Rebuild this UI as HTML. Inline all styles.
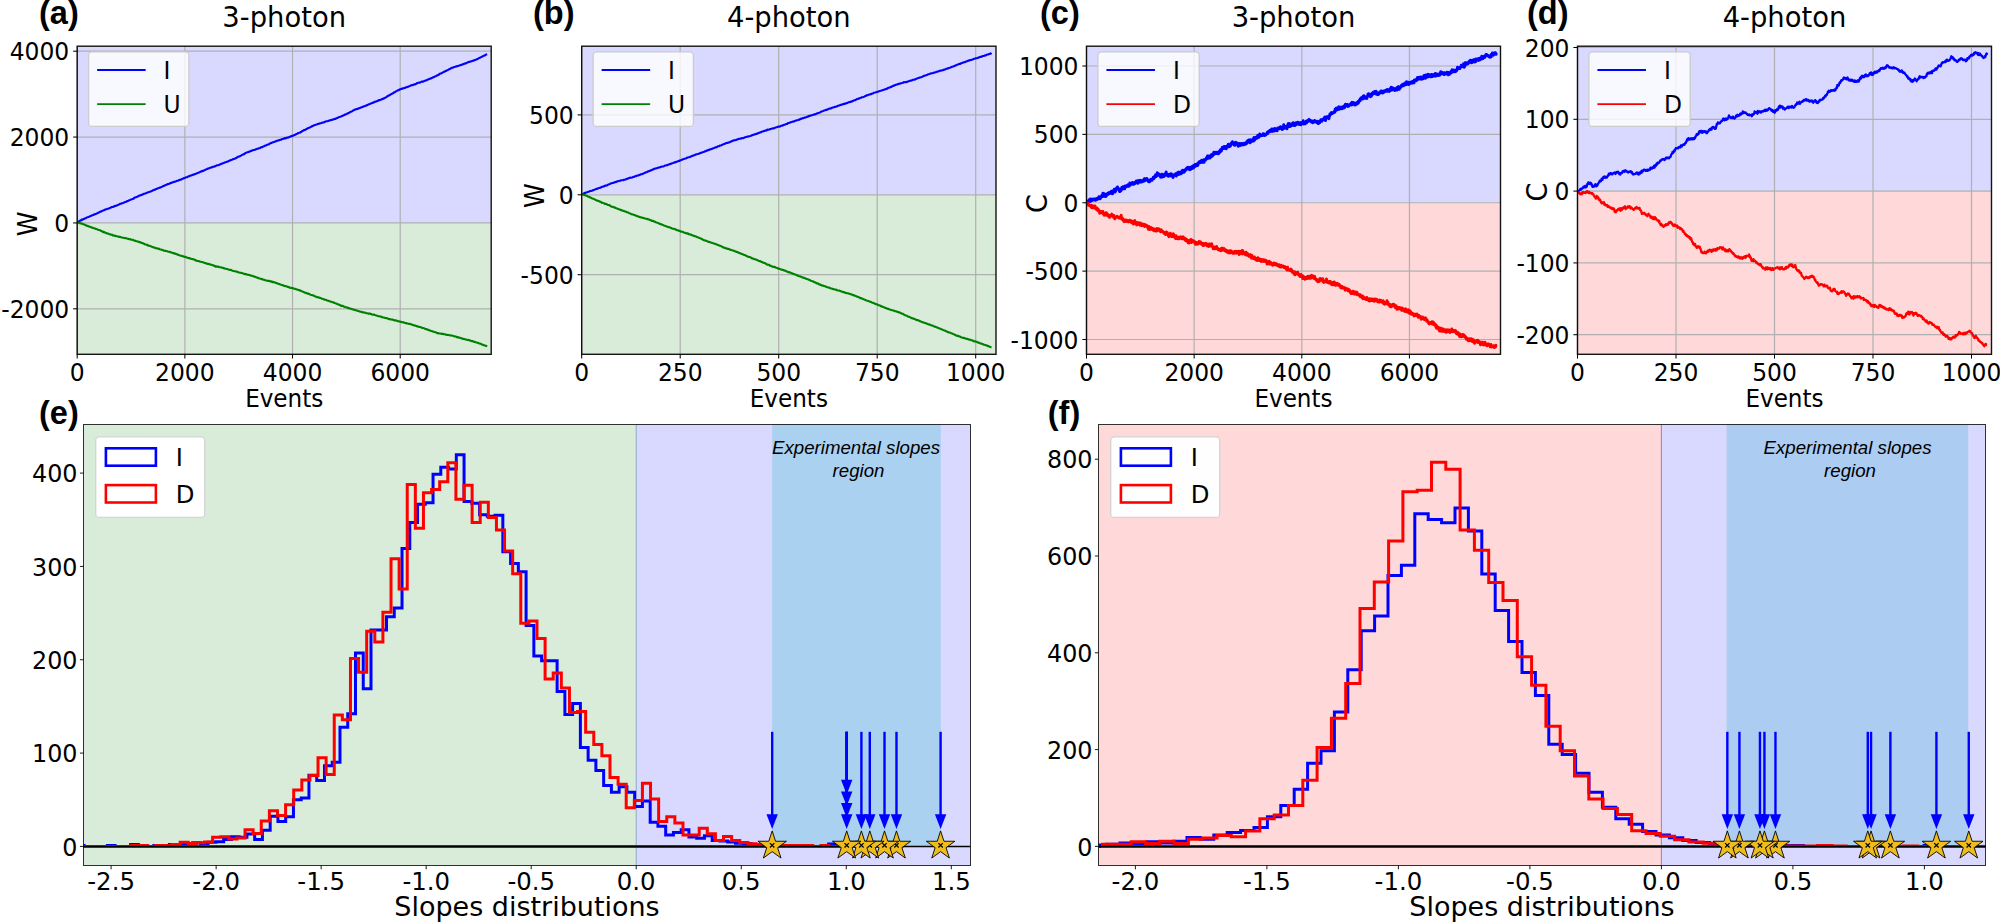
<!DOCTYPE html>
<html><head><meta charset="utf-8"><title>Figure</title>
<style>html,body{margin:0;padding:0;background:#fff}body{width:2000px;height:922px;overflow:hidden}svg{display:block}</style>
</head><body>
<svg width="2000" height="922" viewBox="0 0 2000 922">
<rect width="2000" height="922" fill="#fff"/>
<clipPath id="ca"><rect x="77.2" y="46.2" width="414.0" height="308.1"/></clipPath>
<rect x="77.2" y="46.2" width="414.0" height="176.73" fill="#d9d9ff"/>
<rect x="77.2" y="222.93" width="414.0" height="131.37" fill="#d9ecd9"/>
<line x1="77.20" x2="77.20" y1="46.2" y2="354.3" stroke="#b0b0b0" stroke-width="1.2"/>
<line x1="77.20" x2="77.20" y1="354.3" y2="358.6" stroke="#000" stroke-width="1.05"/>
<text transform="translate(77.20,380.90) scale(1,1.04)" font-size="23.4" text-anchor="middle" font-family="DejaVu Sans, Liberation Sans, sans-serif" >0</text>
<line x1="184.87" x2="184.87" y1="46.2" y2="354.3" stroke="#b0b0b0" stroke-width="1.2"/>
<line x1="184.87" x2="184.87" y1="354.3" y2="358.6" stroke="#000" stroke-width="1.05"/>
<text transform="translate(184.87,380.90) scale(1,1.04)" font-size="23.4" text-anchor="middle" font-family="DejaVu Sans, Liberation Sans, sans-serif" >2000</text>
<line x1="292.53" x2="292.53" y1="46.2" y2="354.3" stroke="#b0b0b0" stroke-width="1.2"/>
<line x1="292.53" x2="292.53" y1="354.3" y2="358.6" stroke="#000" stroke-width="1.05"/>
<text transform="translate(292.53,380.90) scale(1,1.04)" font-size="23.4" text-anchor="middle" font-family="DejaVu Sans, Liberation Sans, sans-serif" >4000</text>
<line x1="400.20" x2="400.20" y1="46.2" y2="354.3" stroke="#b0b0b0" stroke-width="1.2"/>
<line x1="400.20" x2="400.20" y1="354.3" y2="358.6" stroke="#000" stroke-width="1.05"/>
<text transform="translate(400.20,380.90) scale(1,1.04)" font-size="23.4" text-anchor="middle" font-family="DejaVu Sans, Liberation Sans, sans-serif" >6000</text>
<line x1="77.2" x2="491.2" y1="51.20" y2="51.20" stroke="#b0b0b0" stroke-width="1.2"/>
<line x1="73.10000000000001" x2="77.2" y1="51.20" y2="51.20" stroke="#000" stroke-width="1.05"/>
<text transform="translate(69.20,60.30) scale(1,1.04)" font-size="23.4" text-anchor="end" font-family="DejaVu Sans, Liberation Sans, sans-serif" >4000</text>
<line x1="77.2" x2="491.2" y1="137.07" y2="137.07" stroke="#b0b0b0" stroke-width="1.2"/>
<line x1="73.10000000000001" x2="77.2" y1="137.07" y2="137.07" stroke="#000" stroke-width="1.05"/>
<text transform="translate(69.20,146.17) scale(1,1.04)" font-size="23.4" text-anchor="end" font-family="DejaVu Sans, Liberation Sans, sans-serif" >2000</text>
<line x1="77.2" x2="491.2" y1="222.93" y2="222.93" stroke="#b0b0b0" stroke-width="1.2"/>
<line x1="73.10000000000001" x2="77.2" y1="222.93" y2="222.93" stroke="#000" stroke-width="1.05"/>
<text transform="translate(69.20,232.03) scale(1,1.04)" font-size="23.4" text-anchor="end" font-family="DejaVu Sans, Liberation Sans, sans-serif" >0</text>
<line x1="77.2" x2="491.2" y1="308.80" y2="308.80" stroke="#b0b0b0" stroke-width="1.2"/>
<line x1="73.10000000000001" x2="77.2" y1="308.80" y2="308.80" stroke="#000" stroke-width="1.05"/>
<text transform="translate(69.20,317.90) scale(1,1.04)" font-size="23.4" text-anchor="end" font-family="DejaVu Sans, Liberation Sans, sans-serif" >-2000</text>
<g clip-path="url(#ca)">
<polyline points="77.6,221.9 78.5,221.5 79.3,221.1 80.1,220.6 80.9,220.4 81.7,219.6 82.6,219.8 83.4,219.1 84.2,218.9 85.0,218.4 85.8,218.3 86.7,217.5 87.5,217.3 88.3,217.0 89.1,216.8 89.9,216.2 90.8,216.0 91.6,215.5 92.4,215.3 93.2,215.0 94.1,214.4 94.9,214.4 95.7,214.0 96.5,213.6 97.3,213.2 98.2,212.7 99.0,212.4 99.8,211.9 100.6,211.6 101.4,211.4 102.3,210.9 103.1,210.5 103.9,210.2 104.7,209.8 105.5,209.5 106.4,209.3 107.2,208.8 108.0,208.7 108.8,208.5 109.6,208.1 110.5,207.7 111.3,207.3 112.1,207.0 112.9,207.0 113.8,206.5 114.6,206.1 115.4,205.9 116.2,205.8 117.0,205.3 117.9,205.0 118.7,204.6 119.5,204.2 120.3,203.8 121.1,203.6 122.0,203.3 122.8,203.1 123.6,202.8 124.4,202.4 125.2,202.0 126.1,201.8 126.9,201.2 127.7,201.1 128.5,200.7 129.3,200.2 130.2,199.9 131.0,199.5 131.8,199.3 132.6,199.0 133.5,198.7 134.3,197.8 135.1,197.5 135.9,197.2 136.7,196.9 137.6,196.6 138.4,196.2 139.2,195.5 140.0,195.4 140.8,195.2 141.7,194.8 142.5,194.6 143.3,194.1 144.1,193.8 144.9,193.6 145.8,193.3 146.6,192.9 147.4,192.6 148.2,192.2 149.0,192.0 149.9,191.7 150.7,191.5 151.5,191.1 152.3,190.7 153.1,190.3 154.0,189.9 154.8,189.7 155.6,189.3 156.4,188.9 157.3,188.7 158.1,188.2 158.9,188.0 159.7,187.6 160.5,187.4 161.4,187.0 162.2,186.6 163.0,186.1 163.8,185.9 164.6,185.6 165.5,185.1 166.3,184.8 167.1,184.5 167.9,184.0 168.7,183.9 169.6,183.7 170.4,183.1 171.2,183.0 172.0,182.5 172.8,182.3 173.7,181.9 174.5,181.9 175.3,181.5 176.1,181.2 177.0,180.8 177.8,180.7 178.6,180.5 179.4,179.8 180.2,179.8 181.1,179.6 181.9,179.1 182.7,178.6 183.5,178.5 184.3,178.0 185.2,177.7 186.0,177.3 186.8,177.2 187.6,176.9 188.4,176.4 189.3,176.2 190.1,175.7 190.9,175.6 191.7,175.2 192.5,174.9 193.4,174.6 194.2,174.4 195.0,174.1 195.8,173.7 196.7,173.4 197.5,173.0 198.3,172.8 199.1,172.4 199.9,172.1 200.8,171.7 201.6,171.1 202.4,171.1 203.2,170.9 204.0,170.4 204.9,170.0 205.7,169.6 206.5,169.3 207.3,169.0 208.1,168.5 209.0,168.3 209.8,167.9 210.6,167.8 211.4,167.4 212.2,167.2 213.1,166.8 213.9,166.7 214.7,166.3 215.5,166.2 216.4,165.5 217.2,165.3 218.0,165.2 218.8,165.1 219.6,164.5 220.5,164.2 221.3,163.8 222.1,163.7 222.9,163.2 223.7,163.0 224.6,162.6 225.4,162.2 226.2,162.0 227.0,161.7 227.8,161.5 228.7,161.0 229.5,160.6 230.3,160.4 231.1,160.0 231.9,159.7 232.8,159.3 233.6,159.1 234.4,158.7 235.2,158.5 236.1,158.0 236.9,157.6 237.7,156.9 238.5,156.8 239.3,156.4 240.2,156.0 241.0,155.6 241.8,155.0 242.6,154.8 243.4,154.2 244.3,154.1 245.1,153.3 245.9,152.9 246.7,152.5 247.5,152.3 248.4,151.9 249.2,151.9 250.0,151.4 250.8,150.9 251.6,150.9 252.5,150.4 253.3,150.0 254.1,150.0 254.9,149.7 255.8,149.3 256.6,149.2 257.4,148.7 258.2,148.6 259.0,148.2 259.9,148.0 260.7,147.5 261.5,147.1 262.3,147.2 263.1,146.5 264.0,146.2 264.8,145.8 265.6,145.5 266.4,145.2 267.2,144.8 268.1,144.5 268.9,144.3 269.7,143.7 270.5,143.2 271.3,142.9 272.2,142.6 273.0,142.2 273.8,142.2 274.6,141.7 275.4,141.4 276.3,141.2 277.1,140.7 277.9,140.5 278.7,140.4 279.6,140.1 280.4,139.7 281.2,139.7 282.0,139.1 282.8,139.0 283.7,138.7 284.5,138.2 285.3,138.5 286.1,138.0 286.9,137.6 287.8,137.7 288.6,137.3 289.4,137.0 290.2,136.6 291.0,136.4 291.9,135.9 292.7,135.9 293.5,135.4 294.3,135.1 295.1,134.8 296.0,134.3 296.8,133.9 297.6,133.5 298.4,133.0 299.3,132.8 300.1,132.5 300.9,132.0 301.7,131.6 302.5,130.9 303.4,130.5 304.2,130.0 305.0,129.9 305.8,129.3 306.6,129.1 307.5,128.4 308.3,128.1 309.1,127.7 309.9,127.4 310.7,126.9 311.6,126.5 312.4,126.0 313.2,125.7 314.0,125.3 314.8,125.1 315.7,124.8 316.5,124.5 317.3,124.3 318.1,123.9 319.0,123.7 319.8,123.4 320.6,123.2 321.4,123.0 322.2,122.6 323.1,122.5 323.9,122.4 324.7,121.8 325.5,121.6 326.3,121.3 327.2,121.2 328.0,121.2 328.8,120.7 329.6,120.4 330.4,120.3 331.3,119.9 332.1,119.9 332.9,119.5 333.7,119.4 334.5,118.8 335.4,119.0 336.2,118.4 337.0,118.1 337.8,117.7 338.7,117.3 339.5,117.0 340.3,116.8 341.1,116.4 341.9,116.1 342.8,115.6 343.6,115.4 344.4,115.0 345.2,114.5 346.0,114.3 346.9,113.7 347.7,113.5 348.5,113.0 349.3,112.7 350.1,112.0 351.0,111.7 351.8,111.5 352.6,110.9 353.4,110.3 354.2,110.0 355.1,109.5 355.9,109.2 356.7,109.1 357.5,109.0 358.4,108.4 359.2,108.2 360.0,107.9 360.8,107.6 361.6,107.2 362.5,106.9 363.3,106.7 364.1,106.2 364.9,106.1 365.7,105.8 366.6,105.3 367.4,105.1 368.2,104.6 369.0,104.3 369.8,104.0 370.7,103.6 371.5,103.3 372.3,102.9 373.1,102.6 373.9,102.4 374.8,101.7 375.6,101.7 376.4,101.3 377.2,101.1 378.0,100.8 378.9,100.1 379.7,100.2 380.5,99.8 381.3,99.5 382.2,99.1 383.0,98.9 383.8,98.3 384.6,98.1 385.4,97.5 386.3,97.2 387.1,96.4 387.9,95.9 388.7,95.7 389.5,95.2 390.4,94.7 391.2,94.0 392.0,93.7 392.8,93.3 393.6,92.8 394.5,92.3 395.3,91.8 396.1,91.3 396.9,90.9 397.7,90.4 398.6,90.3 399.4,89.6 400.2,89.4 401.0,88.9 401.9,88.9 402.7,88.3 403.5,88.3 404.3,88.0 405.1,87.9 406.0,87.2 406.8,87.1 407.6,86.9 408.4,86.7 409.2,86.2 410.1,86.0 410.9,85.4 411.7,85.3 412.5,85.1 413.3,84.9 414.2,84.4 415.0,84.4 415.8,84.1 416.6,83.5 417.4,83.0 418.3,82.8 419.1,82.6 419.9,82.6 420.7,82.2 421.6,81.6 422.4,81.6 423.2,81.6 424.0,81.1 424.8,80.7 425.7,80.7 426.5,80.2 427.3,79.8 428.1,79.5 428.9,79.1 429.8,78.7 430.6,78.6 431.4,78.2 432.2,77.8 433.0,77.3 433.9,77.1 434.7,76.6 435.5,76.2 436.3,75.9 437.1,75.4 438.0,75.2 438.8,74.6 439.6,73.9 440.4,73.5 441.3,73.4 442.1,72.8 442.9,72.5 443.7,71.9 444.5,71.7 445.4,71.1 446.2,70.9 447.0,70.2 447.8,70.0 448.6,69.6 449.5,69.0 450.3,68.8 451.1,68.2 451.9,67.8 452.7,67.7 453.6,67.3 454.4,67.0 455.2,66.8 456.0,66.4 456.8,66.4 457.7,66.1 458.5,65.7 459.3,65.5 460.1,65.2 461.0,65.1 461.8,64.7 462.6,64.3 463.4,64.2 464.2,63.8 465.1,63.4 465.9,63.4 466.7,62.8 467.5,62.5 468.3,62.1 469.2,61.9 470.0,61.8 470.8,61.4 471.6,61.3 472.4,60.8 473.3,60.6 474.1,60.4 474.9,60.1 475.7,59.7 476.5,59.4 477.4,59.1 478.2,58.6 479.0,58.0 479.8,57.7 480.6,57.4 481.5,56.9 482.3,56.6 483.1,56.0 483.9,55.7 484.8,55.4 485.6,54.7 486.4,54.5 487.2,54.3" fill="none" stroke="#0000ff" stroke-width="2.15" stroke-linejoin="round" />
<polyline points="77.6,222.6 78.5,222.8 79.3,222.9 80.1,223.4 80.9,223.3 81.7,223.6 82.6,224.0 83.4,224.2 84.2,224.5 85.0,224.8 85.8,225.3 86.7,225.8 87.5,225.9 88.3,226.1 89.1,226.6 89.9,226.7 90.8,227.1 91.6,227.5 92.4,227.6 93.2,228.0 94.1,228.2 94.9,228.5 95.7,228.9 96.5,229.0 97.3,229.4 98.2,229.7 99.0,230.0 99.8,230.3 100.6,230.6 101.4,231.1 102.3,231.4 103.1,232.1 103.9,231.9 104.7,232.5 105.5,232.8 106.4,233.2 107.2,233.4 108.0,233.5 108.8,233.9 109.6,234.2 110.5,234.4 111.3,234.8 112.1,234.7 112.9,235.4 113.8,235.6 114.6,235.6 115.4,235.9 116.2,236.1 117.0,236.2 117.9,236.5 118.7,236.8 119.5,236.8 120.3,237.0 121.1,237.2 122.0,237.5 122.8,237.7 123.6,237.7 124.4,238.0 125.2,238.2 126.1,238.1 126.9,238.5 127.7,238.7 128.5,238.9 129.3,239.2 130.2,239.1 131.0,239.6 131.8,239.7 132.6,239.8 133.5,240.3 134.3,240.6 135.1,240.6 135.9,241.1 136.7,241.2 137.6,241.5 138.4,241.6 139.2,242.2 140.0,242.0 140.8,242.6 141.7,243.0 142.5,243.0 143.3,243.5 144.1,243.8 144.9,244.2 145.8,244.6 146.6,244.7 147.4,244.9 148.2,245.6 149.0,245.8 149.9,245.9 150.7,246.3 151.5,246.6 152.3,246.9 153.1,247.2 154.0,247.6 154.8,247.5 155.6,248.1 156.4,248.2 157.3,248.4 158.1,248.8 158.9,248.7 159.7,249.3 160.5,249.5 161.4,249.6 162.2,250.0 163.0,250.1 163.8,250.7 164.6,250.8 165.5,250.9 166.3,251.0 167.1,251.2 167.9,251.5 168.7,251.7 169.6,251.9 170.4,252.1 171.2,252.4 172.0,252.7 172.8,252.9 173.7,253.1 174.5,253.8 175.3,253.6 176.1,253.9 177.0,254.4 177.8,254.6 178.6,254.9 179.4,255.3 180.2,255.6 181.1,255.8 181.9,255.9 182.7,256.4 183.5,256.3 184.3,256.8 185.2,256.9 186.0,257.1 186.8,257.5 187.6,257.7 188.4,258.1 189.3,258.0 190.1,258.5 190.9,258.7 191.7,259.0 192.5,259.0 193.4,259.4 194.2,259.5 195.0,259.7 195.8,260.6 196.7,260.6 197.5,261.0 198.3,261.0 199.1,261.3 199.9,261.6 200.8,261.8 201.6,262.0 202.4,262.2 203.2,262.2 204.0,262.7 204.9,263.0 205.7,263.3 206.5,263.3 207.3,263.8 208.1,263.8 209.0,264.0 209.8,264.5 210.6,264.5 211.4,264.7 212.2,265.1 213.1,265.4 213.9,265.6 214.7,265.9 215.5,266.6 216.4,266.4 217.2,266.7 218.0,266.5 218.8,267.0 219.6,267.2 220.5,267.3 221.3,267.4 222.1,267.8 222.9,267.9 223.7,268.1 224.6,268.5 225.4,268.7 226.2,268.8 227.0,269.0 227.8,269.3 228.7,269.6 229.5,269.8 230.3,269.8 231.1,270.1 231.9,270.4 232.8,270.7 233.6,271.0 234.4,271.2 235.2,271.2 236.1,271.5 236.9,271.6 237.7,272.2 238.5,272.2 239.3,272.5 240.2,272.8 241.0,272.9 241.8,273.0 242.6,273.3 243.4,273.5 244.3,273.9 245.1,274.1 245.9,274.0 246.7,274.5 247.5,274.7 248.4,274.7 249.2,275.0 250.0,275.1 250.8,275.6 251.6,275.7 252.5,275.9 253.3,276.2 254.1,276.6 254.9,276.8 255.8,277.1 256.6,277.5 257.4,277.6 258.2,277.9 259.0,278.5 259.9,278.5 260.7,278.7 261.5,279.1 262.3,279.1 263.1,279.7 264.0,279.8 264.8,280.1 265.6,280.3 266.4,280.5 267.2,280.7 268.1,280.9 268.9,280.9 269.7,281.1 270.5,281.4 271.3,281.3 272.2,282.1 273.0,281.9 273.8,282.3 274.6,282.4 275.4,282.6 276.3,283.1 277.1,283.3 277.9,283.6 278.7,284.0 279.6,284.1 280.4,284.5 281.2,284.8 282.0,285.0 282.8,285.3 283.7,285.7 284.5,285.9 285.3,286.2 286.1,286.1 286.9,286.6 287.8,286.9 288.6,287.1 289.4,287.4 290.2,287.8 291.0,287.8 291.9,288.1 292.7,288.1 293.5,288.4 294.3,288.7 295.1,288.8 296.0,289.2 296.8,289.4 297.6,289.7 298.4,289.9 299.3,290.1 300.1,290.6 300.9,290.8 301.7,291.2 302.5,291.5 303.4,291.8 304.2,292.3 305.0,292.7 305.8,292.9 306.6,293.1 307.5,293.7 308.3,293.6 309.1,293.9 309.9,294.4 310.7,294.7 311.6,295.0 312.4,295.3 313.2,295.4 314.0,295.7 314.8,296.3 315.7,296.6 316.5,296.7 317.3,297.3 318.1,297.2 319.0,297.6 319.8,297.9 320.6,298.0 321.4,298.4 322.2,298.7 323.1,299.0 323.9,299.4 324.7,299.6 325.5,299.7 326.3,300.0 327.2,300.4 328.0,300.7 328.8,300.8 329.6,301.3 330.4,301.6 331.3,301.7 332.1,302.2 332.9,302.2 333.7,302.5 334.5,303.0 335.4,303.2 336.2,303.5 337.0,303.9 337.8,304.2 338.7,304.6 339.5,304.8 340.3,305.2 341.1,306.0 341.9,305.9 342.8,305.9 343.6,306.5 344.4,306.8 345.2,307.1 346.0,307.2 346.9,307.4 347.7,307.9 348.5,308.1 349.3,308.0 350.1,308.6 351.0,308.7 351.8,309.1 352.6,309.2 353.4,309.6 354.2,309.8 355.1,310.1 355.9,310.2 356.7,310.4 357.5,310.7 358.4,311.0 359.2,311.2 360.0,311.6 360.8,311.7 361.6,311.9 362.5,312.3 363.3,312.3 364.1,312.5 364.9,312.6 365.7,312.9 366.6,313.2 367.4,313.3 368.2,313.6 369.0,313.5 369.8,313.6 370.7,314.0 371.5,314.0 372.3,314.7 373.1,314.7 373.9,314.6 374.8,315.0 375.6,315.2 376.4,315.5 377.2,315.7 378.0,316.0 378.9,316.3 379.7,316.4 380.5,316.5 381.3,316.9 382.2,317.1 383.0,317.5 383.8,317.5 384.6,317.8 385.4,318.0 386.3,318.1 387.1,318.3 387.9,318.6 388.7,319.1 389.5,319.1 390.4,319.2 391.2,319.5 392.0,319.6 392.8,319.6 393.6,320.0 394.5,320.4 395.3,320.4 396.1,320.4 396.9,320.8 397.7,321.2 398.6,321.2 399.4,321.4 400.2,321.8 401.0,321.9 401.9,322.1 402.7,322.2 403.5,322.4 404.3,322.6 405.1,323.0 406.0,323.0 406.8,323.5 407.6,323.5 408.4,323.7 409.2,324.0 410.1,323.9 410.9,324.3 411.7,324.5 412.5,324.9 413.3,325.0 414.2,325.5 415.0,325.5 415.8,325.9 416.6,326.0 417.4,326.5 418.3,326.6 419.1,326.9 419.9,327.0 420.7,327.2 421.6,327.6 422.4,328.0 423.2,328.0 424.0,328.2 424.8,328.7 425.7,329.1 426.5,329.1 427.3,329.5 428.1,329.9 428.9,330.1 429.8,330.4 430.6,330.8 431.4,331.0 432.2,331.3 433.0,331.6 433.9,331.8 434.7,332.0 435.5,332.2 436.3,332.5 437.1,333.1 438.0,333.1 438.8,333.4 439.6,333.5 440.4,333.5 441.3,333.8 442.1,333.8 442.9,333.8 443.7,334.2 444.5,334.2 445.4,334.4 446.2,334.7 447.0,335.0 447.8,334.9 448.6,335.0 449.5,335.3 450.3,335.4 451.1,335.5 451.9,335.5 452.7,335.8 453.6,336.1 454.4,336.2 455.2,336.5 456.0,336.6 456.8,337.2 457.7,337.1 458.5,337.7 459.3,337.6 460.1,337.8 461.0,338.0 461.8,338.5 462.6,338.8 463.4,338.8 464.2,339.1 465.1,339.3 465.9,339.5 466.7,339.8 467.5,340.0 468.3,339.9 469.2,340.1 470.0,340.6 470.8,340.8 471.6,341.1 472.4,341.1 473.3,341.4 474.1,342.0 474.9,341.9 475.7,342.3 476.5,342.5 477.4,342.8 478.2,342.9 479.0,343.5 479.8,343.5 480.6,343.8 481.5,344.2 482.3,344.7 483.1,344.9 483.9,345.2 484.8,345.4 485.6,345.7 486.4,346.0 487.2,346.4" fill="none" stroke="#008000" stroke-width="2.15" stroke-linejoin="round" />
</g>
<rect x="77.2" y="46.2" width="414.0" height="308.1" fill="none" stroke="#000" stroke-width="1.4" stroke-opacity="0.92"/>
<rect x="88.6" y="51.9" width="100.3" height="74.5" rx="3.5" fill="#fff" fill-opacity="0.8" stroke="#ccc" stroke-width="1.3"/>
<line x1="98.1" x2="144.7" y1="70.0" y2="70.0" stroke="#0000ff" stroke-width="1.95" stroke-linecap="square"/>
<text transform="translate(163.60,78.80) scale(1,1.04)" font-size="23.4" text-anchor="start" font-family="DejaVu Sans, Liberation Sans, sans-serif" >I</text>
<line x1="98.1" x2="144.7" y1="104.1" y2="104.1" stroke="#008000" stroke-width="1.95" stroke-linecap="square"/>
<text transform="translate(163.60,112.90) scale(1,1.04)" font-size="23.4" text-anchor="start" font-family="DejaVu Sans, Liberation Sans, sans-serif" >U</text>
<text transform="translate(284.20,26.90) scale(1,1.015)" font-size="27.4" text-anchor="middle" font-family="DejaVu Sans, Liberation Sans, sans-serif" >3-photon</text>
<text transform="translate(284.20,407.40) scale(1,1.04)" font-size="23.1" text-anchor="middle" font-family="DejaVu Sans, Liberation Sans, sans-serif" >Events</text>
<text transform="translate(37.0,223.8) rotate(-90) scale(1,1.04)" font-size="25.0" text-anchor="middle" font-family="DejaVu Sans, Liberation Sans, sans-serif">W</text>
<text x="39.00" y="24.20" font-size="32.5" text-anchor="start" font-family="Liberation Sans, sans-serif" font-weight="bold">(a)</text>
<clipPath id="cb"><rect x="581.7" y="46.2" width="414.29999999999995" height="308.1"/></clipPath>
<rect x="581.7" y="46.2" width="414.29999999999995" height="148.60" fill="#d9d9ff"/>
<rect x="581.7" y="194.80" width="414.29999999999995" height="159.50" fill="#d9ecd9"/>
<line x1="581.70" x2="581.70" y1="46.2" y2="354.3" stroke="#b0b0b0" stroke-width="1.2"/>
<line x1="581.70" x2="581.70" y1="354.3" y2="358.6" stroke="#000" stroke-width="1.05"/>
<text transform="translate(581.70,380.90) scale(1,1.04)" font-size="23.4" text-anchor="middle" font-family="DejaVu Sans, Liberation Sans, sans-serif" >0</text>
<line x1="680.20" x2="680.20" y1="46.2" y2="354.3" stroke="#b0b0b0" stroke-width="1.2"/>
<line x1="680.20" x2="680.20" y1="354.3" y2="358.6" stroke="#000" stroke-width="1.05"/>
<text transform="translate(680.20,380.90) scale(1,1.04)" font-size="23.4" text-anchor="middle" font-family="DejaVu Sans, Liberation Sans, sans-serif" >250</text>
<line x1="778.70" x2="778.70" y1="46.2" y2="354.3" stroke="#b0b0b0" stroke-width="1.2"/>
<line x1="778.70" x2="778.70" y1="354.3" y2="358.6" stroke="#000" stroke-width="1.05"/>
<text transform="translate(778.70,380.90) scale(1,1.04)" font-size="23.4" text-anchor="middle" font-family="DejaVu Sans, Liberation Sans, sans-serif" >500</text>
<line x1="877.20" x2="877.20" y1="46.2" y2="354.3" stroke="#b0b0b0" stroke-width="1.2"/>
<line x1="877.20" x2="877.20" y1="354.3" y2="358.6" stroke="#000" stroke-width="1.05"/>
<text transform="translate(877.20,380.90) scale(1,1.04)" font-size="23.4" text-anchor="middle" font-family="DejaVu Sans, Liberation Sans, sans-serif" >750</text>
<line x1="975.70" x2="975.70" y1="46.2" y2="354.3" stroke="#b0b0b0" stroke-width="1.2"/>
<line x1="975.70" x2="975.70" y1="354.3" y2="358.6" stroke="#000" stroke-width="1.05"/>
<text transform="translate(975.70,380.90) scale(1,1.04)" font-size="23.4" text-anchor="middle" font-family="DejaVu Sans, Liberation Sans, sans-serif" >1000</text>
<line x1="581.7" x2="996.0" y1="114.90" y2="114.90" stroke="#b0b0b0" stroke-width="1.2"/>
<line x1="577.6" x2="581.7" y1="114.90" y2="114.90" stroke="#000" stroke-width="1.05"/>
<text transform="translate(573.70,124.00) scale(1,1.04)" font-size="23.4" text-anchor="end" font-family="DejaVu Sans, Liberation Sans, sans-serif" >500</text>
<line x1="581.7" x2="996.0" y1="194.80" y2="194.80" stroke="#b0b0b0" stroke-width="1.2"/>
<line x1="577.6" x2="581.7" y1="194.80" y2="194.80" stroke="#000" stroke-width="1.05"/>
<text transform="translate(573.70,203.90) scale(1,1.04)" font-size="23.4" text-anchor="end" font-family="DejaVu Sans, Liberation Sans, sans-serif" >0</text>
<line x1="581.7" x2="996.0" y1="274.70" y2="274.70" stroke="#b0b0b0" stroke-width="1.2"/>
<line x1="577.6" x2="581.7" y1="274.70" y2="274.70" stroke="#000" stroke-width="1.05"/>
<text transform="translate(573.70,283.80) scale(1,1.04)" font-size="23.4" text-anchor="end" font-family="DejaVu Sans, Liberation Sans, sans-serif" >-500</text>
<g clip-path="url(#cb)">
<polyline points="581.9,194.1 582.8,193.8 583.6,193.5 584.4,193.1 585.2,192.9 586.0,192.6 586.9,192.3 587.7,192.0 588.5,191.7 589.3,191.4 590.2,191.0 591.0,191.0 591.8,190.7 592.6,190.5 593.4,190.0 594.3,189.7 595.1,189.4 595.9,189.0 596.7,189.0 597.5,188.5 598.4,188.2 599.2,188.0 600.0,187.9 600.8,187.5 601.6,187.0 602.5,186.7 603.3,186.6 604.1,186.2 604.9,185.8 605.7,185.6 606.6,185.4 607.4,185.2 608.2,184.5 609.0,184.3 609.8,184.0 610.7,183.5 611.5,183.3 612.3,183.0 613.1,183.0 614.0,182.6 614.8,182.1 615.6,182.2 616.4,181.8 617.2,181.4 618.1,181.3 618.9,181.0 619.7,180.8 620.5,180.7 621.3,180.2 622.2,180.2 623.0,180.1 623.8,179.9 624.6,179.7 625.4,179.4 626.3,179.3 627.1,178.7 627.9,178.7 628.7,178.1 629.5,178.0 630.4,177.6 631.2,177.7 632.0,177.5 632.8,177.1 633.7,177.0 634.5,176.5 635.3,176.3 636.1,176.1 636.9,175.6 637.8,175.5 638.6,175.4 639.4,174.8 640.2,174.7 641.0,174.3 641.9,174.2 642.7,173.8 643.5,173.5 644.3,173.1 645.1,172.8 646.0,172.2 646.8,172.2 647.6,171.5 648.4,171.4 649.2,171.1 650.1,170.6 650.9,170.4 651.7,170.2 652.5,169.7 653.4,169.3 654.2,168.7 655.0,168.7 655.8,168.4 656.6,168.2 657.5,167.9 658.3,167.8 659.1,167.4 659.9,167.2 660.7,167.1 661.6,166.6 662.4,166.5 663.2,166.5 664.0,166.1 664.8,165.6 665.7,165.5 666.5,165.3 667.3,165.1 668.1,164.7 668.9,164.4 669.8,164.1 670.6,163.9 671.4,163.6 672.2,163.2 673.1,163.0 673.9,162.6 674.7,162.5 675.5,162.0 676.3,161.9 677.2,161.6 678.0,161.3 678.8,160.8 679.6,160.8 680.4,160.2 681.3,160.1 682.1,159.6 682.9,159.2 683.7,159.1 684.5,158.8 685.4,158.5 686.2,158.2 687.0,157.8 687.8,157.5 688.6,157.3 689.5,157.2 690.3,156.8 691.1,156.3 691.9,156.1 692.8,155.7 693.6,155.4 694.4,155.3 695.2,154.8 696.0,154.4 696.9,154.2 697.7,154.0 698.5,153.7 699.3,153.6 700.1,153.0 701.0,152.9 701.8,152.6 702.6,152.2 703.4,152.0 704.2,151.7 705.1,151.2 705.9,151.2 706.7,150.6 707.5,150.4 708.3,150.1 709.2,149.9 710.0,149.4 710.8,149.2 711.6,148.9 712.4,148.7 713.3,148.2 714.1,148.0 714.9,147.6 715.7,147.2 716.6,147.3 717.4,146.7 718.2,146.2 719.0,146.2 719.8,145.6 720.7,145.5 721.5,145.2 722.3,144.7 723.1,144.4 723.9,144.1 724.8,143.8 725.6,143.3 726.4,143.1 727.2,142.9 728.0,142.7 728.9,142.4 729.7,142.2 730.5,141.8 731.3,141.3 732.1,141.1 733.0,140.6 733.8,140.4 734.6,140.2 735.4,140.1 736.3,139.9 737.1,139.5 737.9,139.2 738.7,138.9 739.5,138.8 740.4,138.6 741.2,138.4 742.0,138.1 742.8,138.2 743.6,137.9 744.5,137.5 745.3,137.2 746.1,137.0 746.9,136.8 747.7,136.6 748.6,136.4 749.4,136.2 750.2,136.0 751.0,135.7 751.8,135.3 752.7,135.1 753.5,134.7 754.3,134.4 755.1,134.4 756.0,133.8 756.8,133.9 757.6,133.3 758.4,133.1 759.2,132.9 760.1,132.4 760.9,132.2 761.7,131.8 762.5,131.5 763.3,131.3 764.2,130.9 765.0,130.9 765.8,130.4 766.6,130.4 767.4,129.6 768.3,129.7 769.1,129.5 769.9,129.1 770.7,129.1 771.5,128.8 772.4,128.4 773.2,128.3 774.0,128.3 774.8,127.8 775.7,127.5 776.5,127.2 777.3,127.0 778.1,126.6 778.9,126.5 779.8,126.6 780.6,126.1 781.4,125.8 782.2,125.6 783.0,125.4 783.9,124.9 784.7,124.8 785.5,124.4 786.3,124.0 787.1,123.9 788.0,123.1 788.8,123.0 789.6,122.8 790.4,122.3 791.2,122.1 792.1,121.8 792.9,121.5 793.7,121.6 794.5,121.1 795.4,120.8 796.2,120.6 797.0,120.2 797.8,120.0 798.6,119.7 799.5,119.6 800.3,118.9 801.1,118.9 801.9,118.6 802.7,118.1 803.6,118.1 804.4,117.6 805.2,117.6 806.0,117.2 806.8,117.0 807.7,116.6 808.5,116.4 809.3,115.8 810.1,115.8 810.9,115.5 811.8,115.3 812.6,115.0 813.4,114.8 814.2,114.3 815.0,114.4 815.9,114.1 816.7,113.5 817.5,113.2 818.3,113.0 819.2,112.8 820.0,112.5 820.8,111.8 821.6,111.6 822.4,111.2 823.3,110.9 824.1,110.5 824.9,110.4 825.7,109.9 826.5,110.0 827.4,109.6 828.2,109.1 829.0,108.8 829.8,108.6 830.6,108.5 831.5,108.0 832.3,107.6 833.1,107.5 833.9,107.3 834.7,106.9 835.6,106.9 836.4,106.5 837.2,106.2 838.0,105.8 838.9,105.6 839.7,105.3 840.5,104.8 841.3,104.8 842.1,104.3 843.0,104.3 843.8,103.8 844.6,104.0 845.4,103.5 846.2,103.3 847.1,103.1 847.9,102.6 848.7,102.2 849.5,102.1 850.3,102.0 851.2,101.6 852.0,101.4 852.8,101.1 853.6,100.5 854.4,100.3 855.3,100.2 856.1,99.6 856.9,99.1 857.7,99.0 858.6,98.6 859.4,98.4 860.2,98.0 861.0,97.8 861.8,97.2 862.7,97.2 863.5,97.0 864.3,96.6 865.1,96.0 865.9,95.9 866.8,95.2 867.6,95.3 868.4,94.9 869.2,94.5 870.0,94.4 870.9,94.1 871.7,93.9 872.5,93.5 873.3,93.2 874.1,92.7 875.0,92.5 875.8,92.3 876.6,92.1 877.4,91.8 878.3,91.7 879.1,91.2 879.9,91.0 880.7,90.8 881.5,90.5 882.4,90.3 883.2,89.9 884.0,89.8 884.8,89.3 885.6,89.2 886.5,88.7 887.3,88.6 888.1,87.9 888.9,87.8 889.7,87.4 890.6,87.1 891.4,86.9 892.2,86.3 893.0,85.9 893.8,85.6 894.7,85.4 895.5,84.9 896.3,84.8 897.1,84.4 898.0,84.1 898.8,83.9 899.6,83.8 900.4,83.4 901.2,83.2 902.1,83.0 902.9,82.8 903.7,82.2 904.5,82.3 905.3,82.1 906.2,82.1 907.0,81.9 907.8,81.6 908.6,81.3 909.4,80.9 910.3,80.8 911.1,80.6 911.9,80.4 912.7,79.9 913.5,79.8 914.4,79.6 915.2,79.4 916.0,78.9 916.8,78.6 917.6,78.2 918.5,78.0 919.3,77.6 920.1,77.5 920.9,77.2 921.8,76.9 922.6,76.6 923.4,76.1 924.2,75.9 925.0,75.5 925.9,75.3 926.7,75.1 927.5,74.7 928.3,74.2 929.1,74.1 930.0,73.8 930.8,73.4 931.6,73.2 932.4,73.2 933.2,73.0 934.1,72.5 934.9,72.5 935.7,72.3 936.5,71.7 937.3,71.6 938.2,71.4 939.0,71.2 939.8,70.7 940.6,70.6 941.5,70.6 942.3,70.3 943.1,70.2 943.9,69.6 944.7,69.6 945.6,69.2 946.4,68.7 947.2,68.7 948.0,68.3 948.8,68.1 949.7,67.7 950.5,67.5 951.3,67.1 952.1,66.8 952.9,66.6 953.8,66.2 954.6,65.8 955.4,65.7 956.2,65.2 957.0,64.8 957.9,64.5 958.7,64.1 959.5,63.9 960.3,63.9 961.2,63.2 962.0,63.0 962.8,62.6 963.6,62.4 964.4,62.3 965.3,62.0 966.1,61.5 966.9,61.3 967.7,60.9 968.5,60.6 969.4,60.4 970.2,60.1 971.0,60.0 971.8,59.7 972.6,59.5 973.5,59.1 974.3,58.7 975.1,58.6 975.9,58.3 976.7,58.2 977.6,57.9 978.4,57.7 979.2,57.3 980.0,56.9 980.9,56.9 981.7,56.7 982.5,56.1 983.3,56.0 984.1,55.9 985.0,55.3 985.8,55.4 986.6,54.8 987.4,54.5 988.2,54.5 989.1,54.1 989.9,53.7 990.7,53.6 991.5,52.9" fill="none" stroke="#0000ff" stroke-width="2.15" stroke-linejoin="round" />
<polyline points="581.9,194.1 582.8,194.4 583.6,194.7 584.4,195.1 585.2,195.3 586.0,195.5 586.9,195.9 587.7,196.4 588.5,196.7 589.3,196.9 590.2,197.5 591.0,197.8 591.8,198.2 592.6,198.5 593.4,198.7 594.3,199.3 595.1,199.5 595.9,200.1 596.7,200.4 597.5,200.7 598.4,200.9 599.2,201.3 600.0,201.7 600.8,201.9 601.6,202.6 602.5,202.7 603.3,203.2 604.1,203.2 604.9,203.9 605.7,203.8 606.6,204.2 607.4,204.7 608.2,205.0 609.0,205.0 609.8,205.5 610.7,206.1 611.5,206.6 612.3,206.7 613.1,206.9 614.0,207.4 614.8,207.5 615.6,208.0 616.4,208.2 617.2,208.6 618.1,208.9 618.9,209.3 619.7,209.5 620.5,209.9 621.3,210.1 622.2,210.5 623.0,210.8 623.8,210.8 624.6,211.3 625.4,211.6 626.3,211.8 627.1,212.3 627.9,212.4 628.7,212.9 629.5,213.3 630.4,213.5 631.2,214.1 632.0,214.2 632.8,214.5 633.7,214.7 634.5,215.1 635.3,215.3 636.1,215.8 636.9,215.9 637.8,216.3 638.6,216.8 639.4,216.9 640.2,217.1 641.0,217.5 641.9,217.5 642.7,217.9 643.5,218.0 644.3,218.2 645.1,218.5 646.0,218.8 646.8,218.9 647.6,219.1 648.4,219.4 649.2,219.5 650.1,219.9 650.9,220.2 651.7,220.8 652.5,220.8 653.4,221.0 654.2,221.6 655.0,221.8 655.8,222.2 656.6,222.5 657.5,222.8 658.3,223.1 659.1,223.6 659.9,223.9 660.7,224.1 661.6,224.4 662.4,224.7 663.2,225.1 664.0,225.5 664.8,225.8 665.7,226.1 666.5,226.3 667.3,226.8 668.1,226.9 668.9,227.2 669.8,227.4 670.6,227.8 671.4,228.0 672.2,228.6 673.1,228.7 673.9,228.7 674.7,229.1 675.5,229.3 676.3,229.9 677.2,230.2 678.0,230.3 678.8,230.7 679.6,230.9 680.4,231.2 681.3,231.7 682.1,231.7 682.9,231.9 683.7,232.4 684.5,232.7 685.4,232.9 686.2,233.3 687.0,233.3 687.8,233.4 688.6,234.1 689.5,234.2 690.3,234.4 691.1,234.7 691.9,235.2 692.8,235.4 693.6,235.7 694.4,236.1 695.2,236.2 696.0,236.5 696.9,236.9 697.7,237.2 698.5,237.6 699.3,237.9 700.1,238.3 701.0,238.6 701.8,239.0 702.6,239.5 703.4,239.9 704.2,240.2 705.1,240.4 705.9,240.7 706.7,241.0 707.5,241.4 708.3,241.8 709.2,241.8 710.0,242.3 710.8,242.4 711.6,242.7 712.4,243.0 713.3,243.2 714.1,243.7 714.9,243.7 715.7,244.1 716.6,244.5 717.4,244.7 718.2,245.2 719.0,245.3 719.8,245.8 720.7,246.0 721.5,246.4 722.3,246.9 723.1,247.4 723.9,247.6 724.8,247.9 725.6,248.1 726.4,248.6 727.2,248.6 728.0,248.9 728.9,249.0 729.7,249.5 730.5,249.9 731.3,249.9 732.1,250.2 733.0,250.5 733.8,250.8 734.6,251.1 735.4,251.3 736.3,251.9 737.1,251.8 737.9,252.3 738.7,252.7 739.5,253.1 740.4,253.3 741.2,253.7 742.0,254.0 742.8,254.3 743.6,254.8 744.5,255.0 745.3,255.3 746.1,255.7 746.9,256.1 747.7,256.6 748.6,256.9 749.4,257.0 750.2,257.2 751.0,257.6 751.8,258.3 752.7,258.3 753.5,258.8 754.3,259.2 755.1,259.3 756.0,259.6 756.8,259.9 757.6,260.2 758.4,260.7 759.2,261.1 760.1,261.1 760.9,261.7 761.7,261.9 762.5,262.3 763.3,262.7 764.2,262.9 765.0,263.3 765.8,263.6 766.6,264.3 767.4,264.7 768.3,264.8 769.1,264.9 769.9,265.6 770.7,265.7 771.5,266.3 772.4,266.6 773.2,266.9 774.0,266.9 774.8,267.1 775.7,267.5 776.5,267.8 777.3,268.0 778.1,268.5 778.9,268.8 779.8,268.9 780.6,269.2 781.4,269.6 782.2,269.9 783.0,269.8 783.9,270.4 784.7,270.6 785.5,270.8 786.3,271.2 787.1,271.5 788.0,272.1 788.8,272.1 789.6,272.4 790.4,272.6 791.2,273.2 792.1,273.3 792.9,273.7 793.7,274.1 794.5,274.3 795.4,274.6 796.2,274.9 797.0,275.4 797.8,275.6 798.6,275.9 799.5,276.2 800.3,276.5 801.1,276.8 801.9,277.1 802.7,277.6 803.6,277.8 804.4,277.8 805.2,278.3 806.0,278.8 806.8,278.9 807.7,279.2 808.5,279.7 809.3,279.8 810.1,280.3 810.9,280.7 811.8,281.0 812.6,281.2 813.4,281.5 814.2,282.2 815.0,282.3 815.9,282.7 816.7,283.4 817.5,283.4 818.3,283.5 819.2,284.5 820.0,284.6 820.8,284.8 821.6,285.4 822.4,285.4 823.3,285.9 824.1,286.0 824.9,286.2 825.7,286.6 826.5,286.9 827.4,287.3 828.2,287.5 829.0,287.6 829.8,287.9 830.6,288.4 831.5,288.5 832.3,288.7 833.1,289.1 833.9,289.3 834.7,289.5 835.6,289.6 836.4,289.8 837.2,290.2 838.0,290.5 838.9,290.5 839.7,290.8 840.5,291.1 841.3,291.5 842.1,291.5 843.0,292.2 843.8,292.1 844.6,292.4 845.4,292.9 846.2,292.9 847.1,293.2 847.9,293.3 848.7,293.6 849.5,293.7 850.3,294.1 851.2,294.4 852.0,294.5 852.8,295.1 853.6,295.3 854.4,295.3 855.3,296.0 856.1,296.1 856.9,296.6 857.7,296.7 858.6,297.1 859.4,297.5 860.2,298.1 861.0,298.0 861.8,298.5 862.7,298.8 863.5,299.3 864.3,299.5 865.1,299.9 865.9,300.3 866.8,300.6 867.6,300.7 868.4,301.0 869.2,301.4 870.0,301.8 870.9,301.9 871.7,302.4 872.5,302.8 873.3,302.9 874.1,303.3 875.0,303.7 875.8,304.1 876.6,304.2 877.4,304.5 878.3,305.1 879.1,305.3 879.9,305.5 880.7,306.0 881.5,306.5 882.4,306.6 883.2,306.9 884.0,307.3 884.8,307.8 885.6,307.9 886.5,308.3 887.3,308.7 888.1,308.9 888.9,309.1 889.7,309.5 890.6,309.7 891.4,310.0 892.2,310.3 893.0,310.5 893.8,310.5 894.7,311.1 895.5,311.2 896.3,311.3 897.1,311.8 898.0,312.1 898.8,312.4 899.6,312.4 900.4,313.0 901.2,313.3 902.1,313.7 902.9,313.8 903.7,314.5 904.5,314.9 905.3,315.2 906.2,315.5 907.0,315.9 907.8,316.4 908.6,316.7 909.4,316.9 910.3,317.4 911.1,317.8 911.9,318.2 912.7,318.4 913.5,318.6 914.4,318.9 915.2,319.3 916.0,319.7 916.8,320.1 917.6,320.0 918.5,320.5 919.3,320.7 920.1,321.3 920.9,321.6 921.8,321.9 922.6,322.2 923.4,322.4 924.2,322.8 925.0,323.0 925.9,323.3 926.7,323.6 927.5,324.0 928.3,324.3 929.1,324.3 930.0,324.7 930.8,325.1 931.6,325.5 932.4,325.5 933.2,325.9 934.1,326.3 934.9,326.8 935.7,326.9 936.5,327.2 937.3,327.6 938.2,327.9 939.0,328.3 939.8,328.6 940.6,328.9 941.5,329.3 942.3,329.6 943.1,330.0 943.9,330.3 944.7,330.5 945.6,331.0 946.4,331.3 947.2,331.7 948.0,332.0 948.8,332.5 949.7,332.5 950.5,332.9 951.3,333.3 952.1,333.5 952.9,333.9 953.8,334.2 954.6,334.6 955.4,335.2 956.2,335.3 957.0,335.8 957.9,335.8 958.7,336.2 959.5,336.4 960.3,336.8 961.2,337.3 962.0,337.6 962.8,337.7 963.6,337.9 964.4,338.1 965.3,338.4 966.1,338.8 966.9,338.7 967.7,339.1 968.5,339.2 969.4,339.7 970.2,339.7 971.0,340.2 971.8,340.2 972.6,340.5 973.5,341.1 974.3,341.3 975.1,341.3 975.9,341.5 976.7,341.9 977.6,342.4 978.4,342.6 979.2,342.8 980.0,343.2 980.9,343.6 981.7,343.6 982.5,344.1 983.3,344.3 984.1,344.8 985.0,345.0 985.8,345.2 986.6,345.3 987.4,345.9 988.2,346.1 989.1,346.5 989.9,346.7 990.7,347.1 991.5,347.1" fill="none" stroke="#008000" stroke-width="2.15" stroke-linejoin="round" />
</g>
<rect x="581.7" y="46.2" width="414.29999999999995" height="308.1" fill="none" stroke="#000" stroke-width="1.4" stroke-opacity="0.92"/>
<rect x="593.1" y="51.9" width="100.3" height="74.5" rx="3.5" fill="#fff" fill-opacity="0.8" stroke="#ccc" stroke-width="1.3"/>
<line x1="602.6" x2="649.2" y1="70.0" y2="70.0" stroke="#0000ff" stroke-width="1.95" stroke-linecap="square"/>
<text transform="translate(668.10,78.80) scale(1,1.04)" font-size="23.4" text-anchor="start" font-family="DejaVu Sans, Liberation Sans, sans-serif" >I</text>
<line x1="602.6" x2="649.2" y1="104.1" y2="104.1" stroke="#008000" stroke-width="1.95" stroke-linecap="square"/>
<text transform="translate(668.10,112.90) scale(1,1.04)" font-size="23.4" text-anchor="start" font-family="DejaVu Sans, Liberation Sans, sans-serif" >U</text>
<text transform="translate(788.85,26.90) scale(1,1.015)" font-size="27.4" text-anchor="middle" font-family="DejaVu Sans, Liberation Sans, sans-serif" >4-photon</text>
<text transform="translate(788.85,407.40) scale(1,1.04)" font-size="23.1" text-anchor="middle" font-family="DejaVu Sans, Liberation Sans, sans-serif" >Events</text>
<text transform="translate(543.9,195.7) rotate(-90) scale(1,1.04)" font-size="25.0" text-anchor="middle" font-family="DejaVu Sans, Liberation Sans, sans-serif">W</text>
<text x="533.00" y="24.20" font-size="32.5" text-anchor="start" font-family="Liberation Sans, sans-serif" font-weight="bold">(b)</text>
<clipPath id="cc"><rect x="1086.5" y="46.2" width="414.0" height="308.1"/></clipPath>
<rect x="1086.5" y="46.2" width="414.0" height="156.55" fill="#d9d9ff"/>
<rect x="1086.5" y="202.75" width="414.0" height="151.55" fill="#ffd9d9"/>
<line x1="1086.50" x2="1086.50" y1="46.2" y2="354.3" stroke="#b0b0b0" stroke-width="1.2"/>
<line x1="1086.50" x2="1086.50" y1="354.3" y2="358.6" stroke="#000" stroke-width="1.05"/>
<text transform="translate(1086.50,380.90) scale(1,1.04)" font-size="23.4" text-anchor="middle" font-family="DejaVu Sans, Liberation Sans, sans-serif" >0</text>
<line x1="1194.15" x2="1194.15" y1="46.2" y2="354.3" stroke="#b0b0b0" stroke-width="1.2"/>
<line x1="1194.15" x2="1194.15" y1="354.3" y2="358.6" stroke="#000" stroke-width="1.05"/>
<text transform="translate(1194.15,380.90) scale(1,1.04)" font-size="23.4" text-anchor="middle" font-family="DejaVu Sans, Liberation Sans, sans-serif" >2000</text>
<line x1="1301.80" x2="1301.80" y1="46.2" y2="354.3" stroke="#b0b0b0" stroke-width="1.2"/>
<line x1="1301.80" x2="1301.80" y1="354.3" y2="358.6" stroke="#000" stroke-width="1.05"/>
<text transform="translate(1301.80,380.90) scale(1,1.04)" font-size="23.4" text-anchor="middle" font-family="DejaVu Sans, Liberation Sans, sans-serif" >4000</text>
<line x1="1409.45" x2="1409.45" y1="46.2" y2="354.3" stroke="#b0b0b0" stroke-width="1.2"/>
<line x1="1409.45" x2="1409.45" y1="354.3" y2="358.6" stroke="#000" stroke-width="1.05"/>
<text transform="translate(1409.45,380.90) scale(1,1.04)" font-size="23.4" text-anchor="middle" font-family="DejaVu Sans, Liberation Sans, sans-serif" >6000</text>
<line x1="1086.5" x2="1500.5" y1="66.00" y2="66.00" stroke="#b0b0b0" stroke-width="1.2"/>
<line x1="1082.4" x2="1086.5" y1="66.00" y2="66.00" stroke="#000" stroke-width="1.05"/>
<text transform="translate(1078.50,75.10) scale(1,1.04)" font-size="23.4" text-anchor="end" font-family="DejaVu Sans, Liberation Sans, sans-serif" >1000</text>
<line x1="1086.5" x2="1500.5" y1="134.38" y2="134.38" stroke="#b0b0b0" stroke-width="1.2"/>
<line x1="1082.4" x2="1086.5" y1="134.38" y2="134.38" stroke="#000" stroke-width="1.05"/>
<text transform="translate(1078.50,143.47) scale(1,1.04)" font-size="23.4" text-anchor="end" font-family="DejaVu Sans, Liberation Sans, sans-serif" >500</text>
<line x1="1086.5" x2="1500.5" y1="202.75" y2="202.75" stroke="#b0b0b0" stroke-width="1.2"/>
<line x1="1082.4" x2="1086.5" y1="202.75" y2="202.75" stroke="#000" stroke-width="1.05"/>
<text transform="translate(1078.50,211.85) scale(1,1.04)" font-size="23.4" text-anchor="end" font-family="DejaVu Sans, Liberation Sans, sans-serif" >0</text>
<line x1="1086.5" x2="1500.5" y1="271.12" y2="271.12" stroke="#b0b0b0" stroke-width="1.2"/>
<line x1="1082.4" x2="1086.5" y1="271.12" y2="271.12" stroke="#000" stroke-width="1.05"/>
<text transform="translate(1078.50,280.23) scale(1,1.04)" font-size="23.4" text-anchor="end" font-family="DejaVu Sans, Liberation Sans, sans-serif" >-500</text>
<line x1="1086.5" x2="1500.5" y1="339.50" y2="339.50" stroke="#b0b0b0" stroke-width="1.2"/>
<line x1="1082.4" x2="1086.5" y1="339.50" y2="339.50" stroke="#000" stroke-width="1.05"/>
<text transform="translate(1078.50,348.60) scale(1,1.04)" font-size="23.4" text-anchor="end" font-family="DejaVu Sans, Liberation Sans, sans-serif" >-1000</text>
<g clip-path="url(#cc)">
<polyline points="1086.1,202.2 1086.3,202.1 1086.6,202.3 1086.8,201.9 1087.1,201.9 1087.3,202.1 1087.5,201.4 1087.8,201.3 1088.0,201.4 1088.3,201.0 1088.5,200.5 1088.8,200.8 1089.0,200.5 1089.3,201.0 1089.5,199.4 1089.8,199.9 1090.0,201.1 1090.3,201.6 1090.5,199.0 1090.8,200.5 1091.0,199.2 1091.3,199.3 1091.5,199.2 1091.8,199.5 1092.0,200.5 1092.2,200.2 1092.5,199.7 1092.7,199.3 1093.0,199.5 1093.2,199.4 1093.5,200.0 1093.7,198.9 1094.0,199.3 1094.2,199.2 1094.5,199.2 1094.7,199.4 1095.0,199.3 1095.2,200.2 1095.5,199.0 1095.7,200.2 1096.0,198.8 1096.2,198.6 1096.5,198.9 1096.7,199.0 1096.9,198.8 1097.2,199.5 1097.4,199.3 1097.7,198.6 1097.9,197.9 1098.2,197.9 1098.4,198.9 1098.7,197.9 1098.9,196.6 1099.2,197.0 1099.4,197.0 1099.7,198.2 1099.9,197.2 1100.2,198.8 1100.4,197.5 1100.7,197.0 1100.9,196.4 1101.2,197.3 1101.4,196.2 1101.6,195.6 1101.9,196.5 1102.1,195.9 1102.4,196.6 1102.6,195.5 1102.9,193.3 1103.1,195.9 1103.4,193.8 1103.6,196.3 1103.9,196.4 1104.1,194.7 1104.4,194.1 1104.6,193.9 1104.9,195.6 1105.1,194.8 1105.4,194.5 1105.6,194.8 1105.9,196.5 1106.1,195.1 1106.3,195.3 1106.6,195.3 1106.8,195.3 1107.1,195.1 1107.3,193.6 1107.6,193.8 1107.8,193.2 1108.1,193.0 1108.3,194.2 1108.6,192.9 1108.8,193.1 1109.1,192.5 1109.3,192.5 1109.6,193.5 1109.8,192.5 1110.1,192.4 1110.3,193.1 1110.5,193.1 1110.8,193.3 1111.0,192.7 1111.3,191.2 1111.5,193.0 1111.8,192.8 1112.0,193.1 1112.3,191.5 1112.5,193.9 1112.8,191.0 1113.0,192.3 1113.3,191.6 1113.5,191.0 1113.8,191.8 1114.0,190.8 1114.3,189.1 1114.5,189.9 1114.8,190.9 1115.0,192.1 1115.2,189.2 1115.5,190.1 1115.7,191.0 1116.0,190.1 1116.2,189.1 1116.5,188.1 1116.7,187.7 1117.0,188.3 1117.2,188.4 1117.5,187.0 1117.7,187.4 1118.0,189.0 1118.2,188.6 1118.5,188.5 1118.7,189.0 1119.0,188.9 1119.2,190.4 1119.5,191.1 1119.7,191.6 1119.9,190.6 1120.2,190.6 1120.4,191.1 1120.7,191.1 1120.9,190.7 1121.2,190.2 1121.4,188.6 1121.7,187.6 1121.9,189.2 1122.2,188.2 1122.4,188.0 1122.7,187.2 1122.9,186.8 1123.2,188.7 1123.4,187.9 1123.7,186.7 1123.9,187.8 1124.2,187.6 1124.4,187.7 1124.6,188.9 1124.9,187.1 1125.1,186.0 1125.4,186.8 1125.6,186.2 1125.9,187.0 1126.1,186.6 1126.4,186.5 1126.6,185.7 1126.9,186.4 1127.1,185.6 1127.4,186.2 1127.6,185.5 1127.9,184.8 1128.1,185.9 1128.4,184.9 1128.6,186.4 1128.9,185.6 1129.1,185.5 1129.3,185.0 1129.6,184.8 1129.8,182.9 1130.1,185.4 1130.3,183.7 1130.6,184.9 1130.8,183.6 1131.1,183.8 1131.3,183.7 1131.6,183.0 1131.8,183.6 1132.1,184.0 1132.3,183.3 1132.6,182.6 1132.8,183.1 1133.1,183.7 1133.3,184.4 1133.5,184.1 1133.8,183.7 1134.0,182.6 1134.3,184.0 1134.5,183.2 1134.8,182.8 1135.0,183.6 1135.3,183.2 1135.5,182.9 1135.8,181.6 1136.0,181.8 1136.3,180.9 1136.5,182.2 1136.8,182.0 1137.0,182.6 1137.3,182.0 1137.5,181.5 1137.8,183.3 1138.0,180.9 1138.2,180.6 1138.5,181.0 1138.7,181.8 1139.0,181.1 1139.2,180.9 1139.5,180.4 1139.7,182.3 1140.0,180.7 1140.2,180.3 1140.5,181.0 1140.7,180.5 1141.0,181.0 1141.2,182.1 1141.5,180.8 1141.7,181.1 1142.0,180.8 1142.2,180.9 1142.5,181.7 1142.7,181.4 1142.9,180.6 1143.2,180.1 1143.4,180.6 1143.7,181.2 1143.9,180.4 1144.2,180.2 1144.4,178.8 1144.7,180.8 1144.9,178.8 1145.2,178.9 1145.4,179.5 1145.7,179.7 1145.9,179.7 1146.2,179.1 1146.4,179.5 1146.7,179.3 1146.9,178.5 1147.2,179.8 1147.4,179.6 1147.6,180.6 1147.9,180.3 1148.1,181.3 1148.4,181.2 1148.6,181.4 1148.9,181.7 1149.1,181.3 1149.4,180.6 1149.6,181.7 1149.9,179.9 1150.1,180.5 1150.4,181.0 1150.6,179.9 1150.9,180.5 1151.1,179.2 1151.4,179.3 1151.6,179.9 1151.9,179.9 1152.1,180.1 1152.3,178.9 1152.6,179.0 1152.8,179.1 1153.1,178.7 1153.3,177.2 1153.6,177.5 1153.8,178.8 1154.1,176.6 1154.3,177.7 1154.6,176.7 1154.8,177.6 1155.1,176.0 1155.3,176.4 1155.6,174.7 1155.8,175.9 1156.1,176.6 1156.3,174.4 1156.5,176.2 1156.8,174.6 1157.0,175.0 1157.3,172.8 1157.5,175.5 1157.8,174.0 1158.0,174.2 1158.3,173.6 1158.5,173.8 1158.8,175.4 1159.0,174.2 1159.3,175.3 1159.5,174.6 1159.8,175.1 1160.0,174.6 1160.3,175.5 1160.5,177.2 1160.8,175.8 1161.0,175.7 1161.2,175.0 1161.5,176.1 1161.7,176.4 1162.0,174.1 1162.2,174.4 1162.5,177.0 1162.7,175.7 1163.0,175.5 1163.2,175.8 1163.5,176.2 1163.7,175.9 1164.0,175.0 1164.2,176.6 1164.5,174.9 1164.7,174.1 1165.0,174.2 1165.2,174.4 1165.5,174.1 1165.7,174.2 1165.9,174.6 1166.2,171.9 1166.4,173.8 1166.7,175.2 1166.9,175.0 1167.2,174.2 1167.4,174.3 1167.7,175.7 1167.9,174.8 1168.2,174.6 1168.4,176.4 1168.7,174.8 1168.9,175.5 1169.2,175.0 1169.4,175.0 1169.7,174.2 1169.9,174.2 1170.2,175.8 1170.4,174.0 1170.6,175.0 1170.9,174.0 1171.1,174.8 1171.4,175.0 1171.6,174.0 1171.9,176.2 1172.1,175.3 1172.4,176.5 1172.6,174.9 1172.9,176.4 1173.1,177.5 1173.4,175.8 1173.6,175.0 1173.9,175.7 1174.1,175.3 1174.4,174.8 1174.6,174.8 1174.9,174.3 1175.1,174.9 1175.3,174.2 1175.6,173.7 1175.8,174.8 1176.1,174.0 1176.3,176.0 1176.6,173.7 1176.8,173.2 1177.1,173.2 1177.3,173.8 1177.6,172.9 1177.8,172.4 1178.1,174.5 1178.3,172.3 1178.6,174.3 1178.8,173.2 1179.1,172.3 1179.3,174.3 1179.5,172.9 1179.8,172.2 1180.0,173.0 1180.3,173.8 1180.5,173.3 1180.8,173.3 1181.0,173.8 1181.3,172.5 1181.5,172.5 1181.8,171.8 1182.0,170.7 1182.3,171.6 1182.5,172.8 1182.8,170.1 1183.0,172.3 1183.3,171.4 1183.5,170.5 1183.8,171.1 1184.0,172.3 1184.2,170.4 1184.5,171.3 1184.7,171.4 1185.0,169.7 1185.2,170.7 1185.5,170.4 1185.7,169.4 1186.0,170.0 1186.2,169.0 1186.5,168.6 1186.7,167.9 1187.0,168.9 1187.2,168.2 1187.5,168.0 1187.7,167.4 1188.0,167.2 1188.2,167.6 1188.5,168.8 1188.7,167.6 1188.9,169.4 1189.2,168.6 1189.4,168.4 1189.7,167.4 1189.9,169.7 1190.2,167.1 1190.4,168.5 1190.7,169.3 1190.9,167.8 1191.2,167.3 1191.4,167.7 1191.7,168.2 1191.9,168.4 1192.2,167.7 1192.4,166.2 1192.7,166.4 1192.9,166.9 1193.2,165.6 1193.4,166.2 1193.6,168.0 1193.9,165.4 1194.1,166.9 1194.4,165.2 1194.6,165.5 1194.9,165.6 1195.1,164.5 1195.4,165.4 1195.6,166.4 1195.9,165.8 1196.1,165.7 1196.4,164.5 1196.6,164.9 1196.9,165.0 1197.1,165.2 1197.4,165.5 1197.6,163.5 1197.9,165.3 1198.1,163.5 1198.3,163.3 1198.6,162.4 1198.8,163.0 1199.1,162.7 1199.3,161.7 1199.6,162.3 1199.8,162.5 1200.1,161.9 1200.3,162.7 1200.6,161.3 1200.8,162.6 1201.1,161.7 1201.3,162.0 1201.6,160.2 1201.8,161.6 1202.1,161.4 1202.3,162.1 1202.5,160.4 1202.8,162.3 1203.0,160.3 1203.3,162.0 1203.5,161.4 1203.8,160.3 1204.0,162.3 1204.3,159.6 1204.5,160.3 1204.8,160.3 1205.0,160.4 1205.3,159.9 1205.5,160.1 1205.8,159.6 1206.0,159.0 1206.3,158.0 1206.5,158.2 1206.8,158.9 1207.0,157.1 1207.2,157.8 1207.5,156.0 1207.7,156.9 1208.0,156.2 1208.2,158.3 1208.5,156.0 1208.7,157.2 1209.0,157.9 1209.2,157.8 1209.5,157.9 1209.7,158.0 1210.0,157.4 1210.2,157.5 1210.5,156.7 1210.7,156.5 1211.0,155.0 1211.2,156.2 1211.5,156.8 1211.7,155.1 1211.9,154.6 1212.2,155.3 1212.4,155.9 1212.7,155.8 1212.9,153.6 1213.2,154.8 1213.4,153.8 1213.7,154.3 1213.9,152.2 1214.2,154.4 1214.4,153.3 1214.7,153.6 1214.9,153.2 1215.2,152.4 1215.4,153.5 1215.7,152.7 1215.9,152.4 1216.2,153.4 1216.4,152.8 1216.6,152.3 1216.9,153.5 1217.1,152.4 1217.4,152.8 1217.6,153.3 1217.9,153.4 1218.1,153.5 1218.4,153.8 1218.6,152.4 1218.9,151.6 1219.1,153.2 1219.4,152.8 1219.6,151.3 1219.9,151.9 1220.1,150.8 1220.4,149.7 1220.6,151.4 1220.9,150.6 1221.1,150.2 1221.3,151.1 1221.6,150.6 1221.8,148.8 1222.1,148.2 1222.3,147.3 1222.6,148.5 1222.8,148.0 1223.1,148.4 1223.3,148.0 1223.6,147.3 1223.8,147.4 1224.1,146.5 1224.3,148.5 1224.6,147.1 1224.8,147.9 1225.1,146.9 1225.3,147.3 1225.5,147.7 1225.8,146.9 1226.0,146.4 1226.3,148.7 1226.5,146.6 1226.8,147.1 1227.0,146.4 1227.3,145.7 1227.5,147.1 1227.8,146.3 1228.0,146.3 1228.3,144.3 1228.5,146.2 1228.8,146.6 1229.0,146.1 1229.3,145.8 1229.5,146.7 1229.8,145.9 1230.0,146.0 1230.2,146.2 1230.5,145.9 1230.7,143.9 1231.0,144.9 1231.2,143.9 1231.5,142.7 1231.7,144.2 1232.0,142.6 1232.2,143.4 1232.5,141.8 1232.7,142.9 1233.0,143.4 1233.2,143.8 1233.5,143.4 1233.7,143.2 1234.0,143.3 1234.2,145.1 1234.5,143.6 1234.7,143.8 1234.9,145.3 1235.2,142.5 1235.4,142.2 1235.7,142.9 1235.9,143.4 1236.2,142.9 1236.4,143.7 1236.7,143.8 1236.9,142.8 1237.2,144.2 1237.4,143.2 1237.7,144.9 1237.9,144.6 1238.2,146.2 1238.4,145.2 1238.7,144.5 1238.9,144.9 1239.2,144.7 1239.4,144.0 1239.6,143.4 1239.9,145.3 1240.1,145.6 1240.4,144.0 1240.6,144.1 1240.9,143.9 1241.1,145.0 1241.4,145.1 1241.6,143.5 1241.9,143.9 1242.1,143.7 1242.4,144.3 1242.6,144.7 1242.9,144.9 1243.1,143.9 1243.4,143.3 1243.6,144.5 1243.9,144.5 1244.1,143.7 1244.3,144.1 1244.6,144.2 1244.8,144.5 1245.1,143.9 1245.3,144.1 1245.6,143.8 1245.8,142.8 1246.1,143.8 1246.3,143.1 1246.6,143.6 1246.8,141.7 1247.1,141.8 1247.3,142.4 1247.6,140.7 1247.8,141.7 1248.1,141.4 1248.3,141.4 1248.5,141.4 1248.8,139.9 1249.0,141.6 1249.3,141.7 1249.5,142.4 1249.8,142.7 1250.0,141.9 1250.3,142.2 1250.5,139.7 1250.8,141.8 1251.0,142.1 1251.3,141.7 1251.5,141.1 1251.8,140.5 1252.0,140.3 1252.3,140.5 1252.5,140.6 1252.8,140.6 1253.0,139.9 1253.2,138.9 1253.5,141.1 1253.7,138.9 1254.0,137.4 1254.2,140.4 1254.5,139.9 1254.7,139.1 1255.0,139.5 1255.2,139.0 1255.5,137.8 1255.7,138.4 1256.0,137.2 1256.2,137.4 1256.5,137.1 1256.7,137.7 1257.0,138.2 1257.2,136.8 1257.5,137.5 1257.7,135.5 1257.9,136.2 1258.2,137.2 1258.4,137.4 1258.7,137.2 1258.9,137.2 1259.2,135.0 1259.4,135.7 1259.7,134.0 1259.9,135.7 1260.2,135.9 1260.4,135.4 1260.7,134.9 1260.9,135.9 1261.2,135.9 1261.4,135.5 1261.7,134.9 1261.9,135.3 1262.2,135.2 1262.4,135.3 1262.6,135.4 1262.9,134.9 1263.1,133.7 1263.4,134.5 1263.6,134.9 1263.9,134.3 1264.1,134.7 1264.4,134.1 1264.6,135.6 1264.9,134.8 1265.1,134.6 1265.4,135.0 1265.6,134.9 1265.9,134.2 1266.1,134.8 1266.4,134.3 1266.6,133.8 1266.9,133.5 1267.1,132.4 1267.3,133.2 1267.6,133.0 1267.8,132.0 1268.1,133.4 1268.3,132.2 1268.6,131.3 1268.8,131.6 1269.1,131.7 1269.3,131.6 1269.6,130.9 1269.8,131.4 1270.1,130.2 1270.3,130.8 1270.6,131.4 1270.8,130.5 1271.1,131.4 1271.3,131.4 1271.5,130.3 1271.8,128.9 1272.0,131.3 1272.3,131.5 1272.5,129.3 1272.8,130.5 1273.0,130.6 1273.3,129.0 1273.5,129.8 1273.8,131.1 1274.0,130.3 1274.3,130.0 1274.5,130.8 1274.8,129.5 1275.0,128.5 1275.3,130.8 1275.5,129.2 1275.8,129.7 1276.0,130.5 1276.2,129.7 1276.5,129.6 1276.7,128.9 1277.0,129.7 1277.2,130.8 1277.5,128.6 1277.7,128.0 1278.0,129.0 1278.2,128.1 1278.5,128.6 1278.7,128.4 1279.0,128.6 1279.2,128.3 1279.5,128.2 1279.7,128.8 1280.0,127.0 1280.2,127.7 1280.5,127.8 1280.7,126.6 1280.9,126.8 1281.2,127.2 1281.4,127.0 1281.7,128.3 1281.9,127.5 1282.2,129.6 1282.4,127.1 1282.7,127.1 1282.9,129.0 1283.2,126.8 1283.4,128.8 1283.7,124.8 1283.9,126.5 1284.2,128.0 1284.4,128.1 1284.7,127.3 1284.9,126.4 1285.2,126.8 1285.4,127.5 1285.6,127.1 1285.9,127.6 1286.1,126.3 1286.4,127.4 1286.6,127.6 1286.9,128.8 1287.1,126.9 1287.4,126.6 1287.6,125.3 1287.9,124.7 1288.1,123.8 1288.4,125.8 1288.6,126.8 1288.9,125.2 1289.1,123.4 1289.4,125.4 1289.6,125.1 1289.9,125.0 1290.1,126.6 1290.3,126.2 1290.6,126.3 1290.8,124.5 1291.1,125.3 1291.3,124.1 1291.6,125.6 1291.8,123.8 1292.1,125.4 1292.3,124.5 1292.6,124.4 1292.8,123.0 1293.1,124.6 1293.3,122.6 1293.6,123.0 1293.8,123.2 1294.1,125.5 1294.3,124.0 1294.6,123.4 1294.8,124.3 1295.0,125.6 1295.3,123.7 1295.5,122.9 1295.8,122.8 1296.0,123.5 1296.3,124.7 1296.5,123.3 1296.8,123.2 1297.0,122.6 1297.3,122.4 1297.5,124.1 1297.8,123.6 1298.0,123.6 1298.3,122.3 1298.5,123.8 1298.8,123.6 1299.0,124.5 1299.2,124.2 1299.5,123.2 1299.7,123.6 1300.0,123.6 1300.2,123.2 1300.5,122.6 1300.7,123.8 1301.0,124.8 1301.2,122.9 1301.5,124.1 1301.7,122.6 1302.0,122.6 1302.2,122.8 1302.5,122.5 1302.7,123.4 1303.0,123.6 1303.2,120.8 1303.5,123.3 1303.7,123.0 1303.9,124.1 1304.2,122.1 1304.4,122.9 1304.7,123.7 1304.9,123.4 1305.2,123.8 1305.4,122.0 1305.7,121.9 1305.9,122.8 1306.2,121.2 1306.4,122.4 1306.7,122.7 1306.9,122.1 1307.2,120.7 1307.4,121.1 1307.7,121.1 1307.9,121.5 1308.2,121.3 1308.4,120.7 1308.6,119.6 1308.9,119.4 1309.1,120.0 1309.4,120.0 1309.6,120.4 1309.9,120.1 1310.1,120.9 1310.4,120.6 1310.6,121.4 1310.9,121.3 1311.1,121.9 1311.4,120.8 1311.6,121.0 1311.9,120.9 1312.1,121.9 1312.4,122.5 1312.6,122.8 1312.9,122.1 1313.1,121.8 1313.3,122.4 1313.6,121.8 1313.8,121.0 1314.1,122.2 1314.3,121.3 1314.6,120.4 1314.8,121.3 1315.1,120.9 1315.3,121.5 1315.6,121.0 1315.8,121.4 1316.1,121.3 1316.3,121.7 1316.6,122.4 1316.8,122.2 1317.1,122.2 1317.3,123.0 1317.6,121.3 1317.8,122.6 1318.0,123.4 1318.3,123.0 1318.5,123.4 1318.8,121.8 1319.0,123.2 1319.3,121.6 1319.5,122.8 1319.8,121.9 1320.0,122.1 1320.3,120.7 1320.5,121.0 1320.8,119.6 1321.0,121.1 1321.3,121.3 1321.5,120.9 1321.8,121.3 1322.0,120.8 1322.2,120.2 1322.5,120.4 1322.7,119.3 1323.0,120.2 1323.2,119.5 1323.5,119.3 1323.7,118.8 1324.0,118.3 1324.2,117.8 1324.5,118.2 1324.7,118.8 1325.0,116.9 1325.2,118.2 1325.5,120.6 1325.7,118.1 1326.0,117.7 1326.2,118.0 1326.5,117.5 1326.7,117.6 1326.9,117.5 1327.2,116.6 1327.4,118.1 1327.7,117.3 1327.9,117.9 1328.2,117.1 1328.4,117.6 1328.7,116.7 1328.9,118.7 1329.2,117.0 1329.4,116.8 1329.7,115.4 1329.9,114.0 1330.2,114.6 1330.4,114.9 1330.7,114.3 1330.9,113.5 1331.2,113.2 1331.4,112.6 1331.6,113.1 1331.9,113.7 1332.1,113.6 1332.4,113.5 1332.6,112.8 1332.9,113.0 1333.1,112.7 1333.4,112.8 1333.6,112.5 1333.9,112.6 1334.1,111.8 1334.4,111.6 1334.6,112.4 1334.9,112.0 1335.1,109.2 1335.4,110.7 1335.6,110.4 1335.9,110.5 1336.1,108.1 1336.3,108.2 1336.6,108.9 1336.8,109.2 1337.1,108.1 1337.3,109.8 1337.6,109.6 1337.8,109.3 1338.1,109.4 1338.3,107.8 1338.6,108.5 1338.8,106.8 1339.1,109.1 1339.3,109.2 1339.6,108.6 1339.8,107.4 1340.1,108.1 1340.3,108.8 1340.6,107.1 1340.8,108.1 1341.0,108.5 1341.3,107.3 1341.5,107.4 1341.8,108.7 1342.0,108.3 1342.3,108.7 1342.5,107.7 1342.8,106.7 1343.0,107.3 1343.3,106.8 1343.5,106.9 1343.8,107.3 1344.0,107.9 1344.3,106.7 1344.5,107.8 1344.8,105.2 1345.0,105.9 1345.2,105.9 1345.5,104.1 1345.7,104.4 1346.0,105.2 1346.2,105.5 1346.5,105.7 1346.7,105.4 1347.0,105.2 1347.2,104.4 1347.5,105.5 1347.7,106.6 1348.0,105.7 1348.2,104.9 1348.5,105.4 1348.7,105.6 1349.0,106.1 1349.2,104.7 1349.5,105.3 1349.7,105.2 1349.9,104.5 1350.2,104.5 1350.4,104.1 1350.7,104.3 1350.9,104.3 1351.2,103.1 1351.4,103.8 1351.7,105.0 1351.9,103.7 1352.2,102.3 1352.4,104.6 1352.7,103.3 1352.9,103.5 1353.2,103.8 1353.4,103.0 1353.7,102.6 1353.9,102.8 1354.2,103.5 1354.4,103.4 1354.6,103.2 1354.9,105.0 1355.1,103.6 1355.4,104.1 1355.6,104.9 1355.9,103.4 1356.1,102.9 1356.4,102.9 1356.6,103.0 1356.9,104.1 1357.1,103.4 1357.4,102.3 1357.6,101.9 1357.9,102.7 1358.1,103.3 1358.4,101.3 1358.6,102.7 1358.9,101.5 1359.1,101.0 1359.3,100.5 1359.6,99.9 1359.8,99.8 1360.1,100.8 1360.3,98.6 1360.6,99.1 1360.8,99.1 1361.1,98.1 1361.3,98.4 1361.6,97.6 1361.8,98.9 1362.1,98.7 1362.3,97.1 1362.6,99.0 1362.8,97.1 1363.1,96.3 1363.3,96.3 1363.6,97.9 1363.8,95.8 1364.0,97.5 1364.3,97.7 1364.5,98.3 1364.8,97.3 1365.0,98.4 1365.3,97.3 1365.5,98.2 1365.8,96.7 1366.0,97.6 1366.3,97.0 1366.5,97.2 1366.8,98.5 1367.0,96.6 1367.3,96.4 1367.5,96.2 1367.8,96.1 1368.0,94.0 1368.2,96.0 1368.5,94.3 1368.7,93.7 1369.0,95.2 1369.2,94.2 1369.5,95.3 1369.7,96.0 1370.0,95.2 1370.2,94.5 1370.5,95.3 1370.7,96.7 1371.0,95.2 1371.2,96.3 1371.5,95.9 1371.7,93.8 1372.0,95.1 1372.2,93.2 1372.5,94.4 1372.7,94.1 1372.9,93.4 1373.2,92.1 1373.4,92.8 1373.7,92.7 1373.9,93.3 1374.2,92.8 1374.4,93.1 1374.7,92.5 1374.9,91.5 1375.2,92.6 1375.4,93.7 1375.7,92.0 1375.9,91.9 1376.2,91.3 1376.4,94.2 1376.7,92.1 1376.9,93.8 1377.2,93.3 1377.4,93.1 1377.6,93.4 1377.9,94.7 1378.1,94.6 1378.4,93.7 1378.6,92.9 1378.9,94.2 1379.1,93.5 1379.4,92.9 1379.6,93.0 1379.9,91.9 1380.1,92.9 1380.4,92.0 1380.6,91.9 1380.9,91.1 1381.1,92.0 1381.4,92.3 1381.6,90.9 1381.9,92.2 1382.1,92.3 1382.3,93.0 1382.6,92.9 1382.8,91.5 1383.1,92.9 1383.3,92.3 1383.6,91.6 1383.8,91.1 1384.1,92.2 1384.3,92.1 1384.6,91.0 1384.8,91.5 1385.1,90.8 1385.3,90.5 1385.6,90.3 1385.8,91.4 1386.1,91.1 1386.3,91.1 1386.6,90.9 1386.8,90.7 1387.0,91.3 1387.3,89.4 1387.5,91.2 1387.8,89.7 1388.0,90.4 1388.3,90.6 1388.5,90.5 1388.8,90.8 1389.0,89.7 1389.3,91.5 1389.5,91.0 1389.8,90.4 1390.0,90.4 1390.3,89.4 1390.5,88.2 1390.8,88.2 1391.0,89.6 1391.2,87.2 1391.5,90.3 1391.7,89.4 1392.0,88.3 1392.2,88.6 1392.5,87.8 1392.7,88.9 1393.0,89.3 1393.2,89.9 1393.5,88.1 1393.7,89.9 1394.0,89.3 1394.2,89.1 1394.5,89.2 1394.7,89.5 1395.0,90.5 1395.2,90.2 1395.5,89.6 1395.7,88.4 1395.9,88.7 1396.2,89.4 1396.4,88.8 1396.7,87.8 1396.9,89.6 1397.2,89.9 1397.4,88.3 1397.7,87.5 1397.9,87.7 1398.2,86.8 1398.4,86.6 1398.7,87.6 1398.9,87.1 1399.2,87.9 1399.4,89.3 1399.7,87.5 1399.9,87.0 1400.2,87.0 1400.4,87.0 1400.6,87.6 1400.9,86.5 1401.1,86.8 1401.4,85.2 1401.6,85.1 1401.9,85.4 1402.1,86.1 1402.4,84.6 1402.6,86.1 1402.9,84.3 1403.1,85.0 1403.4,84.7 1403.6,85.8 1403.9,83.8 1404.1,83.7 1404.4,84.0 1404.6,84.6 1404.9,84.5 1405.1,82.9 1405.3,83.1 1405.6,82.7 1405.8,84.8 1406.1,83.8 1406.3,83.9 1406.6,81.8 1406.8,83.5 1407.1,83.1 1407.3,84.0 1407.6,82.1 1407.8,84.3 1408.1,83.8 1408.3,83.7 1408.6,82.3 1408.8,84.6 1409.1,83.3 1409.3,83.2 1409.6,82.9 1409.8,82.6 1410.0,82.9 1410.3,82.8 1410.5,83.4 1410.8,82.9 1411.0,81.9 1411.3,82.5 1411.5,83.0 1411.8,81.8 1412.0,82.1 1412.3,83.0 1412.5,82.4 1412.8,81.6 1413.0,82.4 1413.3,82.5 1413.5,82.2 1413.8,81.7 1414.0,82.8 1414.2,80.2 1414.5,81.3 1414.7,81.3 1415.0,80.0 1415.2,79.9 1415.5,79.8 1415.7,80.3 1416.0,79.9 1416.2,80.2 1416.5,80.6 1416.7,79.0 1417.0,79.4 1417.2,79.4 1417.5,77.5 1417.7,78.6 1418.0,77.4 1418.2,77.9 1418.5,77.7 1418.7,79.2 1418.9,77.9 1419.2,77.8 1419.4,78.8 1419.7,78.1 1419.9,77.2 1420.2,79.0 1420.4,78.9 1420.7,77.9 1420.9,76.9 1421.2,77.6 1421.4,77.4 1421.7,79.3 1421.9,77.6 1422.2,78.6 1422.4,78.9 1422.7,78.2 1422.9,78.1 1423.2,78.7 1423.4,78.2 1423.6,76.3 1423.9,78.1 1424.1,75.5 1424.4,76.5 1424.6,77.5 1424.9,75.5 1425.1,77.5 1425.4,78.3 1425.6,76.4 1425.9,75.0 1426.1,77.5 1426.4,75.4 1426.6,75.1 1426.9,75.0 1427.1,75.4 1427.4,75.2 1427.6,77.1 1427.9,74.9 1428.1,74.3 1428.3,74.4 1428.6,75.2 1428.8,76.8 1429.1,74.6 1429.3,75.5 1429.6,76.2 1429.8,75.5 1430.1,75.6 1430.3,75.5 1430.6,76.1 1430.8,75.3 1431.1,76.9 1431.3,74.5 1431.6,76.5 1431.8,76.5 1432.1,75.7 1432.3,75.4 1432.6,76.5 1432.8,74.7 1433.0,75.2 1433.3,74.7 1433.5,75.4 1433.8,74.5 1434.0,74.7 1434.3,75.6 1434.5,75.1 1434.8,75.3 1435.0,76.2 1435.3,73.5 1435.5,74.5 1435.8,75.0 1436.0,76.0 1436.3,74.1 1436.5,74.8 1436.8,75.2 1437.0,74.0 1437.2,74.5 1437.5,74.8 1437.7,74.4 1438.0,75.2 1438.2,75.4 1438.5,74.4 1438.7,75.1 1439.0,74.9 1439.2,74.4 1439.5,73.7 1439.7,75.3 1440.0,73.1 1440.2,74.0 1440.5,74.3 1440.7,71.6 1441.0,72.9 1441.2,71.9 1441.5,73.1 1441.7,73.7 1441.9,72.7 1442.2,73.3 1442.4,73.8 1442.7,72.8 1442.9,73.2 1443.2,72.7 1443.4,73.9 1443.7,73.3 1443.9,74.6 1444.2,74.5 1444.4,72.6 1444.7,73.7 1444.9,73.7 1445.2,73.6 1445.4,73.8 1445.7,73.3 1445.9,74.1 1446.2,73.9 1446.4,73.6 1446.6,72.9 1446.9,74.1 1447.1,72.2 1447.4,73.9 1447.6,73.6 1447.9,72.5 1448.1,73.5 1448.4,74.9 1448.6,73.1 1448.9,72.6 1449.1,73.2 1449.4,73.4 1449.6,74.3 1449.9,72.7 1450.1,73.4 1450.4,72.7 1450.6,73.3 1450.9,72.5 1451.1,71.3 1451.3,72.4 1451.6,72.5 1451.8,71.3 1452.1,69.8 1452.3,70.5 1452.6,71.1 1452.8,71.6 1453.1,70.6 1453.3,71.7 1453.6,70.6 1453.8,69.9 1454.1,71.3 1454.3,70.4 1454.6,71.9 1454.8,71.8 1455.1,70.6 1455.3,70.4 1455.6,70.9 1455.8,71.4 1456.0,70.5 1456.3,70.1 1456.5,70.7 1456.8,70.2 1457.0,68.9 1457.3,68.7 1457.5,67.3 1457.8,68.6 1458.0,68.3 1458.3,68.8 1458.5,67.8 1458.8,67.9 1459.0,67.8 1459.3,67.6 1459.5,67.6 1459.8,67.3 1460.0,68.5 1460.2,67.3 1460.5,67.5 1460.7,67.3 1461.0,66.1 1461.2,65.2 1461.5,65.7 1461.7,66.1 1462.0,66.3 1462.2,65.2 1462.5,66.6 1462.7,65.8 1463.0,66.7 1463.2,65.3 1463.5,63.8 1463.7,66.3 1464.0,66.1 1464.2,67.3 1464.5,65.5 1464.7,65.5 1464.9,66.4 1465.2,62.8 1465.4,63.5 1465.7,63.0 1465.9,64.5 1466.2,63.9 1466.4,64.3 1466.7,62.6 1466.9,63.1 1467.2,63.5 1467.4,63.3 1467.7,63.1 1467.9,63.9 1468.2,62.4 1468.4,62.4 1468.7,62.2 1468.9,62.8 1469.2,61.4 1469.4,61.2 1469.6,61.1 1469.9,60.5 1470.1,61.5 1470.4,61.1 1470.6,60.1 1470.9,61.2 1471.1,61.7 1471.4,62.8 1471.6,61.6 1471.9,62.6 1472.1,61.6 1472.4,62.4 1472.6,60.4 1472.9,60.1 1473.1,60.9 1473.4,60.7 1473.6,60.8 1473.9,61.1 1474.1,59.8 1474.3,60.8 1474.6,60.1 1474.8,62.0 1475.1,60.3 1475.3,60.0 1475.6,61.6 1475.8,59.0 1476.1,61.3 1476.3,60.2 1476.6,59.5 1476.8,59.5 1477.1,59.7 1477.3,59.8 1477.6,59.0 1477.8,59.7 1478.1,59.9 1478.3,59.4 1478.6,60.4 1478.8,58.5 1479.0,59.3 1479.3,59.8 1479.5,59.4 1479.8,60.0 1480.0,59.5 1480.3,57.9 1480.5,59.6 1480.8,58.0 1481.0,59.1 1481.3,58.2 1481.5,58.9 1481.8,56.1 1482.0,58.4 1482.3,57.6 1482.5,58.7 1482.8,58.7 1483.0,58.4 1483.2,57.2 1483.5,57.2 1483.7,56.4 1484.0,56.9 1484.2,56.9 1484.5,57.0 1484.7,57.5 1485.0,55.6 1485.2,56.3 1485.5,56.4 1485.7,55.7 1486.0,54.4 1486.2,55.2 1486.5,55.0 1486.7,54.6 1487.0,55.6 1487.2,55.2 1487.5,55.4 1487.7,55.7 1487.9,55.6 1488.2,56.2 1488.4,56.3 1488.7,56.1 1488.9,56.3 1489.2,56.6 1489.4,55.8 1489.7,56.9 1489.9,57.1 1490.2,55.9 1490.4,56.9 1490.7,56.2 1490.9,56.0 1491.2,56.8 1491.4,54.3 1491.7,55.7 1491.9,54.5 1492.2,54.9 1492.4,53.0 1492.6,55.1 1492.9,55.2 1493.1,53.5 1493.4,55.3 1493.6,53.5 1493.9,53.8 1494.1,52.9 1494.4,54.0 1494.6,53.3 1494.9,53.4 1495.1,53.6 1495.4,52.7 1495.6,53.8 1495.9,53.2 1496.1,54.4 1496.4,53.4" fill="none" stroke="#0000ff" stroke-width="2.9" stroke-linejoin="round" />
<polyline points="1086.1,202.2 1086.3,202.4 1086.6,202.5 1086.8,202.5 1087.1,202.4 1087.3,203.2 1087.5,203.5 1087.8,203.0 1088.0,204.3 1088.3,203.8 1088.5,205.4 1088.8,204.7 1089.0,204.5 1089.3,205.6 1089.5,205.2 1089.8,205.4 1090.0,205.5 1090.3,205.5 1090.5,206.2 1090.8,206.4 1091.0,206.2 1091.3,207.4 1091.5,205.1 1091.8,205.9 1092.0,207.0 1092.2,205.6 1092.5,207.7 1092.7,207.2 1093.0,206.6 1093.2,207.2 1093.5,206.5 1093.7,205.9 1094.0,207.7 1094.2,207.9 1094.5,207.3 1094.7,207.3 1095.0,205.9 1095.2,207.0 1095.5,207.4 1095.7,208.1 1096.0,209.2 1096.2,207.9 1096.5,207.9 1096.7,209.4 1096.9,208.8 1097.2,208.0 1097.4,210.2 1097.7,208.8 1097.9,209.3 1098.2,209.2 1098.4,210.5 1098.7,211.3 1098.9,210.5 1099.2,211.3 1099.4,210.9 1099.7,213.2 1099.9,212.8 1100.2,211.4 1100.4,212.3 1100.7,212.7 1100.9,212.4 1101.2,211.6 1101.4,212.1 1101.6,212.8 1101.9,212.7 1102.1,211.8 1102.4,212.9 1102.6,212.0 1102.9,211.4 1103.1,213.3 1103.4,214.1 1103.6,213.9 1103.9,214.8 1104.1,215.2 1104.4,214.3 1104.6,213.6 1104.9,214.1 1105.1,213.1 1105.4,214.2 1105.6,214.2 1105.9,214.4 1106.1,215.1 1106.3,212.8 1106.6,215.0 1106.8,214.1 1107.1,215.3 1107.3,214.9 1107.6,214.1 1107.8,215.7 1108.1,214.6 1108.3,215.7 1108.6,215.0 1108.8,215.2 1109.1,215.8 1109.3,217.2 1109.6,216.4 1109.8,215.8 1110.1,217.1 1110.3,215.8 1110.5,215.5 1110.8,214.9 1111.0,215.7 1111.3,215.6 1111.5,215.0 1111.8,214.1 1112.0,215.4 1112.3,215.7 1112.5,215.4 1112.8,215.1 1113.0,215.2 1113.3,215.8 1113.5,217.4 1113.8,216.6 1114.0,215.5 1114.3,217.3 1114.5,216.7 1114.8,218.9 1115.0,217.0 1115.2,217.2 1115.5,217.4 1115.7,217.5 1116.0,217.3 1116.2,217.2 1116.5,217.0 1116.7,216.7 1117.0,216.9 1117.2,216.3 1117.5,216.8 1117.7,216.8 1118.0,217.0 1118.2,217.1 1118.5,217.5 1118.7,218.0 1119.0,217.5 1119.2,217.9 1119.5,218.0 1119.7,217.6 1119.9,217.8 1120.2,218.2 1120.4,216.6 1120.7,218.4 1120.9,217.6 1121.2,215.3 1121.4,218.6 1121.7,217.4 1121.9,219.2 1122.2,218.0 1122.4,218.8 1122.7,219.7 1122.9,218.9 1123.2,219.0 1123.4,219.9 1123.7,221.2 1123.9,221.2 1124.2,221.6 1124.4,220.9 1124.6,221.1 1124.9,221.5 1125.1,221.2 1125.4,220.1 1125.6,221.3 1125.9,220.3 1126.1,220.1 1126.4,220.8 1126.6,220.7 1126.9,221.4 1127.1,221.0 1127.4,220.5 1127.6,220.8 1127.9,220.5 1128.1,220.7 1128.4,221.9 1128.6,221.3 1128.9,220.8 1129.1,220.8 1129.3,220.7 1129.6,221.0 1129.8,220.1 1130.1,221.8 1130.3,221.2 1130.6,222.0 1130.8,222.3 1131.1,221.9 1131.3,221.0 1131.6,221.0 1131.8,222.6 1132.1,222.7 1132.3,221.2 1132.6,221.6 1132.8,223.2 1133.1,222.5 1133.3,224.0 1133.5,222.9 1133.8,223.2 1134.0,222.5 1134.3,222.2 1134.5,221.5 1134.8,220.6 1135.0,223.6 1135.3,223.5 1135.5,222.6 1135.8,223.9 1136.0,222.2 1136.3,224.6 1136.5,223.9 1136.8,224.9 1137.0,222.4 1137.3,224.7 1137.5,224.4 1137.8,223.9 1138.0,223.0 1138.2,223.9 1138.5,223.8 1138.7,223.2 1139.0,222.7 1139.2,222.9 1139.5,223.4 1139.7,224.7 1140.0,224.9 1140.2,225.3 1140.5,224.5 1140.7,223.1 1141.0,223.7 1141.2,223.4 1141.5,224.2 1141.7,225.5 1142.0,224.4 1142.2,224.2 1142.5,225.0 1142.7,225.3 1142.9,225.5 1143.2,224.1 1143.4,224.2 1143.7,224.6 1143.9,225.5 1144.2,225.2 1144.4,224.3 1144.7,226.5 1144.9,224.8 1145.2,225.1 1145.4,225.2 1145.7,224.8 1145.9,225.5 1146.2,225.7 1146.4,226.0 1146.7,226.2 1146.9,225.8 1147.2,225.7 1147.4,227.4 1147.6,226.6 1147.9,227.8 1148.1,227.5 1148.4,229.3 1148.6,227.4 1148.9,226.4 1149.1,227.5 1149.4,228.8 1149.6,229.4 1149.9,229.3 1150.1,228.6 1150.4,229.3 1150.6,227.4 1150.9,227.7 1151.1,227.5 1151.4,228.7 1151.6,229.3 1151.9,228.4 1152.1,228.8 1152.3,228.3 1152.6,228.5 1152.8,229.0 1153.1,230.2 1153.3,229.6 1153.6,229.7 1153.8,230.2 1154.1,230.0 1154.3,229.0 1154.6,230.9 1154.8,229.6 1155.1,229.7 1155.3,229.7 1155.6,230.2 1155.8,229.6 1156.1,230.1 1156.3,231.1 1156.5,229.3 1156.8,228.5 1157.0,230.9 1157.3,230.1 1157.5,230.5 1157.8,230.5 1158.0,229.7 1158.3,230.1 1158.5,228.7 1158.8,230.0 1159.0,230.2 1159.3,229.4 1159.5,229.8 1159.8,230.4 1160.0,230.9 1160.3,230.6 1160.5,231.9 1160.8,231.5 1161.0,231.6 1161.2,229.8 1161.5,230.9 1161.7,231.4 1162.0,231.0 1162.2,231.6 1162.5,231.1 1162.7,231.1 1163.0,231.8 1163.2,232.1 1163.5,232.0 1163.7,232.4 1164.0,233.3 1164.2,233.2 1164.5,233.5 1164.7,233.5 1165.0,233.2 1165.2,232.9 1165.5,234.5 1165.7,233.2 1165.9,233.7 1166.2,232.6 1166.4,232.0 1166.7,232.3 1166.9,233.0 1167.2,232.5 1167.4,234.2 1167.7,233.5 1167.9,233.6 1168.2,235.4 1168.4,234.1 1168.7,234.2 1168.9,236.7 1169.2,235.1 1169.4,235.0 1169.7,234.7 1169.9,236.0 1170.2,236.0 1170.4,233.3 1170.6,235.1 1170.9,235.4 1171.1,235.7 1171.4,234.4 1171.6,235.4 1171.9,236.7 1172.1,236.4 1172.4,234.8 1172.6,235.9 1172.9,235.1 1173.1,236.4 1173.4,233.7 1173.6,236.6 1173.9,236.2 1174.1,237.0 1174.4,235.4 1174.6,236.3 1174.9,235.8 1175.1,237.1 1175.3,237.1 1175.6,238.5 1175.8,237.8 1176.1,235.7 1176.3,237.7 1176.6,237.6 1176.8,238.4 1177.1,238.2 1177.3,237.2 1177.6,237.6 1177.8,238.8 1178.1,237.4 1178.3,238.1 1178.6,237.3 1178.8,238.9 1179.1,238.9 1179.3,238.1 1179.5,237.3 1179.8,237.6 1180.0,237.8 1180.3,237.7 1180.5,238.1 1180.8,236.8 1181.0,237.0 1181.3,237.2 1181.5,238.6 1181.8,237.1 1182.0,238.2 1182.3,238.8 1182.5,237.1 1182.8,236.8 1183.0,236.9 1183.3,238.8 1183.5,238.8 1183.8,238.5 1184.0,238.0 1184.2,239.0 1184.5,237.9 1184.7,239.6 1185.0,239.4 1185.2,239.5 1185.5,240.6 1185.7,238.9 1186.0,239.0 1186.2,240.3 1186.5,240.9 1186.7,239.5 1187.0,239.6 1187.2,240.4 1187.5,241.1 1187.7,240.3 1188.0,241.7 1188.2,242.7 1188.5,241.1 1188.7,240.9 1188.9,243.0 1189.2,240.4 1189.4,242.2 1189.7,242.1 1189.9,240.1 1190.2,241.7 1190.4,242.3 1190.7,240.8 1190.9,239.4 1191.2,240.5 1191.4,242.5 1191.7,240.3 1191.9,241.9 1192.2,240.2 1192.4,240.8 1192.7,240.7 1192.9,241.2 1193.2,241.8 1193.4,241.6 1193.6,241.0 1193.9,241.7 1194.1,241.8 1194.4,241.7 1194.6,241.7 1194.9,241.8 1195.1,242.7 1195.4,244.2 1195.6,242.8 1195.9,243.0 1196.1,242.3 1196.4,242.6 1196.6,244.2 1196.9,242.9 1197.1,243.6 1197.4,243.9 1197.6,242.8 1197.9,244.1 1198.1,243.7 1198.3,243.6 1198.6,242.4 1198.8,243.1 1199.1,241.5 1199.3,243.0 1199.6,243.0 1199.8,242.5 1200.1,243.2 1200.3,241.9 1200.6,242.5 1200.8,242.1 1201.1,243.4 1201.3,243.1 1201.6,244.4 1201.8,243.3 1202.1,244.4 1202.3,244.1 1202.5,244.5 1202.8,244.9 1203.0,245.6 1203.3,245.5 1203.5,243.5 1203.8,244.8 1204.0,243.6 1204.3,244.6 1204.5,243.7 1204.8,245.0 1205.0,244.9 1205.3,244.3 1205.5,243.6 1205.8,243.2 1206.0,243.4 1206.3,244.3 1206.5,245.1 1206.8,245.5 1207.0,245.7 1207.2,244.3 1207.5,245.0 1207.7,245.8 1208.0,245.6 1208.2,245.1 1208.5,244.3 1208.7,246.5 1209.0,245.1 1209.2,243.9 1209.5,245.4 1209.7,245.3 1210.0,245.0 1210.2,245.0 1210.5,244.2 1210.7,246.1 1211.0,245.1 1211.2,243.9 1211.5,245.2 1211.7,243.6 1211.9,245.9 1212.2,245.4 1212.4,246.5 1212.7,247.1 1212.9,246.7 1213.2,248.8 1213.4,247.3 1213.7,247.8 1213.9,247.5 1214.2,247.4 1214.4,247.1 1214.7,248.5 1214.9,248.2 1215.2,248.8 1215.4,247.2 1215.7,247.1 1215.9,247.5 1216.2,247.8 1216.4,247.7 1216.6,246.5 1216.9,247.9 1217.1,248.3 1217.4,248.6 1217.6,248.2 1217.9,248.6 1218.1,249.7 1218.4,249.9 1218.6,249.2 1218.9,249.2 1219.1,249.3 1219.4,250.0 1219.6,249.6 1219.9,249.6 1220.1,250.5 1220.4,249.1 1220.6,248.8 1220.9,249.4 1221.1,250.8 1221.3,249.9 1221.6,248.3 1221.8,250.1 1222.1,249.6 1222.3,249.6 1222.6,248.2 1222.8,248.9 1223.1,249.0 1223.3,250.0 1223.6,248.9 1223.8,248.9 1224.1,248.6 1224.3,250.4 1224.6,249.7 1224.8,250.7 1225.1,250.2 1225.3,250.8 1225.5,249.9 1225.8,251.1 1226.0,250.4 1226.3,250.3 1226.5,251.7 1226.8,250.3 1227.0,251.4 1227.3,251.7 1227.5,251.8 1227.8,251.8 1228.0,252.5 1228.3,251.3 1228.5,252.9 1228.8,252.9 1229.0,252.0 1229.3,251.7 1229.5,250.8 1229.8,251.0 1230.0,251.1 1230.2,251.8 1230.5,252.9 1230.7,250.6 1231.0,252.5 1231.2,252.0 1231.5,252.2 1231.7,252.1 1232.0,251.6 1232.2,251.9 1232.5,252.3 1232.7,253.2 1233.0,252.2 1233.2,253.4 1233.5,253.3 1233.7,252.2 1234.0,252.7 1234.2,253.3 1234.5,251.4 1234.7,251.7 1234.9,252.9 1235.2,252.8 1235.4,251.7 1235.7,251.4 1235.9,252.5 1236.2,253.1 1236.4,251.8 1236.7,251.5 1236.9,253.0 1237.2,252.8 1237.4,251.4 1237.7,251.6 1237.9,252.2 1238.2,253.2 1238.4,253.1 1238.7,252.6 1238.9,251.3 1239.2,254.5 1239.4,252.1 1239.6,253.9 1239.9,253.7 1240.1,252.9 1240.4,252.7 1240.6,251.7 1240.9,251.3 1241.1,251.4 1241.4,251.0 1241.6,251.9 1241.9,251.0 1242.1,253.1 1242.4,253.9 1242.6,250.4 1242.9,251.2 1243.1,252.9 1243.4,252.7 1243.6,252.4 1243.9,252.7 1244.1,253.3 1244.3,252.7 1244.6,253.7 1244.8,254.2 1245.1,254.3 1245.3,254.7 1245.6,253.5 1245.8,253.7 1246.1,252.1 1246.3,253.3 1246.6,252.9 1246.8,254.6 1247.1,255.3 1247.3,253.7 1247.6,253.9 1247.8,253.9 1248.1,254.4 1248.3,254.0 1248.5,255.5 1248.8,254.8 1249.0,256.4 1249.3,255.9 1249.5,255.2 1249.8,255.1 1250.0,256.4 1250.3,255.5 1250.5,254.7 1250.8,255.9 1251.0,255.6 1251.3,258.0 1251.5,256.6 1251.8,256.4 1252.0,255.4 1252.3,258.1 1252.5,257.8 1252.8,257.6 1253.0,257.6 1253.2,258.0 1253.5,258.6 1253.7,258.3 1254.0,257.9 1254.2,258.6 1254.5,256.9 1254.7,258.3 1255.0,258.6 1255.2,258.5 1255.5,259.0 1255.7,259.8 1256.0,259.3 1256.2,258.4 1256.5,259.8 1256.7,260.4 1257.0,260.4 1257.2,260.2 1257.5,260.5 1257.7,259.7 1257.9,257.8 1258.2,259.4 1258.4,258.8 1258.7,259.8 1258.9,260.3 1259.2,259.3 1259.4,260.5 1259.7,258.9 1259.9,260.4 1260.2,259.3 1260.4,259.6 1260.7,259.3 1260.9,260.5 1261.2,261.5 1261.4,259.9 1261.7,260.2 1261.9,260.9 1262.2,259.9 1262.4,260.6 1262.6,260.3 1262.9,259.9 1263.1,259.6 1263.4,261.4 1263.6,260.6 1263.9,260.1 1264.1,261.5 1264.4,260.8 1264.6,259.9 1264.9,260.0 1265.1,260.8 1265.4,260.6 1265.6,261.4 1265.9,260.4 1266.1,260.4 1266.4,261.5 1266.6,262.4 1266.9,261.7 1267.1,264.1 1267.3,263.9 1267.6,262.3 1267.8,261.8 1268.1,262.7 1268.3,262.1 1268.6,262.5 1268.8,262.9 1269.1,262.6 1269.3,261.2 1269.6,264.1 1269.8,262.2 1270.1,262.8 1270.3,263.5 1270.6,263.2 1270.8,263.3 1271.1,263.7 1271.3,262.6 1271.5,263.9 1271.8,264.4 1272.0,263.7 1272.3,264.8 1272.5,265.2 1272.8,263.9 1273.0,264.7 1273.3,264.2 1273.5,264.9 1273.8,263.9 1274.0,263.0 1274.3,264.7 1274.5,264.6 1274.8,264.4 1275.0,263.4 1275.3,263.7 1275.5,264.4 1275.8,264.2 1276.0,263.6 1276.2,264.2 1276.5,264.9 1276.7,264.0 1277.0,264.6 1277.2,264.3 1277.5,265.6 1277.7,265.0 1278.0,265.2 1278.2,266.0 1278.5,265.7 1278.7,265.1 1279.0,266.4 1279.2,264.7 1279.5,264.9 1279.7,266.1 1280.0,265.8 1280.2,266.9 1280.5,266.3 1280.7,266.3 1280.9,267.0 1281.2,265.9 1281.4,265.3 1281.7,266.9 1281.9,265.9 1282.2,266.8 1282.4,265.9 1282.7,266.5 1282.9,266.3 1283.2,266.1 1283.4,266.4 1283.7,267.2 1283.9,266.9 1284.2,267.5 1284.4,266.6 1284.7,266.8 1284.9,266.6 1285.2,267.0 1285.4,267.8 1285.6,267.9 1285.9,268.5 1286.1,269.1 1286.4,268.9 1286.6,268.5 1286.9,268.1 1287.1,270.0 1287.4,269.4 1287.6,267.1 1287.9,269.4 1288.1,270.0 1288.4,269.1 1288.6,269.9 1288.9,269.6 1289.1,270.0 1289.4,269.8 1289.6,270.3 1289.9,270.1 1290.1,270.5 1290.3,269.8 1290.6,270.6 1290.8,270.0 1291.1,269.1 1291.3,270.6 1291.6,270.8 1291.8,270.2 1292.1,272.0 1292.3,271.0 1292.6,272.0 1292.8,271.5 1293.1,272.1 1293.3,272.4 1293.6,273.0 1293.8,272.0 1294.1,271.8 1294.3,274.0 1294.6,273.0 1294.8,274.7 1295.0,273.1 1295.3,272.1 1295.5,273.5 1295.8,273.8 1296.0,273.6 1296.3,273.1 1296.5,273.7 1296.8,272.5 1297.0,272.5 1297.3,273.6 1297.5,274.3 1297.8,272.3 1298.0,274.3 1298.3,274.1 1298.5,273.9 1298.8,274.9 1299.0,275.0 1299.2,275.3 1299.5,275.9 1299.7,275.9 1300.0,276.5 1300.2,276.5 1300.5,275.4 1300.7,275.9 1301.0,274.5 1301.2,275.7 1301.5,275.2 1301.7,275.8 1302.0,276.3 1302.2,276.8 1302.5,276.3 1302.7,278.5 1303.0,276.9 1303.2,275.9 1303.5,278.5 1303.7,277.2 1303.9,277.2 1304.2,278.1 1304.4,277.2 1304.7,278.8 1304.9,279.2 1305.2,278.8 1305.4,278.0 1305.7,277.5 1305.9,278.3 1306.2,278.4 1306.4,278.0 1306.7,277.8 1306.9,278.5 1307.2,277.4 1307.4,276.5 1307.7,276.2 1307.9,277.4 1308.2,278.3 1308.4,277.2 1308.6,276.9 1308.9,276.7 1309.1,278.0 1309.4,276.1 1309.6,276.7 1309.9,278.3 1310.1,277.0 1310.4,277.1 1310.6,278.2 1310.9,278.0 1311.1,277.3 1311.4,277.8 1311.6,275.3 1311.9,275.9 1312.1,276.6 1312.4,275.9 1312.6,276.2 1312.9,276.1 1313.1,277.0 1313.3,276.5 1313.6,277.9 1313.8,277.4 1314.1,278.5 1314.3,276.6 1314.6,276.4 1314.8,278.0 1315.1,278.3 1315.3,279.0 1315.6,279.3 1315.8,278.6 1316.1,280.0 1316.3,279.2 1316.6,279.4 1316.8,280.5 1317.1,280.5 1317.3,280.2 1317.6,280.3 1317.8,281.8 1318.0,280.2 1318.3,280.4 1318.5,280.5 1318.8,279.9 1319.0,281.2 1319.3,281.4 1319.5,280.4 1319.8,278.6 1320.0,278.5 1320.3,279.8 1320.5,279.2 1320.8,279.3 1321.0,279.5 1321.3,279.3 1321.5,279.6 1321.8,280.0 1322.0,280.5 1322.2,280.5 1322.5,280.6 1322.7,278.7 1323.0,280.3 1323.2,281.8 1323.5,281.8 1323.7,282.4 1324.0,280.6 1324.2,280.8 1324.5,281.1 1324.7,282.0 1325.0,281.2 1325.2,281.4 1325.5,281.2 1325.7,281.2 1326.0,280.7 1326.2,281.7 1326.5,279.0 1326.7,281.2 1326.9,280.9 1327.2,281.6 1327.4,282.4 1327.7,281.5 1327.9,282.6 1328.2,281.9 1328.4,282.3 1328.7,282.0 1328.9,282.4 1329.2,283.1 1329.4,281.5 1329.7,281.6 1329.9,281.6 1330.2,281.3 1330.4,281.7 1330.7,283.6 1330.9,282.7 1331.2,283.5 1331.4,283.2 1331.6,284.6 1331.9,283.6 1332.1,283.5 1332.4,284.8 1332.6,282.4 1332.9,282.6 1333.1,282.8 1333.4,282.4 1333.6,283.4 1333.9,283.8 1334.1,284.7 1334.4,282.0 1334.6,284.6 1334.9,285.1 1335.1,283.4 1335.4,284.4 1335.6,285.4 1335.9,283.6 1336.1,284.3 1336.3,284.3 1336.6,283.9 1336.8,284.1 1337.1,283.6 1337.3,283.2 1337.6,284.8 1337.8,284.3 1338.1,285.2 1338.3,284.4 1338.6,284.3 1338.8,284.2 1339.1,284.3 1339.3,284.8 1339.6,285.8 1339.8,286.2 1340.1,286.4 1340.3,285.7 1340.6,286.6 1340.8,287.8 1341.0,286.7 1341.3,286.9 1341.5,287.5 1341.8,288.0 1342.0,286.4 1342.3,287.4 1342.5,288.0 1342.8,286.9 1343.0,287.9 1343.3,287.8 1343.5,287.9 1343.8,288.0 1344.0,288.3 1344.3,287.7 1344.5,287.5 1344.8,289.0 1345.0,289.5 1345.2,290.2 1345.5,288.7 1345.7,289.4 1346.0,289.0 1346.2,288.6 1346.5,289.4 1346.7,289.1 1347.0,289.3 1347.2,289.0 1347.5,288.8 1347.7,289.4 1348.0,290.8 1348.2,290.4 1348.5,290.7 1348.7,290.0 1349.0,289.5 1349.2,291.1 1349.5,290.5 1349.7,290.5 1349.9,290.6 1350.2,292.1 1350.4,292.5 1350.7,292.8 1350.9,293.4 1351.2,291.6 1351.4,291.7 1351.7,291.6 1351.9,293.6 1352.2,291.6 1352.4,292.7 1352.7,293.2 1352.9,291.3 1353.2,293.5 1353.4,293.8 1353.7,293.1 1353.9,292.4 1354.2,293.9 1354.4,293.5 1354.6,294.1 1354.9,292.8 1355.1,291.8 1355.4,293.2 1355.6,293.7 1355.9,292.1 1356.1,292.7 1356.4,292.5 1356.6,294.1 1356.9,292.2 1357.1,294.7 1357.4,293.2 1357.6,294.7 1357.9,294.1 1358.1,294.0 1358.4,294.3 1358.6,295.1 1358.9,294.5 1359.1,295.2 1359.3,294.8 1359.6,295.5 1359.8,295.5 1360.1,296.6 1360.3,294.8 1360.6,296.3 1360.8,296.5 1361.1,295.8 1361.3,295.8 1361.6,296.8 1361.8,297.5 1362.1,297.2 1362.3,297.7 1362.6,296.0 1362.8,298.7 1363.1,298.3 1363.3,297.3 1363.6,296.9 1363.8,298.2 1364.0,298.6 1364.3,298.1 1364.5,298.0 1364.8,298.7 1365.0,298.5 1365.3,299.1 1365.5,299.3 1365.8,298.3 1366.0,299.0 1366.3,297.8 1366.5,299.5 1366.8,297.4 1367.0,298.1 1367.3,298.3 1367.5,299.5 1367.8,298.3 1368.0,299.8 1368.2,299.4 1368.5,299.9 1368.7,300.6 1369.0,299.1 1369.2,299.4 1369.5,301.1 1369.7,300.2 1370.0,298.7 1370.2,300.5 1370.5,299.8 1370.7,300.0 1371.0,300.4 1371.2,299.3 1371.5,300.5 1371.7,300.2 1372.0,299.0 1372.2,298.9 1372.5,300.2 1372.7,300.6 1372.9,299.1 1373.2,300.7 1373.4,300.3 1373.7,301.1 1373.9,300.9 1374.2,299.2 1374.4,301.3 1374.7,299.1 1374.9,299.4 1375.2,299.0 1375.4,299.3 1375.7,299.6 1375.9,299.5 1376.2,299.6 1376.4,299.7 1376.7,299.2 1376.9,300.9 1377.2,300.7 1377.4,301.6 1377.6,300.4 1377.9,300.6 1378.1,300.8 1378.4,302.1 1378.6,301.0 1378.9,301.4 1379.1,301.6 1379.4,301.9 1379.6,299.9 1379.9,301.4 1380.1,300.5 1380.4,301.4 1380.6,301.3 1380.9,300.8 1381.1,300.7 1381.4,302.0 1381.6,300.6 1381.9,301.9 1382.1,302.1 1382.3,301.3 1382.6,301.3 1382.8,301.1 1383.1,300.7 1383.3,302.0 1383.6,301.8 1383.8,303.9 1384.1,302.0 1384.3,303.0 1384.6,303.4 1384.8,304.2 1385.1,303.7 1385.3,303.4 1385.6,303.9 1385.8,303.7 1386.1,302.8 1386.3,302.6 1386.6,301.7 1386.8,301.9 1387.0,300.8 1387.3,302.0 1387.5,302.3 1387.8,303.4 1388.0,302.1 1388.3,304.2 1388.5,304.8 1388.8,304.8 1389.0,304.6 1389.3,305.6 1389.5,304.9 1389.8,306.3 1390.0,304.5 1390.3,305.6 1390.5,305.1 1390.8,306.7 1391.0,306.5 1391.2,306.7 1391.5,305.8 1391.7,306.2 1392.0,305.7 1392.2,304.6 1392.5,306.0 1392.7,305.5 1393.0,305.1 1393.2,304.2 1393.5,305.9 1393.7,305.3 1394.0,304.4 1394.2,305.0 1394.5,305.9 1394.7,306.0 1395.0,306.4 1395.2,307.5 1395.5,306.1 1395.7,305.9 1395.9,306.1 1396.2,305.8 1396.4,307.6 1396.7,307.9 1396.9,309.3 1397.2,308.0 1397.4,308.2 1397.7,307.3 1397.9,307.4 1398.2,308.8 1398.4,308.9 1398.7,308.2 1398.9,307.6 1399.2,308.5 1399.4,308.5 1399.7,307.8 1399.9,308.8 1400.2,307.8 1400.4,307.8 1400.6,308.1 1400.9,308.3 1401.1,309.1 1401.4,309.3 1401.6,310.3 1401.9,309.7 1402.1,307.9 1402.4,309.1 1402.6,308.8 1402.9,310.2 1403.1,310.3 1403.4,309.8 1403.6,308.9 1403.9,309.5 1404.1,309.9 1404.4,310.6 1404.6,311.4 1404.9,309.4 1405.1,310.2 1405.3,309.1 1405.6,308.9 1405.8,311.5 1406.1,310.5 1406.3,310.8 1406.6,311.8 1406.8,311.1 1407.1,311.7 1407.3,311.1 1407.6,311.5 1407.8,312.1 1408.1,311.1 1408.3,309.8 1408.6,312.5 1408.8,311.3 1409.1,312.9 1409.3,313.2 1409.6,313.1 1409.8,312.0 1410.0,310.8 1410.3,312.7 1410.5,313.6 1410.8,312.7 1411.0,312.2 1411.3,313.0 1411.5,314.3 1411.8,313.7 1412.0,314.0 1412.3,314.3 1412.5,313.4 1412.8,314.2 1413.0,314.5 1413.3,314.0 1413.5,313.8 1413.8,315.5 1414.0,316.0 1414.2,315.5 1414.5,314.9 1414.7,315.5 1415.0,315.3 1415.2,315.0 1415.5,314.2 1415.7,314.4 1416.0,315.6 1416.2,314.5 1416.5,315.4 1416.7,314.7 1417.0,314.1 1417.2,314.3 1417.5,314.9 1417.7,314.8 1418.0,315.4 1418.2,317.4 1418.5,317.1 1418.7,317.0 1418.9,315.5 1419.2,317.1 1419.4,316.2 1419.7,316.7 1419.9,317.1 1420.2,317.2 1420.4,316.4 1420.7,318.3 1420.9,317.4 1421.2,319.2 1421.4,317.6 1421.7,318.1 1421.9,317.6 1422.2,318.5 1422.4,316.9 1422.7,317.3 1422.9,317.3 1423.2,318.1 1423.4,319.0 1423.6,317.9 1423.9,319.2 1424.1,318.6 1424.4,319.1 1424.6,319.5 1424.9,318.5 1425.1,317.9 1425.4,317.7 1425.6,318.7 1425.9,320.3 1426.1,318.6 1426.4,320.3 1426.6,320.5 1426.9,321.3 1427.1,320.0 1427.4,321.4 1427.6,320.8 1427.9,322.0 1428.1,321.8 1428.3,321.8 1428.6,323.3 1428.8,322.5 1429.1,323.8 1429.3,323.9 1429.6,323.3 1429.8,323.5 1430.1,323.2 1430.3,322.7 1430.6,322.5 1430.8,323.2 1431.1,322.5 1431.3,323.3 1431.6,323.8 1431.8,323.7 1432.1,321.7 1432.3,322.9 1432.6,324.0 1432.8,323.1 1433.0,323.7 1433.3,322.0 1433.5,323.9 1433.8,324.5 1434.0,323.9 1434.3,324.6 1434.5,324.1 1434.8,323.9 1435.0,325.4 1435.3,324.1 1435.5,325.0 1435.8,326.0 1436.0,327.2 1436.3,326.0 1436.5,328.2 1436.8,326.2 1437.0,325.9 1437.2,327.8 1437.5,327.3 1437.7,327.8 1438.0,328.5 1438.2,327.4 1438.5,329.1 1438.7,328.0 1439.0,330.4 1439.2,327.8 1439.5,329.7 1439.7,331.0 1440.0,329.4 1440.2,329.7 1440.5,330.5 1440.7,329.3 1441.0,331.0 1441.2,328.3 1441.5,330.5 1441.7,329.9 1441.9,330.4 1442.2,331.3 1442.4,330.0 1442.7,331.3 1442.9,330.9 1443.2,331.2 1443.4,329.0 1443.7,329.7 1443.9,330.6 1444.2,330.7 1444.4,331.4 1444.7,330.1 1444.9,331.0 1445.2,331.5 1445.4,331.9 1445.7,331.8 1445.9,329.7 1446.2,332.4 1446.4,330.8 1446.6,331.9 1446.9,330.6 1447.1,329.9 1447.4,331.9 1447.6,330.9 1447.9,330.5 1448.1,329.8 1448.4,330.5 1448.6,331.4 1448.9,330.3 1449.1,331.3 1449.4,330.1 1449.6,331.0 1449.9,332.5 1450.1,330.8 1450.4,331.3 1450.6,330.2 1450.9,330.0 1451.1,330.9 1451.3,331.0 1451.6,330.0 1451.8,329.0 1452.1,330.0 1452.3,331.8 1452.6,330.5 1452.8,331.0 1453.1,331.6 1453.3,330.7 1453.6,331.4 1453.8,330.6 1454.1,330.6 1454.3,331.3 1454.6,330.9 1454.8,330.4 1455.1,331.9 1455.3,331.6 1455.6,330.7 1455.8,332.3 1456.0,332.2 1456.3,332.3 1456.5,333.7 1456.8,333.8 1457.0,333.2 1457.3,332.2 1457.5,333.8 1457.8,334.1 1458.0,333.9 1458.3,332.6 1458.5,334.2 1458.8,333.9 1459.0,334.3 1459.3,333.8 1459.5,336.5 1459.8,335.1 1460.0,334.0 1460.2,335.7 1460.5,334.5 1460.7,335.4 1461.0,334.9 1461.2,336.8 1461.5,335.1 1461.7,335.5 1462.0,336.7 1462.2,335.4 1462.5,336.1 1462.7,334.4 1463.0,334.4 1463.2,335.4 1463.5,335.3 1463.7,334.8 1464.0,335.9 1464.2,335.7 1464.5,337.0 1464.7,335.7 1464.9,335.7 1465.2,336.4 1465.4,336.8 1465.7,337.9 1465.9,338.0 1466.2,337.3 1466.4,339.3 1466.7,338.3 1466.9,339.2 1467.2,338.4 1467.4,339.5 1467.7,339.2 1467.9,338.6 1468.2,339.3 1468.4,340.7 1468.7,340.1 1468.9,338.9 1469.2,339.5 1469.4,340.2 1469.6,340.3 1469.9,338.8 1470.1,340.7 1470.4,339.4 1470.6,340.3 1470.9,340.4 1471.1,338.6 1471.4,339.9 1471.6,339.5 1471.9,340.6 1472.1,339.3 1472.4,341.5 1472.6,340.5 1472.9,341.6 1473.1,341.4 1473.4,341.3 1473.6,339.7 1473.9,341.8 1474.1,342.7 1474.3,342.0 1474.6,343.3 1474.8,342.1 1475.1,342.4 1475.3,342.4 1475.6,342.3 1475.8,342.0 1476.1,341.0 1476.3,341.8 1476.6,341.4 1476.8,341.0 1477.1,341.6 1477.3,340.1 1477.6,341.3 1477.8,342.1 1478.1,342.4 1478.3,340.7 1478.6,341.9 1478.8,341.4 1479.0,341.8 1479.3,342.4 1479.5,342.2 1479.8,341.8 1480.0,342.4 1480.3,343.3 1480.5,344.9 1480.8,344.2 1481.0,343.0 1481.3,344.3 1481.5,343.2 1481.8,342.7 1482.0,343.2 1482.3,342.1 1482.5,343.4 1482.8,344.4 1483.0,343.1 1483.2,344.2 1483.5,345.0 1483.7,343.9 1484.0,342.7 1484.2,343.3 1484.5,343.6 1484.7,344.7 1485.0,342.3 1485.2,343.9 1485.5,344.1 1485.7,343.9 1486.0,344.7 1486.2,344.2 1486.5,345.3 1486.7,345.1 1487.0,345.8 1487.2,344.6 1487.5,344.7 1487.7,344.0 1487.9,345.1 1488.2,344.6 1488.4,345.2 1488.7,344.0 1488.9,345.0 1489.2,344.6 1489.4,345.5 1489.7,344.6 1489.9,345.7 1490.2,346.8 1490.4,344.8 1490.7,344.8 1490.9,344.4 1491.2,346.2 1491.4,345.4 1491.7,347.1 1491.9,345.8 1492.2,345.8 1492.4,346.9 1492.6,346.3 1492.9,346.3 1493.1,346.0 1493.4,346.8 1493.6,345.7 1493.9,346.6 1494.1,347.5 1494.4,347.3 1494.6,347.3 1494.9,346.7 1495.1,347.2 1495.4,346.4 1495.6,346.9 1495.9,345.2 1496.1,346.4 1496.4,346.6" fill="none" stroke="#ff0000" stroke-width="2.9" stroke-linejoin="round" />
</g>
<rect x="1086.5" y="46.2" width="414.0" height="308.1" fill="none" stroke="#000" stroke-width="1.4" stroke-opacity="0.92"/>
<rect x="1097.9" y="51.9" width="101.3" height="74.5" rx="3.5" fill="#fff" fill-opacity="0.8" stroke="#ccc" stroke-width="1.3"/>
<line x1="1107.4" x2="1154.0" y1="70.0" y2="70.0" stroke="#0000ff" stroke-width="1.95" stroke-linecap="square"/>
<text transform="translate(1172.90,78.80) scale(1,1.04)" font-size="23.4" text-anchor="start" font-family="DejaVu Sans, Liberation Sans, sans-serif" >I</text>
<line x1="1107.4" x2="1154.0" y1="104.1" y2="104.1" stroke="#ff0000" stroke-width="1.95" stroke-linecap="square"/>
<text transform="translate(1172.90,112.90) scale(1,1.04)" font-size="23.4" text-anchor="start" font-family="DejaVu Sans, Liberation Sans, sans-serif" >D</text>
<text transform="translate(1293.50,26.90) scale(1,1.015)" font-size="27.4" text-anchor="middle" font-family="DejaVu Sans, Liberation Sans, sans-serif" >3-photon</text>
<text transform="translate(1293.50,407.40) scale(1,1.04)" font-size="23.1" text-anchor="middle" font-family="DejaVu Sans, Liberation Sans, sans-serif" >Events</text>
<text transform="translate(1047.0,203.7) rotate(-90) scale(1,1.04)" font-size="27.0" text-anchor="middle" font-family="DejaVu Sans, Liberation Sans, sans-serif">C</text>
<text x="1040.00" y="24.20" font-size="32.5" text-anchor="start" font-family="Liberation Sans, sans-serif" font-weight="bold">(c)</text>
<clipPath id="cd"><rect x="1577.5" y="46.2" width="414.0" height="308.1"/></clipPath>
<rect x="1577.5" y="46.2" width="414.0" height="144.90" fill="#d9d9ff"/>
<rect x="1577.5" y="191.10" width="414.0" height="163.20" fill="#ffd9d9"/>
<line x1="1577.50" x2="1577.50" y1="46.2" y2="354.3" stroke="#b0b0b0" stroke-width="1.2"/>
<line x1="1577.50" x2="1577.50" y1="354.3" y2="358.6" stroke="#000" stroke-width="1.05"/>
<text transform="translate(1577.50,380.90) scale(1,1.04)" font-size="23.4" text-anchor="middle" font-family="DejaVu Sans, Liberation Sans, sans-serif" >0</text>
<line x1="1676.00" x2="1676.00" y1="46.2" y2="354.3" stroke="#b0b0b0" stroke-width="1.2"/>
<line x1="1676.00" x2="1676.00" y1="354.3" y2="358.6" stroke="#000" stroke-width="1.05"/>
<text transform="translate(1676.00,380.90) scale(1,1.04)" font-size="23.4" text-anchor="middle" font-family="DejaVu Sans, Liberation Sans, sans-serif" >250</text>
<line x1="1774.50" x2="1774.50" y1="46.2" y2="354.3" stroke="#b0b0b0" stroke-width="1.2"/>
<line x1="1774.50" x2="1774.50" y1="354.3" y2="358.6" stroke="#000" stroke-width="1.05"/>
<text transform="translate(1774.50,380.90) scale(1,1.04)" font-size="23.4" text-anchor="middle" font-family="DejaVu Sans, Liberation Sans, sans-serif" >500</text>
<line x1="1873.00" x2="1873.00" y1="46.2" y2="354.3" stroke="#b0b0b0" stroke-width="1.2"/>
<line x1="1873.00" x2="1873.00" y1="354.3" y2="358.6" stroke="#000" stroke-width="1.05"/>
<text transform="translate(1873.00,380.90) scale(1,1.04)" font-size="23.4" text-anchor="middle" font-family="DejaVu Sans, Liberation Sans, sans-serif" >750</text>
<line x1="1971.50" x2="1971.50" y1="46.2" y2="354.3" stroke="#b0b0b0" stroke-width="1.2"/>
<line x1="1971.50" x2="1971.50" y1="354.3" y2="358.6" stroke="#000" stroke-width="1.05"/>
<text transform="translate(1971.50,380.90) scale(1,1.04)" font-size="23.4" text-anchor="middle" font-family="DejaVu Sans, Liberation Sans, sans-serif" >1000</text>
<line x1="1577.5" x2="1991.5" y1="47.50" y2="47.50" stroke="#b0b0b0" stroke-width="1.2"/>
<line x1="1573.4" x2="1577.5" y1="47.50" y2="47.50" stroke="#000" stroke-width="1.05"/>
<text transform="translate(1569.50,56.60) scale(1,1.04)" font-size="23.4" text-anchor="end" font-family="DejaVu Sans, Liberation Sans, sans-serif" >200</text>
<line x1="1577.5" x2="1991.5" y1="119.30" y2="119.30" stroke="#b0b0b0" stroke-width="1.2"/>
<line x1="1573.4" x2="1577.5" y1="119.30" y2="119.30" stroke="#000" stroke-width="1.05"/>
<text transform="translate(1569.50,128.40) scale(1,1.04)" font-size="23.4" text-anchor="end" font-family="DejaVu Sans, Liberation Sans, sans-serif" >100</text>
<line x1="1577.5" x2="1991.5" y1="191.10" y2="191.10" stroke="#b0b0b0" stroke-width="1.2"/>
<line x1="1573.4" x2="1577.5" y1="191.10" y2="191.10" stroke="#000" stroke-width="1.05"/>
<text transform="translate(1569.50,200.20) scale(1,1.04)" font-size="23.4" text-anchor="end" font-family="DejaVu Sans, Liberation Sans, sans-serif" >0</text>
<line x1="1577.5" x2="1991.5" y1="262.90" y2="262.90" stroke="#b0b0b0" stroke-width="1.2"/>
<line x1="1573.4" x2="1577.5" y1="262.90" y2="262.90" stroke="#000" stroke-width="1.05"/>
<text transform="translate(1569.50,272.00) scale(1,1.04)" font-size="23.4" text-anchor="end" font-family="DejaVu Sans, Liberation Sans, sans-serif" >-100</text>
<line x1="1577.5" x2="1991.5" y1="334.70" y2="334.70" stroke="#b0b0b0" stroke-width="1.2"/>
<line x1="1573.4" x2="1577.5" y1="334.70" y2="334.70" stroke="#000" stroke-width="1.05"/>
<text transform="translate(1569.50,343.80) scale(1,1.04)" font-size="23.4" text-anchor="end" font-family="DejaVu Sans, Liberation Sans, sans-serif" >-200</text>
<g clip-path="url(#cd)">
<polyline points="1577.6,191.6 1578.0,191.4 1578.4,191.1 1578.8,190.9 1579.2,190.3 1579.6,190.2 1580.0,189.9 1580.4,188.9 1580.8,189.8 1581.2,189.4 1581.6,188.5 1582.0,188.4 1582.4,188.5 1582.8,187.7 1583.2,187.5 1583.5,186.6 1583.9,187.5 1584.3,187.1 1584.7,187.1 1585.1,185.9 1585.5,187.5 1585.9,186.5 1586.3,185.8 1586.7,186.7 1587.1,185.0 1587.5,183.7 1587.9,183.8 1588.3,182.4 1588.7,183.9 1589.1,182.8 1589.5,182.8 1589.9,184.0 1590.2,182.7 1590.6,184.1 1591.0,183.0 1591.4,184.2 1591.8,184.4 1592.2,186.3 1592.6,186.9 1593.0,186.0 1593.4,186.7 1593.8,186.1 1594.2,186.5 1594.6,185.4 1595.0,184.5 1595.4,184.3 1595.8,185.4 1596.2,186.4 1596.6,185.3 1596.9,184.7 1597.3,185.7 1597.7,184.3 1598.1,183.7 1598.5,183.2 1598.9,182.5 1599.3,181.9 1599.7,180.8 1600.1,181.5 1600.5,180.8 1600.9,181.2 1601.3,179.9 1601.7,178.7 1602.1,179.2 1602.5,179.8 1602.9,178.1 1603.3,177.4 1603.6,176.8 1604.0,176.7 1604.4,176.9 1604.8,176.4 1605.2,177.9 1605.6,177.0 1606.0,177.2 1606.4,177.7 1606.8,177.6 1607.2,176.3 1607.6,176.2 1608.0,176.0 1608.4,175.0 1608.8,173.8 1609.2,174.8 1609.6,174.6 1610.0,174.1 1610.3,173.2 1610.7,173.5 1611.1,173.2 1611.5,173.4 1611.9,174.3 1612.3,174.4 1612.7,173.7 1613.1,173.4 1613.5,173.2 1613.9,172.8 1614.3,172.7 1614.7,172.4 1615.1,172.7 1615.5,174.0 1615.9,173.2 1616.3,172.4 1616.7,172.2 1617.0,171.9 1617.4,172.5 1617.8,172.6 1618.2,171.8 1618.6,173.1 1619.0,172.8 1619.4,174.1 1619.8,173.6 1620.2,174.6 1620.6,173.2 1621.0,173.1 1621.4,173.1 1621.8,173.2 1622.2,172.6 1622.6,171.3 1623.0,171.8 1623.4,171.4 1623.7,171.0 1624.1,170.7 1624.5,171.9 1624.9,170.7 1625.3,170.3 1625.7,171.1 1626.1,170.7 1626.5,170.9 1626.9,171.7 1627.3,171.9 1627.7,172.1 1628.1,172.5 1628.5,172.2 1628.9,171.7 1629.3,171.8 1629.7,171.6 1630.1,172.0 1630.4,171.4 1630.8,171.1 1631.2,172.4 1631.6,171.9 1632.0,172.0 1632.4,173.7 1632.8,173.5 1633.2,174.5 1633.6,174.2 1634.0,174.2 1634.4,174.1 1634.8,174.1 1635.2,174.0 1635.6,173.4 1636.0,173.5 1636.4,172.6 1636.8,173.4 1637.1,172.5 1637.5,173.5 1637.9,174.1 1638.3,174.3 1638.7,174.6 1639.1,172.7 1639.5,173.7 1639.9,173.7 1640.3,173.2 1640.7,171.8 1641.1,172.1 1641.5,172.7 1641.9,170.7 1642.3,171.5 1642.7,171.6 1643.1,170.4 1643.5,170.8 1643.8,169.7 1644.2,169.7 1644.6,169.7 1645.0,170.3 1645.4,170.2 1645.8,170.8 1646.2,169.9 1646.6,170.3 1647.0,170.9 1647.4,170.7 1647.8,169.6 1648.2,170.6 1648.6,169.8 1649.0,170.0 1649.4,169.7 1649.8,169.9 1650.2,168.9 1650.5,167.6 1650.9,167.6 1651.3,168.6 1651.7,168.0 1652.1,168.6 1652.5,168.0 1652.9,167.2 1653.3,167.9 1653.7,166.6 1654.1,165.7 1654.5,167.7 1654.9,165.4 1655.3,166.4 1655.7,166.1 1656.1,165.2 1656.5,163.7 1656.9,164.7 1657.3,162.9 1657.6,162.7 1658.0,162.9 1658.4,163.3 1658.8,162.8 1659.2,162.7 1659.6,161.6 1660.0,161.3 1660.4,160.3 1660.8,160.3 1661.2,160.5 1661.6,159.6 1662.0,159.7 1662.4,159.1 1662.8,159.0 1663.2,159.4 1663.6,159.2 1664.0,159.7 1664.3,159.3 1664.7,160.0 1665.1,158.7 1665.5,158.5 1665.9,157.8 1666.3,158.1 1666.7,158.4 1667.1,157.5 1667.5,157.8 1667.9,158.2 1668.3,157.8 1668.7,157.6 1669.1,158.2 1669.5,157.4 1669.9,157.2 1670.3,157.1 1670.7,156.5 1671.0,155.0 1671.4,154.3 1671.8,154.1 1672.2,153.3 1672.6,151.8 1673.0,153.1 1673.4,152.0 1673.8,151.9 1674.2,150.4 1674.6,151.2 1675.0,149.6 1675.4,149.3 1675.8,148.1 1676.2,148.5 1676.6,148.3 1677.0,148.2 1677.4,148.4 1677.7,148.0 1678.1,148.3 1678.5,147.3 1678.9,146.9 1679.3,147.2 1679.7,147.4 1680.1,147.5 1680.5,147.0 1680.9,145.4 1681.3,146.2 1681.7,146.5 1682.1,145.5 1682.5,144.9 1682.9,145.1 1683.3,144.4 1683.7,144.9 1684.1,144.3 1684.4,144.8 1684.8,144.0 1685.2,142.9 1685.6,143.1 1686.0,142.8 1686.4,141.3 1686.8,140.8 1687.2,139.2 1687.6,140.5 1688.0,139.3 1688.4,138.2 1688.8,138.3 1689.2,139.1 1689.6,139.6 1690.0,139.1 1690.4,139.4 1690.8,138.4 1691.1,138.2 1691.5,139.4 1691.9,139.1 1692.3,138.7 1692.7,139.4 1693.1,138.1 1693.5,138.2 1693.9,138.8 1694.3,139.0 1694.7,137.6 1695.1,138.1 1695.5,136.3 1695.9,136.2 1696.3,135.4 1696.7,134.2 1697.1,134.8 1697.5,134.9 1697.8,133.9 1698.2,133.5 1698.6,133.8 1699.0,131.9 1699.4,131.3 1699.8,131.5 1700.2,131.0 1700.6,132.3 1701.0,131.6 1701.4,130.9 1701.8,130.8 1702.2,132.9 1702.6,131.1 1703.0,131.1 1703.4,131.8 1703.8,132.0 1704.2,131.7 1704.5,131.2 1704.9,131.1 1705.3,132.2 1705.7,132.1 1706.1,131.5 1706.5,133.2 1706.9,133.2 1707.3,132.4 1707.7,131.9 1708.1,131.7 1708.5,130.7 1708.9,129.9 1709.3,130.4 1709.7,129.1 1710.1,129.9 1710.5,128.6 1710.9,129.1 1711.2,128.8 1711.6,129.5 1712.0,127.6 1712.4,127.1 1712.8,127.3 1713.2,126.9 1713.6,127.3 1714.0,128.0 1714.4,128.3 1714.8,128.8 1715.2,127.3 1715.6,128.7 1716.0,127.7 1716.4,125.8 1716.8,123.9 1717.2,124.4 1717.6,123.9 1717.9,122.3 1718.3,123.4 1718.7,123.1 1719.1,122.7 1719.5,123.3 1719.9,123.4 1720.3,122.3 1720.7,122.3 1721.1,121.4 1721.5,120.9 1721.9,121.0 1722.3,120.8 1722.7,119.9 1723.1,118.7 1723.5,120.0 1723.9,118.6 1724.3,119.5 1724.6,120.3 1725.0,119.4 1725.4,118.7 1725.8,118.5 1726.2,119.9 1726.6,119.2 1727.0,119.3 1727.4,119.2 1727.8,118.2 1728.2,117.6 1728.6,116.8 1729.0,115.4 1729.4,116.2 1729.8,117.1 1730.2,117.2 1730.6,117.8 1731.0,117.6 1731.3,117.8 1731.7,118.1 1732.1,117.0 1732.5,117.3 1732.9,116.6 1733.3,118.1 1733.7,117.7 1734.1,118.0 1734.5,118.5 1734.9,118.1 1735.3,117.1 1735.7,117.2 1736.1,115.6 1736.5,116.3 1736.9,115.9 1737.3,114.8 1737.7,116.3 1738.0,115.1 1738.4,115.8 1738.8,115.1 1739.2,115.6 1739.6,115.5 1740.0,114.0 1740.4,113.5 1740.8,114.0 1741.2,114.4 1741.6,113.5 1742.0,113.1 1742.4,113.5 1742.8,111.5 1743.2,112.5 1743.6,112.1 1744.0,113.0 1744.4,112.5 1744.8,112.4 1745.1,112.9 1745.5,112.4 1745.9,113.4 1746.3,113.3 1746.7,113.7 1747.1,113.8 1747.5,114.9 1747.9,114.6 1748.3,115.1 1748.7,115.1 1749.1,114.5 1749.5,115.3 1749.9,115.2 1750.3,115.2 1750.7,114.9 1751.1,114.9 1751.5,115.5 1751.8,116.2 1752.2,114.5 1752.6,115.0 1753.0,114.3 1753.4,114.6 1753.8,114.0 1754.2,113.9 1754.6,111.4 1755.0,112.4 1755.4,112.0 1755.8,112.5 1756.2,112.2 1756.6,112.3 1757.0,113.0 1757.4,113.7 1757.8,111.0 1758.2,112.2 1758.5,112.5 1758.9,112.2 1759.3,111.9 1759.7,111.3 1760.1,111.5 1760.5,112.4 1760.9,112.6 1761.3,112.0 1761.7,111.3 1762.1,111.7 1762.5,111.3 1762.9,111.6 1763.3,111.2 1763.7,110.6 1764.1,110.9 1764.5,110.0 1764.9,111.0 1765.2,111.1 1765.6,109.8 1766.0,110.6 1766.4,109.7 1766.8,110.7 1767.2,110.5 1767.6,109.6 1768.0,110.0 1768.4,108.9 1768.8,108.4 1769.2,108.2 1769.6,108.3 1770.0,108.6 1770.4,109.2 1770.8,109.1 1771.2,110.2 1771.6,110.7 1771.9,110.1 1772.3,109.9 1772.7,111.3 1773.1,111.8 1773.5,111.3 1773.9,110.8 1774.3,111.9 1774.7,112.8 1775.1,110.5 1775.5,111.4 1775.9,110.6 1776.3,110.0 1776.7,110.5 1777.1,109.1 1777.5,109.7 1777.9,109.8 1778.3,108.6 1778.6,107.5 1779.0,106.5 1779.4,106.3 1779.8,105.6 1780.2,107.7 1780.6,106.7 1781.0,106.3 1781.4,106.2 1781.8,106.4 1782.2,107.0 1782.6,106.7 1783.0,108.7 1783.4,107.6 1783.8,107.9 1784.2,108.8 1784.6,109.5 1785.0,109.5 1785.3,108.5 1785.7,108.7 1786.1,108.4 1786.5,108.4 1786.9,107.9 1787.3,107.1 1787.7,106.8 1788.1,107.5 1788.5,106.7 1788.9,108.1 1789.3,107.3 1789.7,106.7 1790.1,107.0 1790.5,106.8 1790.9,107.0 1791.3,107.5 1791.7,106.2 1792.0,106.0 1792.4,107.3 1792.8,107.1 1793.2,107.5 1793.6,107.7 1794.0,107.2 1794.4,107.3 1794.8,105.8 1795.2,105.8 1795.6,104.8 1796.0,104.2 1796.4,104.7 1796.8,104.3 1797.2,102.5 1797.6,102.7 1798.0,103.3 1798.4,103.5 1798.7,102.4 1799.1,102.6 1799.5,101.8 1799.9,103.9 1800.3,102.6 1800.7,102.6 1801.1,102.3 1801.5,102.3 1801.9,101.9 1802.3,101.1 1802.7,101.4 1803.1,100.7 1803.5,101.2 1803.9,99.8 1804.3,99.8 1804.7,100.2 1805.1,100.4 1805.4,99.7 1805.8,99.2 1806.2,99.5 1806.6,99.3 1807.0,100.7 1807.4,100.2 1807.8,100.4 1808.2,100.2 1808.6,100.0 1809.0,101.1 1809.4,101.6 1809.8,101.1 1810.2,100.8 1810.6,101.4 1811.0,100.6 1811.4,101.3 1811.8,100.6 1812.1,100.7 1812.5,101.7 1812.9,101.7 1813.3,102.7 1813.7,101.4 1814.1,101.5 1814.5,100.8 1814.9,100.3 1815.3,100.2 1815.7,101.6 1816.1,100.9 1816.5,102.5 1816.9,102.9 1817.3,102.0 1817.7,103.1 1818.1,102.1 1818.5,102.3 1818.8,101.2 1819.2,101.4 1819.6,100.0 1820.0,100.6 1820.4,99.8 1820.8,99.7 1821.2,100.0 1821.6,99.6 1822.0,99.3 1822.4,99.5 1822.8,99.3 1823.2,97.8 1823.6,98.5 1824.0,98.0 1824.4,96.8 1824.8,96.9 1825.2,95.6 1825.5,96.7 1825.9,95.3 1826.3,94.9 1826.7,95.1 1827.1,93.7 1827.5,93.5 1827.9,91.9 1828.3,91.6 1828.7,90.8 1829.1,91.3 1829.5,91.9 1829.9,91.3 1830.3,91.5 1830.7,90.3 1831.1,90.2 1831.5,90.3 1831.9,90.8 1832.2,90.6 1832.6,90.3 1833.0,90.6 1833.4,90.1 1833.8,90.1 1834.2,90.7 1834.6,89.5 1835.0,89.7 1835.4,90.3 1835.8,89.0 1836.2,88.6 1836.6,87.2 1837.0,87.9 1837.4,85.0 1837.8,85.0 1838.2,84.6 1838.6,85.6 1839.0,84.5 1839.3,83.6 1839.7,82.5 1840.1,82.9 1840.5,82.2 1840.9,81.2 1841.3,80.3 1841.7,80.1 1842.1,80.4 1842.5,80.0 1842.9,79.5 1843.3,78.9 1843.7,77.6 1844.1,78.1 1844.5,77.6 1844.9,78.3 1845.3,78.8 1845.7,78.3 1846.0,78.2 1846.4,79.4 1846.8,79.1 1847.2,78.7 1847.6,77.5 1848.0,79.3 1848.4,79.9 1848.8,80.4 1849.2,79.6 1849.6,79.7 1850.0,79.9 1850.4,80.7 1850.8,79.6 1851.2,80.2 1851.6,79.9 1852.0,80.7 1852.4,79.9 1852.7,81.2 1853.1,80.9 1853.5,81.1 1853.9,81.5 1854.3,81.9 1854.7,80.4 1855.1,81.8 1855.5,81.6 1855.9,81.1 1856.3,81.9 1856.7,81.2 1857.1,81.7 1857.5,80.5 1857.9,80.3 1858.3,81.3 1858.7,81.6 1859.1,80.4 1859.4,80.1 1859.8,78.8 1860.2,77.8 1860.6,78.0 1861.0,78.5 1861.4,76.3 1861.8,76.8 1862.2,75.8 1862.6,76.9 1863.0,77.2 1863.4,76.0 1863.8,76.3 1864.2,77.0 1864.6,76.0 1865.0,75.1 1865.4,74.9 1865.8,74.4 1866.1,76.0 1866.5,75.2 1866.9,76.3 1867.3,76.2 1867.7,75.3 1868.1,75.2 1868.5,75.7 1868.9,75.0 1869.3,74.7 1869.7,73.3 1870.1,74.4 1870.5,73.2 1870.9,72.4 1871.3,73.4 1871.7,74.0 1872.1,75.0 1872.5,73.7 1872.8,73.1 1873.2,74.7 1873.6,73.3 1874.0,72.8 1874.4,72.0 1874.8,71.8 1875.2,73.0 1875.6,71.9 1876.0,71.7 1876.4,71.6 1876.8,72.6 1877.2,71.3 1877.6,71.8 1878.0,71.4 1878.4,71.2 1878.8,70.3 1879.2,70.9 1879.5,71.0 1879.9,69.7 1880.3,68.9 1880.7,68.3 1881.1,68.9 1881.5,68.4 1881.9,68.4 1882.3,68.4 1882.7,67.6 1883.1,68.8 1883.5,68.5 1883.9,68.3 1884.3,68.4 1884.7,68.6 1885.1,67.8 1885.5,67.0 1885.9,67.7 1886.2,66.4 1886.6,65.9 1887.0,65.2 1887.4,65.9 1887.8,65.5 1888.2,66.1 1888.6,67.0 1889.0,67.0 1889.4,67.8 1889.8,67.6 1890.2,67.3 1890.6,67.4 1891.0,67.4 1891.4,68.1 1891.8,67.8 1892.2,67.7 1892.6,68.4 1892.9,68.0 1893.3,67.7 1893.7,67.1 1894.1,68.3 1894.5,68.2 1894.9,68.2 1895.3,68.1 1895.7,68.0 1896.1,68.4 1896.5,68.9 1896.9,68.8 1897.3,69.0 1897.7,69.1 1898.1,69.8 1898.5,70.2 1898.9,70.0 1899.3,71.2 1899.6,71.5 1900.0,71.7 1900.4,71.2 1900.8,71.2 1901.2,70.7 1901.6,71.9 1902.0,70.5 1902.4,71.7 1902.8,72.0 1903.2,73.0 1903.6,72.8 1904.0,72.5 1904.4,72.6 1904.8,73.3 1905.2,74.1 1905.6,74.5 1906.0,74.9 1906.3,75.1 1906.7,75.8 1907.1,76.9 1907.5,76.3 1907.9,77.4 1908.3,78.6 1908.7,78.4 1909.1,78.2 1909.5,79.2 1909.9,78.8 1910.3,79.6 1910.7,80.8 1911.1,81.4 1911.5,79.8 1911.9,81.4 1912.3,81.9 1912.7,80.4 1913.0,80.6 1913.4,81.1 1913.8,79.7 1914.2,80.0 1914.6,79.6 1915.0,78.5 1915.4,79.8 1915.8,79.7 1916.2,80.5 1916.6,81.2 1917.0,80.3 1917.4,79.5 1917.8,79.6 1918.2,79.0 1918.6,79.0 1919.0,77.2 1919.4,77.0 1919.7,76.3 1920.1,77.6 1920.5,77.2 1920.9,76.9 1921.3,76.8 1921.7,77.0 1922.1,76.9 1922.5,77.2 1922.9,77.1 1923.3,78.1 1923.7,77.5 1924.1,76.8 1924.5,76.8 1924.9,77.6 1925.3,77.0 1925.7,76.6 1926.1,76.4 1926.4,76.3 1926.8,74.2 1927.2,73.9 1927.6,72.9 1928.0,73.8 1928.4,73.0 1928.8,72.7 1929.2,72.5 1929.6,73.2 1930.0,72.6 1930.4,72.3 1930.8,73.1 1931.2,71.6 1931.6,71.3 1932.0,73.2 1932.4,71.3 1932.8,70.9 1933.2,70.5 1933.5,70.6 1933.9,70.8 1934.3,70.5 1934.7,70.1 1935.1,69.4 1935.5,68.5 1935.9,69.2 1936.3,69.6 1936.7,69.0 1937.1,67.9 1937.5,68.0 1937.9,66.8 1938.3,66.5 1938.7,65.5 1939.1,65.8 1939.5,65.9 1939.9,65.6 1940.2,66.0 1940.6,66.3 1941.0,65.5 1941.4,64.1 1941.8,63.3 1942.2,62.8 1942.6,62.2 1943.0,62.4 1943.4,62.5 1943.8,62.2 1944.2,62.1 1944.6,61.9 1945.0,61.5 1945.4,60.9 1945.8,62.0 1946.2,61.3 1946.6,59.9 1946.9,59.7 1947.3,59.8 1947.7,60.2 1948.1,60.9 1948.5,60.7 1948.9,60.7 1949.3,60.4 1949.7,60.0 1950.1,59.3 1950.5,58.5 1950.9,57.7 1951.3,56.3 1951.7,56.8 1952.1,58.0 1952.5,57.1 1952.9,57.4 1953.3,58.7 1953.6,58.6 1954.0,58.7 1954.4,60.2 1954.8,60.0 1955.2,60.4 1955.6,60.0 1956.0,60.9 1956.4,61.2 1956.8,61.7 1957.2,61.9 1957.6,61.7 1958.0,61.0 1958.4,60.9 1958.8,59.6 1959.2,60.2 1959.6,60.0 1960.0,59.1 1960.3,58.7 1960.7,58.9 1961.1,58.2 1961.5,59.1 1961.9,59.2 1962.3,58.7 1962.7,59.4 1963.1,60.1 1963.5,60.2 1963.9,60.2 1964.3,59.6 1964.7,59.6 1965.1,59.7 1965.5,60.3 1965.9,61.3 1966.3,60.7 1966.7,60.6 1967.0,60.2 1967.4,58.2 1967.8,58.5 1968.2,57.9 1968.6,58.5 1969.0,58.4 1969.4,56.7 1969.8,56.6 1970.2,56.5 1970.6,55.5 1971.0,55.1 1971.4,54.9 1971.8,55.6 1972.2,54.5 1972.6,55.5 1973.0,54.7 1973.4,54.7 1973.7,54.7 1974.1,53.0 1974.5,52.6 1974.9,53.2 1975.3,52.3 1975.7,52.5 1976.1,52.9 1976.5,53.3 1976.9,52.7 1977.3,53.5 1977.7,54.3 1978.1,54.9 1978.5,53.2 1978.9,55.1 1979.3,54.9 1979.7,53.8 1980.1,53.7 1980.4,54.9 1980.8,54.7 1981.2,55.3 1981.6,56.1 1982.0,55.9 1982.4,56.6 1982.8,57.2 1983.2,57.6 1983.6,58.0 1984.0,57.8 1984.4,56.8 1984.8,56.1 1985.2,57.1 1985.6,55.6 1986.0,54.9 1986.4,53.6 1986.8,54.1 1987.1,52.8" fill="none" stroke="#0000ff" stroke-width="2.3" stroke-linejoin="round" />
<polyline points="1577.6,192.7 1578.0,192.7 1578.4,192.4 1578.8,192.4 1579.2,192.3 1579.6,193.7 1580.0,193.9 1580.4,194.4 1580.8,194.1 1581.2,194.2 1581.6,192.9 1582.0,194.2 1582.4,192.2 1582.8,192.2 1583.2,192.2 1583.5,192.0 1583.9,192.9 1584.3,192.3 1584.7,192.4 1585.1,192.3 1585.5,193.1 1585.9,191.8 1586.3,191.9 1586.7,192.2 1587.1,191.0 1587.5,191.6 1587.9,192.3 1588.3,192.7 1588.7,192.2 1589.1,191.7 1589.5,193.1 1589.9,192.5 1590.2,192.8 1590.6,193.1 1591.0,193.1 1591.4,193.0 1591.8,193.8 1592.2,193.1 1592.6,193.8 1593.0,194.2 1593.4,194.4 1593.8,195.6 1594.2,196.2 1594.6,196.7 1595.0,197.0 1595.4,197.7 1595.8,198.6 1596.2,198.2 1596.6,195.8 1596.9,198.1 1597.3,196.5 1597.7,196.8 1598.1,198.2 1598.5,197.8 1598.9,199.9 1599.3,199.9 1599.7,199.5 1600.1,199.6 1600.5,201.2 1600.9,202.2 1601.3,202.0 1601.7,203.3 1602.1,202.8 1602.5,203.1 1602.9,202.5 1603.3,203.0 1603.6,202.8 1604.0,202.2 1604.4,204.9 1604.8,203.8 1605.2,204.3 1605.6,205.3 1606.0,204.9 1606.4,205.3 1606.8,205.6 1607.2,205.0 1607.6,206.8 1608.0,206.4 1608.4,206.1 1608.8,207.2 1609.2,207.1 1609.6,206.6 1610.0,207.5 1610.3,207.7 1610.7,208.1 1611.1,208.4 1611.5,208.7 1611.9,207.8 1612.3,208.6 1612.7,208.2 1613.1,209.3 1613.5,208.7 1613.9,208.5 1614.3,209.8 1614.7,211.8 1615.1,211.4 1615.5,210.9 1615.9,212.2 1616.3,210.6 1616.7,210.3 1617.0,210.6 1617.4,209.9 1617.8,209.5 1618.2,209.0 1618.6,209.1 1619.0,209.7 1619.4,208.4 1619.8,208.8 1620.2,210.0 1620.6,210.7 1621.0,208.2 1621.4,209.3 1621.8,209.8 1622.2,208.5 1622.6,208.0 1623.0,208.7 1623.4,207.5 1623.7,207.1 1624.1,207.1 1624.5,206.7 1624.9,206.3 1625.3,208.5 1625.7,209.0 1626.1,208.3 1626.5,208.0 1626.9,208.1 1627.3,207.5 1627.7,206.4 1628.1,206.4 1628.5,207.2 1628.9,206.8 1629.3,206.2 1629.7,206.4 1630.1,207.9 1630.4,206.8 1630.8,208.5 1631.2,208.3 1631.6,207.7 1632.0,208.2 1632.4,208.7 1632.8,209.0 1633.2,209.2 1633.6,209.9 1634.0,209.6 1634.4,208.6 1634.8,208.6 1635.2,208.0 1635.6,208.1 1636.0,208.3 1636.4,207.0 1636.8,208.4 1637.1,208.4 1637.5,208.3 1637.9,207.8 1638.3,208.3 1638.7,208.3 1639.1,208.9 1639.5,207.9 1639.9,209.4 1640.3,210.4 1640.7,210.2 1641.1,210.8 1641.5,212.3 1641.9,213.9 1642.3,213.1 1642.7,213.4 1643.1,213.1 1643.5,213.6 1643.8,213.5 1644.2,212.8 1644.6,213.7 1645.0,214.2 1645.4,213.6 1645.8,214.6 1646.2,215.4 1646.6,215.5 1647.0,215.0 1647.4,216.2 1647.8,215.5 1648.2,214.7 1648.6,213.7 1649.0,214.7 1649.4,215.2 1649.8,215.3 1650.2,216.0 1650.5,217.4 1650.9,217.3 1651.3,217.9 1651.7,216.6 1652.1,217.6 1652.5,218.5 1652.9,217.4 1653.3,219.1 1653.7,217.4 1654.1,217.8 1654.5,219.1 1654.9,217.1 1655.3,219.0 1655.7,218.1 1656.1,218.4 1656.5,219.5 1656.9,219.8 1657.3,220.5 1657.6,220.4 1658.0,220.7 1658.4,220.5 1658.8,221.8 1659.2,220.8 1659.6,223.1 1660.0,223.4 1660.4,224.6 1660.8,225.1 1661.2,223.8 1661.6,225.3 1662.0,224.8 1662.4,225.3 1662.8,226.4 1663.2,226.5 1663.6,226.8 1664.0,226.3 1664.3,226.1 1664.7,225.1 1665.1,225.0 1665.5,225.5 1665.9,224.3 1666.3,224.5 1666.7,225.1 1667.1,224.5 1667.5,223.9 1667.9,224.3 1668.3,224.5 1668.7,222.9 1669.1,222.2 1669.5,222.8 1669.9,222.0 1670.3,222.1 1670.7,221.9 1671.0,222.2 1671.4,223.1 1671.8,223.7 1672.2,223.5 1672.6,225.0 1673.0,225.5 1673.4,224.9 1673.8,225.2 1674.2,226.0 1674.6,224.5 1675.0,224.6 1675.4,225.2 1675.8,225.6 1676.2,226.2 1676.6,226.3 1677.0,225.5 1677.4,227.3 1677.7,227.7 1678.1,226.6 1678.5,227.6 1678.9,227.2 1679.3,227.5 1679.7,227.6 1680.1,229.0 1680.5,227.9 1680.9,228.6 1681.3,229.3 1681.7,228.9 1682.1,229.7 1682.5,230.2 1682.9,231.7 1683.3,230.5 1683.7,231.7 1684.1,232.3 1684.4,232.6 1684.8,234.0 1685.2,233.7 1685.6,234.0 1686.0,235.1 1686.4,235.8 1686.8,235.0 1687.2,236.3 1687.6,236.5 1688.0,236.4 1688.4,236.2 1688.8,237.4 1689.2,237.6 1689.6,237.0 1690.0,237.6 1690.4,239.3 1690.8,238.4 1691.1,238.2 1691.5,239.9 1691.9,240.9 1692.3,242.0 1692.7,242.1 1693.1,244.1 1693.5,243.3 1693.9,244.1 1694.3,245.0 1694.7,244.9 1695.1,244.0 1695.5,246.2 1695.9,246.4 1696.3,246.4 1696.7,247.8 1697.1,247.9 1697.5,246.9 1697.8,246.4 1698.2,246.2 1698.6,247.2 1699.0,247.1 1699.4,247.7 1699.8,246.8 1700.2,248.9 1700.6,248.9 1701.0,250.1 1701.4,252.3 1701.8,251.7 1702.2,252.7 1702.6,252.7 1703.0,253.1 1703.4,252.9 1703.8,252.7 1704.2,253.1 1704.5,251.7 1704.9,252.0 1705.3,252.6 1705.7,252.4 1706.1,253.4 1706.5,252.1 1706.9,251.9 1707.3,251.9 1707.7,250.6 1708.1,251.9 1708.5,250.7 1708.9,251.0 1709.3,250.0 1709.7,249.6 1710.1,250.3 1710.5,250.3 1710.9,250.8 1711.2,250.3 1711.6,251.9 1712.0,250.6 1712.4,249.7 1712.8,250.1 1713.2,250.8 1713.6,250.0 1714.0,249.3 1714.4,249.5 1714.8,250.2 1715.2,250.6 1715.6,249.3 1716.0,250.4 1716.4,249.0 1716.8,250.3 1717.2,248.8 1717.6,248.0 1717.9,248.4 1718.3,248.4 1718.7,248.8 1719.1,248.8 1719.5,248.4 1719.9,247.3 1720.3,247.7 1720.7,247.3 1721.1,247.5 1721.5,247.4 1721.9,247.4 1722.3,249.4 1722.7,248.0 1723.1,247.4 1723.5,248.4 1723.9,249.5 1724.3,249.5 1724.6,249.1 1725.0,250.4 1725.4,251.3 1725.8,249.5 1726.2,250.5 1726.6,251.0 1727.0,251.4 1727.4,250.9 1727.8,251.2 1728.2,249.9 1728.6,251.2 1729.0,249.8 1729.4,249.1 1729.8,250.3 1730.2,250.5 1730.6,250.4 1731.0,251.0 1731.3,251.9 1731.7,251.9 1732.1,252.3 1732.5,253.4 1732.9,253.7 1733.3,253.2 1733.7,254.2 1734.1,254.2 1734.5,255.1 1734.9,255.8 1735.3,256.3 1735.7,255.9 1736.1,256.5 1736.5,256.1 1736.9,257.2 1737.3,257.1 1737.7,256.9 1738.0,257.5 1738.4,256.4 1738.8,256.8 1739.2,257.4 1739.6,258.2 1740.0,257.3 1740.4,257.9 1740.8,258.4 1741.2,257.4 1741.6,258.0 1742.0,257.4 1742.4,258.8 1742.8,257.6 1743.2,257.9 1743.6,256.9 1744.0,257.2 1744.4,256.7 1744.8,257.6 1745.1,256.2 1745.5,257.8 1745.9,256.7 1746.3,256.7 1746.7,255.8 1747.1,256.1 1747.5,256.0 1747.9,255.9 1748.3,256.1 1748.7,255.1 1749.1,254.5 1749.5,256.8 1749.9,256.1 1750.3,257.8 1750.7,257.4 1751.1,258.6 1751.5,260.7 1751.8,260.8 1752.2,260.1 1752.6,260.0 1753.0,260.8 1753.4,259.1 1753.8,261.3 1754.2,260.3 1754.6,260.3 1755.0,261.1 1755.4,261.1 1755.8,261.4 1756.2,262.7 1756.6,262.5 1757.0,262.5 1757.4,263.5 1757.8,263.9 1758.2,264.3 1758.5,263.9 1758.9,263.8 1759.3,265.0 1759.7,264.4 1760.1,265.2 1760.5,264.1 1760.9,264.7 1761.3,265.8 1761.7,266.4 1762.1,267.0 1762.5,267.8 1762.9,268.3 1763.3,267.6 1763.7,268.1 1764.1,268.7 1764.5,268.6 1764.9,268.5 1765.2,269.6 1765.6,269.1 1766.0,267.3 1766.4,267.9 1766.8,268.1 1767.2,269.3 1767.6,267.4 1768.0,268.8 1768.4,268.6 1768.8,268.2 1769.2,269.0 1769.6,268.4 1770.0,267.9 1770.4,268.3 1770.8,269.8 1771.2,268.9 1771.6,270.0 1771.9,269.2 1772.3,268.1 1772.7,268.1 1773.1,269.2 1773.5,269.9 1773.9,268.9 1774.3,268.6 1774.7,268.5 1775.1,268.4 1775.5,268.2 1775.9,267.8 1776.3,267.7 1776.7,267.4 1777.1,267.6 1777.5,267.1 1777.9,267.8 1778.3,268.4 1778.6,268.3 1779.0,267.7 1779.4,269.0 1779.8,269.3 1780.2,267.4 1780.6,268.9 1781.0,268.6 1781.4,267.8 1781.8,267.1 1782.2,268.7 1782.6,269.1 1783.0,269.2 1783.4,269.4 1783.8,269.4 1784.2,268.7 1784.6,269.1 1785.0,269.0 1785.3,268.1 1785.7,267.1 1786.1,268.7 1786.5,267.4 1786.9,266.6 1787.3,267.7 1787.7,267.7 1788.1,266.9 1788.5,266.5 1788.9,266.5 1789.3,264.9 1789.7,265.2 1790.1,264.5 1790.5,265.2 1790.9,264.4 1791.3,265.7 1791.7,264.7 1792.0,264.5 1792.4,264.7 1792.8,266.9 1793.2,267.3 1793.6,266.7 1794.0,266.6 1794.4,267.1 1794.8,266.6 1795.2,265.0 1795.6,266.7 1796.0,268.0 1796.4,269.0 1796.8,269.7 1797.2,270.5 1797.6,269.9 1798.0,270.3 1798.4,270.7 1798.7,271.6 1799.1,270.6 1799.5,271.3 1799.9,272.8 1800.3,272.6 1800.7,273.5 1801.1,273.0 1801.5,274.9 1801.9,276.0 1802.3,276.2 1802.7,276.6 1803.1,277.0 1803.5,277.5 1803.9,277.8 1804.3,279.0 1804.7,278.6 1805.1,277.6 1805.4,277.5 1805.8,277.2 1806.2,276.6 1806.6,277.4 1807.0,277.1 1807.4,278.0 1807.8,277.4 1808.2,277.7 1808.6,278.0 1809.0,277.1 1809.4,277.8 1809.8,276.6 1810.2,277.2 1810.6,276.3 1811.0,276.0 1811.4,276.7 1811.8,276.0 1812.1,275.6 1812.5,275.9 1812.9,276.3 1813.3,277.3 1813.7,276.8 1814.1,277.6 1814.5,278.8 1814.9,280.1 1815.3,279.6 1815.7,280.8 1816.1,281.9 1816.5,281.9 1816.9,282.9 1817.3,283.0 1817.7,282.5 1818.1,284.3 1818.5,284.1 1818.8,285.7 1819.2,284.5 1819.6,285.3 1820.0,284.8 1820.4,284.3 1820.8,284.1 1821.2,284.5 1821.6,284.7 1822.0,284.3 1822.4,284.7 1822.8,285.0 1823.2,285.1 1823.6,286.4 1824.0,286.2 1824.4,284.7 1824.8,286.1 1825.2,285.8 1825.5,286.4 1825.9,285.7 1826.3,285.7 1826.7,286.1 1827.1,285.8 1827.5,286.7 1827.9,287.9 1828.3,288.0 1828.7,288.4 1829.1,287.8 1829.5,287.8 1829.9,287.7 1830.3,289.3 1830.7,290.8 1831.1,291.0 1831.5,291.1 1831.9,291.4 1832.2,290.9 1832.6,290.4 1833.0,290.5 1833.4,289.1 1833.8,288.9 1834.2,289.1 1834.6,289.0 1835.0,290.6 1835.4,291.0 1835.8,291.4 1836.2,291.5 1836.6,292.0 1837.0,291.8 1837.4,293.8 1837.8,293.6 1838.2,293.5 1838.6,294.0 1839.0,292.9 1839.3,293.3 1839.7,292.9 1840.1,292.6 1840.5,292.6 1840.9,292.5 1841.3,291.4 1841.7,292.9 1842.1,291.3 1842.5,291.9 1842.9,291.5 1843.3,291.4 1843.7,291.5 1844.1,291.8 1844.5,292.5 1844.9,293.6 1845.3,294.1 1845.7,293.8 1846.0,295.9 1846.4,294.3 1846.8,294.6 1847.2,294.4 1847.6,294.5 1848.0,293.5 1848.4,293.9 1848.8,293.6 1849.2,294.7 1849.6,295.1 1850.0,296.1 1850.4,296.1 1850.8,297.1 1851.2,296.9 1851.6,298.4 1852.0,297.2 1852.4,297.8 1852.7,296.9 1853.1,297.6 1853.5,298.6 1853.9,296.1 1854.3,297.8 1854.7,297.3 1855.1,296.8 1855.5,297.5 1855.9,296.3 1856.3,296.3 1856.7,296.6 1857.1,297.4 1857.5,296.2 1857.9,296.9 1858.3,296.7 1858.7,296.8 1859.1,297.4 1859.4,296.2 1859.8,296.7 1860.2,296.8 1860.6,297.9 1861.0,298.5 1861.4,297.8 1861.8,298.1 1862.2,298.2 1862.6,298.1 1863.0,298.2 1863.4,298.0 1863.8,300.1 1864.2,299.1 1864.6,299.4 1865.0,299.8 1865.4,299.7 1865.8,299.9 1866.1,300.5 1866.5,301.1 1866.9,301.0 1867.3,302.1 1867.7,300.9 1868.1,302.3 1868.5,303.1 1868.9,302.9 1869.3,302.5 1869.7,303.7 1870.1,303.5 1870.5,304.6 1870.9,305.5 1871.3,306.0 1871.7,304.9 1872.1,305.3 1872.5,305.5 1872.8,306.1 1873.2,306.5 1873.6,305.1 1874.0,306.6 1874.4,307.0 1874.8,304.9 1875.2,306.2 1875.6,305.7 1876.0,306.1 1876.4,306.1 1876.8,307.2 1877.2,307.3 1877.6,307.1 1878.0,307.2 1878.4,307.9 1878.8,306.0 1879.2,305.9 1879.5,304.8 1879.9,305.5 1880.3,305.9 1880.7,305.2 1881.1,306.8 1881.5,306.5 1881.9,306.5 1882.3,306.3 1882.7,307.3 1883.1,307.0 1883.5,308.0 1883.9,307.1 1884.3,308.0 1884.7,307.8 1885.1,308.8 1885.5,308.3 1885.9,309.2 1886.2,308.7 1886.6,308.7 1887.0,309.4 1887.4,309.6 1887.8,309.5 1888.2,309.5 1888.6,310.0 1889.0,309.1 1889.4,308.2 1889.8,309.1 1890.2,309.7 1890.6,308.6 1891.0,309.4 1891.4,310.2 1891.8,309.6 1892.2,310.1 1892.6,310.1 1892.9,310.8 1893.3,311.2 1893.7,310.6 1894.1,311.3 1894.5,313.1 1894.9,313.7 1895.3,313.2 1895.7,313.9 1896.1,313.4 1896.5,313.3 1896.9,314.3 1897.3,315.8 1897.7,315.4 1898.1,314.9 1898.5,316.1 1898.9,316.0 1899.3,315.6 1899.6,314.9 1900.0,314.8 1900.4,315.6 1900.8,315.0 1901.2,316.1 1901.6,315.4 1902.0,315.9 1902.4,317.9 1902.8,317.1 1903.2,316.9 1903.6,317.2 1904.0,317.5 1904.4,317.1 1904.8,316.3 1905.2,316.3 1905.6,316.2 1906.0,314.6 1906.3,313.5 1906.7,313.6 1907.1,313.0 1907.5,313.2 1907.9,313.8 1908.3,311.7 1908.7,313.8 1909.1,314.5 1909.5,314.4 1909.9,313.5 1910.3,312.0 1910.7,312.7 1911.1,312.7 1911.5,312.4 1911.9,311.9 1912.3,313.5 1912.7,314.0 1913.0,313.5 1913.4,315.6 1913.8,313.2 1914.2,314.4 1914.6,313.1 1915.0,313.5 1915.4,313.7 1915.8,312.8 1916.2,314.0 1916.6,313.2 1917.0,314.9 1917.4,315.2 1917.8,315.9 1918.2,315.2 1918.6,315.6 1919.0,314.9 1919.4,315.6 1919.7,315.6 1920.1,315.8 1920.5,315.9 1920.9,315.6 1921.3,316.8 1921.7,316.9 1922.1,316.7 1922.5,318.0 1922.9,319.1 1923.3,318.4 1923.7,318.4 1924.1,319.8 1924.5,319.8 1924.9,320.5 1925.3,320.4 1925.7,321.6 1926.1,321.8 1926.4,320.4 1926.8,321.0 1927.2,321.9 1927.6,323.1 1928.0,322.7 1928.4,323.6 1928.8,323.2 1929.2,323.2 1929.6,321.9 1930.0,323.0 1930.4,322.7 1930.8,322.7 1931.2,322.8 1931.6,322.8 1932.0,323.8 1932.4,324.8 1932.8,324.3 1933.2,324.3 1933.5,324.8 1933.9,324.7 1934.3,325.4 1934.7,326.3 1935.1,326.6 1935.5,327.0 1935.9,327.0 1936.3,327.3 1936.7,326.7 1937.1,328.2 1937.5,327.0 1937.9,327.6 1938.3,328.3 1938.7,327.1 1939.1,329.5 1939.5,329.3 1939.9,329.6 1940.2,330.7 1940.6,331.4 1941.0,331.8 1941.4,332.9 1941.8,332.3 1942.2,332.6 1942.6,332.2 1943.0,333.9 1943.4,334.8 1943.8,334.8 1944.2,334.1 1944.6,334.7 1945.0,334.9 1945.4,336.3 1945.8,336.7 1946.2,335.9 1946.6,335.9 1946.9,336.2 1947.3,335.8 1947.7,337.2 1948.1,337.2 1948.5,338.8 1948.9,337.7 1949.3,338.4 1949.7,339.2 1950.1,338.8 1950.5,338.3 1950.9,339.4 1951.3,339.3 1951.7,338.9 1952.1,337.9 1952.5,337.7 1952.9,337.0 1953.3,336.8 1953.6,337.5 1954.0,337.4 1954.4,337.7 1954.8,337.5 1955.2,336.5 1955.6,335.2 1956.0,336.4 1956.4,335.9 1956.8,335.0 1957.2,335.1 1957.6,334.9 1958.0,334.5 1958.4,333.4 1958.8,333.6 1959.2,331.8 1959.6,332.2 1960.0,333.3 1960.3,333.0 1960.7,333.8 1961.1,333.5 1961.5,333.4 1961.9,333.6 1962.3,333.2 1962.7,334.0 1963.1,334.4 1963.5,334.1 1963.9,334.2 1964.3,332.8 1964.7,333.7 1965.1,333.5 1965.5,334.1 1965.9,332.7 1966.3,333.5 1966.7,332.7 1967.0,332.9 1967.4,332.3 1967.8,332.0 1968.2,331.8 1968.6,331.6 1969.0,331.6 1969.4,330.8 1969.8,331.3 1970.2,331.2 1970.6,332.4 1971.0,332.5 1971.4,332.9 1971.8,332.8 1972.2,333.8 1972.6,334.7 1973.0,335.2 1973.4,336.2 1973.7,336.9 1974.1,336.6 1974.5,338.2 1974.9,336.7 1975.3,337.6 1975.7,335.7 1976.1,336.3 1976.5,337.4 1976.9,337.3 1977.3,338.4 1977.7,338.6 1978.1,338.6 1978.5,340.5 1978.9,340.3 1979.3,340.9 1979.7,340.9 1980.1,341.8 1980.4,342.1 1980.8,342.0 1981.2,342.2 1981.6,343.1 1982.0,342.9 1982.4,343.3 1982.8,344.3 1983.2,344.8 1983.6,345.5 1984.0,345.4 1984.4,346.2 1984.8,344.7 1985.2,344.2 1985.6,344.0 1986.0,344.0 1986.4,344.8 1986.8,345.0 1987.1,345.0" fill="none" stroke="#ff0000" stroke-width="2.3" stroke-linejoin="round" />
</g>
<rect x="1577.5" y="46.2" width="414.0" height="308.1" fill="none" stroke="#000" stroke-width="1.4" stroke-opacity="0.92"/>
<rect x="1588.9" y="51.9" width="101.3" height="74.5" rx="3.5" fill="#fff" fill-opacity="0.8" stroke="#ccc" stroke-width="1.3"/>
<line x1="1598.4" x2="1645.0" y1="70.0" y2="70.0" stroke="#0000ff" stroke-width="1.95" stroke-linecap="square"/>
<text transform="translate(1663.90,78.80) scale(1,1.04)" font-size="23.4" text-anchor="start" font-family="DejaVu Sans, Liberation Sans, sans-serif" >I</text>
<line x1="1598.4" x2="1645.0" y1="104.1" y2="104.1" stroke="#ff0000" stroke-width="1.95" stroke-linecap="square"/>
<text transform="translate(1663.90,112.90) scale(1,1.04)" font-size="23.4" text-anchor="start" font-family="DejaVu Sans, Liberation Sans, sans-serif" >D</text>
<text transform="translate(1784.50,26.90) scale(1,1.015)" font-size="27.4" text-anchor="middle" font-family="DejaVu Sans, Liberation Sans, sans-serif" >4-photon</text>
<text transform="translate(1784.50,407.40) scale(1,1.04)" font-size="23.1" text-anchor="middle" font-family="DejaVu Sans, Liberation Sans, sans-serif" >Events</text>
<text transform="translate(1546.6,192.0) rotate(-90) scale(1,1.04)" font-size="27.0" text-anchor="middle" font-family="DejaVu Sans, Liberation Sans, sans-serif">C</text>
<text x="1527.00" y="24.20" font-size="32.5" text-anchor="start" font-family="Liberation Sans, sans-serif" font-weight="bold">(d)</text>
<clipPath id="ce"><rect x="83.5" y="424.5" width="887.0" height="441.0"/></clipPath>
<rect x="83.5" y="424.5" width="552.73" height="441.0" fill="#d9ecd9"/>
<rect x="636.23" y="424.5" width="334.27" height="441.0" fill="#d9d9ff"/>
<line x1="636.23" x2="636.23" y1="424.5" y2="865.5" stroke="#93aed0" stroke-width="1.1"/>
<rect x="772.17" y="424.5" width="168.63" height="421.90" fill="#abd1f0"/>
<line x1="111.10" x2="111.10" y1="865.5" y2="869.3" stroke="#000" stroke-width="0.9"/>
<text transform="translate(111.10,890.10) scale(1,1.04)" font-size="24.4" text-anchor="middle" font-family="DejaVu Sans, Liberation Sans, sans-serif" >-2.5</text>
<line x1="216.13" x2="216.13" y1="865.5" y2="869.3" stroke="#000" stroke-width="0.9"/>
<text transform="translate(216.13,890.10) scale(1,1.04)" font-size="24.4" text-anchor="middle" font-family="DejaVu Sans, Liberation Sans, sans-serif" >-2.0</text>
<line x1="321.15" x2="321.15" y1="865.5" y2="869.3" stroke="#000" stroke-width="0.9"/>
<text transform="translate(321.15,890.10) scale(1,1.04)" font-size="24.4" text-anchor="middle" font-family="DejaVu Sans, Liberation Sans, sans-serif" >-1.5</text>
<line x1="426.18" x2="426.18" y1="865.5" y2="869.3" stroke="#000" stroke-width="0.9"/>
<text transform="translate(426.18,890.10) scale(1,1.04)" font-size="24.4" text-anchor="middle" font-family="DejaVu Sans, Liberation Sans, sans-serif" >-1.0</text>
<line x1="531.20" x2="531.20" y1="865.5" y2="869.3" stroke="#000" stroke-width="0.9"/>
<text transform="translate(531.20,890.10) scale(1,1.04)" font-size="24.4" text-anchor="middle" font-family="DejaVu Sans, Liberation Sans, sans-serif" >-0.5</text>
<line x1="636.23" x2="636.23" y1="865.5" y2="869.3" stroke="#000" stroke-width="0.9"/>
<text transform="translate(636.23,890.10) scale(1,1.04)" font-size="24.4" text-anchor="middle" font-family="DejaVu Sans, Liberation Sans, sans-serif" >0.0</text>
<line x1="741.25" x2="741.25" y1="865.5" y2="869.3" stroke="#000" stroke-width="0.9"/>
<text transform="translate(741.25,890.10) scale(1,1.04)" font-size="24.4" text-anchor="middle" font-family="DejaVu Sans, Liberation Sans, sans-serif" >0.5</text>
<line x1="846.27" x2="846.27" y1="865.5" y2="869.3" stroke="#000" stroke-width="0.9"/>
<text transform="translate(846.27,890.10) scale(1,1.04)" font-size="24.4" text-anchor="middle" font-family="DejaVu Sans, Liberation Sans, sans-serif" >1.0</text>
<line x1="951.30" x2="951.30" y1="865.5" y2="869.3" stroke="#000" stroke-width="0.9"/>
<text transform="translate(951.30,890.10) scale(1,1.04)" font-size="24.4" text-anchor="middle" font-family="DejaVu Sans, Liberation Sans, sans-serif" >1.5</text>
<line x1="79.9" x2="83.5" y1="473.10" y2="473.10" stroke="#000" stroke-width="0.9"/>
<text transform="translate(77.50,482.20) scale(1,1.04)" font-size="23.8" text-anchor="end" font-family="DejaVu Sans, Liberation Sans, sans-serif" >400</text>
<line x1="79.9" x2="83.5" y1="566.42" y2="566.42" stroke="#000" stroke-width="0.9"/>
<text transform="translate(77.50,575.52) scale(1,1.04)" font-size="23.8" text-anchor="end" font-family="DejaVu Sans, Liberation Sans, sans-serif" >300</text>
<line x1="79.9" x2="83.5" y1="659.75" y2="659.75" stroke="#000" stroke-width="0.9"/>
<text transform="translate(77.50,668.85) scale(1,1.04)" font-size="23.8" text-anchor="end" font-family="DejaVu Sans, Liberation Sans, sans-serif" >200</text>
<line x1="79.9" x2="83.5" y1="753.08" y2="753.08" stroke="#000" stroke-width="0.9"/>
<text transform="translate(77.50,762.18) scale(1,1.04)" font-size="23.8" text-anchor="end" font-family="DejaVu Sans, Liberation Sans, sans-serif" >100</text>
<line x1="79.9" x2="83.5" y1="846.40" y2="846.40" stroke="#000" stroke-width="0.9"/>
<text transform="translate(77.50,855.50) scale(1,1.04)" font-size="23.8" text-anchor="end" font-family="DejaVu Sans, Liberation Sans, sans-serif" >0</text>
<g clip-path="url(#ce)">
<path d="M60.80,846.40L60.80,846.40L68.55,846.40L68.55,846.40L76.31,846.40L76.31,845.47L84.06,845.47L84.06,846.40L91.82,846.40L91.82,846.40L99.57,846.40L99.57,846.40L107.33,846.40L107.33,845.47L115.09,845.47L115.09,846.40L122.84,846.40L122.84,846.40L130.60,846.40L130.60,844.53L138.35,844.53L138.35,846.40L146.11,846.40L146.11,846.40L153.86,846.40L153.86,845.47L161.62,845.47L161.62,845.47L169.37,845.47L169.37,844.53L177.13,844.53L177.13,844.53L184.88,844.53L184.88,844.25L192.63,844.25L192.63,842.76L200.39,842.76L200.39,843.88L208.14,843.88L208.14,842.29L215.90,842.29L215.90,841.73L223.65,841.73L223.65,839.49L231.41,839.49L231.41,836.69L239.16,836.69L239.16,837.35L246.92,837.35L246.92,834.08L254.68,834.08L254.68,839.49L262.43,839.49L262.43,830.25L270.19,830.25L270.19,816.35L277.94,816.35L277.94,821.48L285.69,821.48L285.69,816.72L293.45,816.72L293.45,799.83L301.20,799.83L301.20,797.96L308.96,797.96L308.96,775.19L316.72,775.19L316.72,780.51L324.47,780.51L324.47,765.77L332.23,765.77L332.23,762.13L339.98,762.13L339.98,727.22L347.74,727.22L347.74,713.79L355.49,713.79L355.49,653.12L363.25,653.12L363.25,688.87L371.00,688.87L371.00,629.89L378.75,629.89L378.75,629.89L386.51,629.89L386.51,616.73L394.26,616.73L394.26,607.95L402.02,607.95L402.02,548.41L409.77,548.41L409.77,522.38L417.53,522.38L417.53,504.36L425.28,504.36L425.28,502.87L433.04,502.87L433.04,474.13L440.80,474.13L440.80,467.13L448.55,467.13L448.55,468.90L456.31,468.90L456.31,454.81L464.06,454.81L464.06,501.38L471.81,501.38L471.81,503.34L479.57,503.34L479.57,514.82L487.32,514.82L487.32,516.31L495.08,516.31L495.08,515.28L502.84,515.28L502.84,551.68L510.59,551.68L510.59,563.53L518.35,563.53L518.35,571.65L526.10,571.65L526.10,625.41L533.86,625.41L533.86,656.02L541.61,656.02L541.61,660.87L549.37,660.87L549.37,660.87L557.12,660.87L557.12,691.48L564.88,691.48L564.88,714.53L572.63,714.53L572.63,703.43L580.38,703.43L580.38,747.57L588.14,747.57L588.14,760.35L595.89,760.35L595.89,770.62L603.65,770.62L603.65,785.55L611.40,785.55L611.40,792.36L619.16,792.36L619.16,786.86L626.91,786.86L626.91,792.36L634.67,792.36L634.67,806.46L642.42,806.46L642.42,800.95L650.18,800.95L650.18,822.14L657.93,822.14L657.93,826.24L665.69,826.24L665.69,835.11L673.44,835.11L673.44,832.40L681.20,832.40L681.20,829.69L688.95,829.69L688.95,836.97L696.71,836.97L696.71,838.37L704.46,838.37L704.46,835.67L712.22,835.67L712.22,840.52L719.98,840.52L719.98,841.08L727.73,841.08L727.73,841.92L735.49,841.92L735.49,843.13L743.24,843.13L743.24,843.60L751.00,843.60L751.00,844.53L758.75,844.53L758.75,844.53L766.50,844.53L766.50,845.47L774.26,845.47L774.26,845.47L782.01,845.47L782.01,845.47L789.77,845.47L789.77,846.40L797.52,846.40L797.52,845.47L805.28,845.47L805.28,846.40L813.03,846.40L813.03,846.40L820.79,846.40L820.79,846.40L828.55,846.40L828.55,844.07L836.30,844.07L836.30,846.40Z" fill="none" stroke="#0000ff" stroke-width="3.0" stroke-linejoin="miter"/>
<path d="M82.84,846.40L82.84,846.40L90.95,846.40L90.95,846.40L99.06,846.40L99.06,846.40L107.17,846.40L107.17,846.40L115.28,846.40L115.28,846.40L123.39,846.40L123.39,846.40L131.50,846.40L131.50,845.47L139.61,845.47L139.61,845.47L147.72,845.47L147.72,846.40L155.83,846.40L155.83,845.47L163.94,845.47L163.94,845.47L172.05,845.47L172.05,844.53L180.16,844.53L180.16,842.29L188.27,842.29L188.27,843.41L196.38,843.41L196.38,842.76L204.49,842.76L204.49,842.11L212.60,842.11L212.60,837.35L220.71,837.35L220.71,836.69L228.82,836.69L228.82,839.12L236.93,839.12L236.93,838.00L245.04,838.00L245.04,829.69L253.15,829.69L253.15,833.61L261.26,833.61L261.26,821.11L269.37,821.11L269.37,810.75L277.48,810.75L277.48,815.60L285.59,815.60L285.59,804.87L293.70,804.87L293.70,790.03L301.81,790.03L301.81,779.95L309.92,779.95L309.92,775.57L318.03,775.57L318.03,757.74L326.14,757.74L326.14,774.45L334.25,774.45L334.25,714.91L342.36,714.91L342.36,719.66L350.47,719.66L350.47,658.54L358.58,658.54L358.58,672.16L366.69,672.16L366.69,631.19L374.80,631.19L374.80,642.02L382.91,642.02L382.91,612.34L391.02,612.34L391.02,558.77L399.13,558.77L399.13,588.92L407.24,588.92L407.24,484.49L415.35,484.49L415.35,528.26L423.46,528.26L423.46,492.70L431.57,492.70L431.57,489.43L439.68,489.43L439.68,481.69L447.79,481.69L447.79,462.74L455.90,462.74L455.90,499.23L464.01,499.23L464.01,485.14L472.12,485.14L472.12,522.38L480.23,522.38L480.23,502.22L488.34,502.22L488.34,517.43L496.45,517.43L496.45,530.03L504.56,530.03L504.56,551.03L512.67,551.03L512.67,573.80L520.78,573.80L520.78,623.17L528.89,623.17L528.89,621.02L537.00,621.02L537.00,638.38L545.11,638.38L545.11,679.07L553.22,679.07L553.22,673.10L561.33,673.10L561.33,687.93L569.44,687.93L569.44,712.39L577.55,712.39L577.55,711.55L585.66,711.55L585.66,732.17L593.77,732.17L593.77,744.40L601.88,744.40L601.88,755.78L609.99,755.78L609.99,777.43L618.10,777.43L618.10,784.15L626.21,784.15L626.21,807.76L634.32,807.76L634.32,800.39L642.43,800.39L642.43,783.31L650.54,783.31L650.54,799.08L658.65,799.08L658.65,821.58L666.76,821.58L666.76,816.72L674.87,816.72L674.87,822.88L682.98,822.88L682.98,835.11L691.09,835.11L691.09,835.11L699.20,835.11L699.20,828.29L707.31,828.29L707.31,833.80L715.42,833.80L715.42,840.52L723.53,840.52L723.53,836.51L731.64,836.51L731.64,840.52L739.75,840.52L739.75,842.48L747.86,842.48L747.86,843.79L755.97,843.79L755.97,844.53L764.08,844.53L764.08,844.53L772.19,844.53L772.19,844.53L780.30,844.53L780.30,845.47L788.41,845.47L788.41,845.47L796.52,845.47L796.52,845.47L804.63,845.47L804.63,845.47L812.74,845.47L812.74,846.40L820.85,846.40L820.85,845.47L828.96,845.47L828.96,846.40L837.07,846.40L837.07,846.40L845.18,846.40L845.18,846.40L853.29,846.40L853.29,845.47L861.40,845.47L861.40,846.40L869.51,846.40L869.51,846.40L877.62,846.40L877.62,846.40L885.73,846.40L885.73,846.40L893.84,846.40L893.84,845.47L901.95,845.47L901.95,846.40Z" fill="none" stroke="#ff0000" stroke-width="3.0" stroke-linejoin="miter"/>
<line x1="83.5" x2="970.5" y1="846.50" y2="846.50" stroke="#000" stroke-width="1.5"/>
</g>
<line x1="772.17" x2="772.17" y1="731.80" y2="815.30" stroke="#0000ff" stroke-width="2.4"/>
<polygon points="766.47,814.30 777.87,814.30 772.17,828.90" fill="#0000ff"/>
<line x1="846.70" x2="846.70" y1="731.80" y2="815.30" stroke="#0000ff" stroke-width="2.4"/>
<polygon points="841.00,814.30 852.40,814.30 846.70,828.90" fill="#0000ff"/>
<line x1="846.70" x2="846.70" y1="731.80" y2="804.10" stroke="#0000ff" stroke-width="2.4"/>
<polygon points="841.00,803.10 852.40,803.10 846.70,817.70" fill="#0000ff"/>
<line x1="846.70" x2="846.70" y1="731.80" y2="792.40" stroke="#0000ff" stroke-width="2.4"/>
<polygon points="841.00,791.40 852.40,791.40 846.70,806.00" fill="#0000ff"/>
<line x1="846.70" x2="846.70" y1="731.80" y2="780.80" stroke="#0000ff" stroke-width="2.4"/>
<polygon points="841.00,779.80 852.40,779.80 846.70,794.40" fill="#0000ff"/>
<line x1="861.40" x2="861.40" y1="731.80" y2="815.30" stroke="#0000ff" stroke-width="2.4"/>
<polygon points="855.70,814.30 867.10,814.30 861.40,828.90" fill="#0000ff"/>
<line x1="869.80" x2="869.80" y1="731.80" y2="815.30" stroke="#0000ff" stroke-width="2.4"/>
<polygon points="864.10,814.30 875.50,814.30 869.80,828.90" fill="#0000ff"/>
<line x1="884.50" x2="884.50" y1="731.80" y2="815.30" stroke="#0000ff" stroke-width="2.4"/>
<polygon points="878.80,814.30 890.20,814.30 884.50,828.90" fill="#0000ff"/>
<line x1="896.48" x2="896.48" y1="731.80" y2="815.30" stroke="#0000ff" stroke-width="2.4"/>
<polygon points="890.78,814.30 902.18,814.30 896.48,828.90" fill="#0000ff"/>
<line x1="940.59" x2="940.59" y1="731.80" y2="815.30" stroke="#0000ff" stroke-width="2.4"/>
<polygon points="934.89,814.30 946.29,814.30 940.59,828.90" fill="#0000ff"/>
<polygon points="940.59,830.90 943.96,841.26 954.85,841.26 946.04,847.67 949.40,858.04 940.59,851.63 931.77,858.04 935.14,847.67 926.32,841.26 937.22,841.26" fill="#eebc1d" stroke="#000" stroke-width="0.9" stroke-linejoin="miter"/>
<path d="M938.39,843.10L942.79,847.50M938.39,847.50L942.79,843.10" stroke="#000" stroke-width="1.2" fill="none"/>
<polygon points="896.48,830.90 899.84,841.26 910.74,841.26 901.93,847.67 905.29,858.04 896.48,851.63 887.66,858.04 891.03,847.67 882.21,841.26 893.11,841.26" fill="#eebc1d" stroke="#000" stroke-width="0.9" stroke-linejoin="miter"/>
<path d="M894.28,843.10L898.68,847.50M894.28,847.50L898.68,843.10" stroke="#000" stroke-width="1.2" fill="none"/>
<polygon points="884.50,830.90 887.87,841.26 898.77,841.26 889.95,847.67 893.32,858.04 884.50,851.63 875.69,858.04 879.06,847.67 870.24,841.26 881.14,841.26" fill="#eebc1d" stroke="#000" stroke-width="0.9" stroke-linejoin="miter"/>
<path d="M882.30,843.10L886.70,847.50M882.30,847.50L886.70,843.10" stroke="#000" stroke-width="1.2" fill="none"/>
<polygon points="869.80,830.90 873.17,841.26 884.07,841.26 875.25,847.67 878.62,858.04 869.80,851.63 860.98,858.04 864.35,847.67 855.53,841.26 866.43,841.26" fill="#eebc1d" stroke="#000" stroke-width="0.9" stroke-linejoin="miter"/>
<path d="M867.60,843.10L872.00,847.50M867.60,847.50L872.00,843.10" stroke="#000" stroke-width="1.2" fill="none"/>
<polygon points="861.40,830.90 864.77,841.26 875.66,841.26 866.85,847.67 870.22,858.04 861.40,851.63 852.58,858.04 855.95,847.67 847.13,841.26 858.03,841.26" fill="#eebc1d" stroke="#000" stroke-width="0.9" stroke-linejoin="miter"/>
<path d="M859.20,843.10L863.60,847.50M859.20,847.50L863.60,843.10" stroke="#000" stroke-width="1.2" fill="none"/>
<polygon points="846.70,830.90 850.06,841.26 860.96,841.26 852.14,847.67 855.51,858.04 846.70,851.63 837.88,858.04 841.25,847.67 832.43,841.26 843.33,841.26" fill="#eebc1d" stroke="#000" stroke-width="0.9" stroke-linejoin="miter"/>
<path d="M844.50,843.10L848.90,847.50M844.50,847.50L848.90,843.10" stroke="#000" stroke-width="1.2" fill="none"/>
<polygon points="772.17,830.90 775.54,841.26 786.44,841.26 777.62,847.67 780.99,858.04 772.17,851.63 763.35,858.04 766.72,847.67 757.90,841.26 768.80,841.26" fill="#eebc1d" stroke="#000" stroke-width="0.9" stroke-linejoin="miter"/>
<path d="M769.97,843.10L774.37,847.50M769.97,847.50L774.37,843.10" stroke="#000" stroke-width="1.2" fill="none"/>
<rect x="83.5" y="424.5" width="887.0" height="441.0" fill="none" stroke="#000" stroke-width="1" stroke-opacity="0.8"/>
<rect x="95.7" y="436.9" width="109.0" height="80.5" rx="3.5" fill="#fff" fill-opacity="0.97" stroke="#d4d4d4" stroke-width="1.3"/>
<rect x="105.9" y="448.3" width="50" height="17.4" fill="none" stroke="#0000ff" stroke-width="2.6"/>
<text transform="translate(175.70,465.90) scale(1,1.04)" font-size="24.3" text-anchor="start" font-family="DejaVu Sans, Liberation Sans, sans-serif" >I</text>
<rect x="105.9" y="485.1" width="50" height="17.4" fill="none" stroke="#ff0000" stroke-width="2.6"/>
<text transform="translate(175.70,502.70) scale(1,1.04)" font-size="24.3" text-anchor="start" font-family="DejaVu Sans, Liberation Sans, sans-serif" >D</text>
<text transform="translate(527.00,915.60) scale(1,1.015)" font-size="27.0" text-anchor="middle" font-family="DejaVu Sans, Liberation Sans, sans-serif" >Slopes distributions</text>
<text x="39.00" y="424.20" font-size="32.5" text-anchor="start" font-family="Liberation Sans, sans-serif" font-weight="bold">(e)</text>
<text x="856.00" y="454.30" font-size="18.67" text-anchor="middle" font-family="Liberation Sans, sans-serif" font-style="italic">Experimental slopes</text>
<text x="858.50" y="477.30" font-size="18.67" text-anchor="middle" font-family="Liberation Sans, sans-serif" font-style="italic">region</text>
<clipPath id="cf"><rect x="1098.5" y="424.5" width="887.0" height="441.0"/></clipPath>
<rect x="1098.5" y="424.5" width="562.90" height="441.0" fill="#ffd9d9"/>
<rect x="1661.40" y="424.5" width="324.10" height="441.0" fill="#d9d9ff"/>
<line x1="1661.40" x2="1661.40" y1="424.5" y2="865.5" stroke="#b57ac2" stroke-width="1.1"/>
<rect x="1726.62" y="424.5" width="241.64" height="421.90" fill="#acccf2"/>
<line x1="1135.40" x2="1135.40" y1="865.5" y2="869.3" stroke="#000" stroke-width="0.9"/>
<text transform="translate(1135.40,890.10) scale(1,1.04)" font-size="24.4" text-anchor="middle" font-family="DejaVu Sans, Liberation Sans, sans-serif" >-2.0</text>
<line x1="1266.90" x2="1266.90" y1="865.5" y2="869.3" stroke="#000" stroke-width="0.9"/>
<text transform="translate(1266.90,890.10) scale(1,1.04)" font-size="24.4" text-anchor="middle" font-family="DejaVu Sans, Liberation Sans, sans-serif" >-1.5</text>
<line x1="1398.40" x2="1398.40" y1="865.5" y2="869.3" stroke="#000" stroke-width="0.9"/>
<text transform="translate(1398.40,890.10) scale(1,1.04)" font-size="24.4" text-anchor="middle" font-family="DejaVu Sans, Liberation Sans, sans-serif" >-1.0</text>
<line x1="1529.90" x2="1529.90" y1="865.5" y2="869.3" stroke="#000" stroke-width="0.9"/>
<text transform="translate(1529.90,890.10) scale(1,1.04)" font-size="24.4" text-anchor="middle" font-family="DejaVu Sans, Liberation Sans, sans-serif" >-0.5</text>
<line x1="1661.40" x2="1661.40" y1="865.5" y2="869.3" stroke="#000" stroke-width="0.9"/>
<text transform="translate(1661.40,890.10) scale(1,1.04)" font-size="24.4" text-anchor="middle" font-family="DejaVu Sans, Liberation Sans, sans-serif" >0.0</text>
<line x1="1792.90" x2="1792.90" y1="865.5" y2="869.3" stroke="#000" stroke-width="0.9"/>
<text transform="translate(1792.90,890.10) scale(1,1.04)" font-size="24.4" text-anchor="middle" font-family="DejaVu Sans, Liberation Sans, sans-serif" >0.5</text>
<line x1="1924.40" x2="1924.40" y1="865.5" y2="869.3" stroke="#000" stroke-width="0.9"/>
<text transform="translate(1924.40,890.10) scale(1,1.04)" font-size="24.4" text-anchor="middle" font-family="DejaVu Sans, Liberation Sans, sans-serif" >1.0</text>
<line x1="1094.9" x2="1098.5" y1="459.20" y2="459.20" stroke="#000" stroke-width="0.9"/>
<text transform="translate(1092.50,468.30) scale(1,1.04)" font-size="23.8" text-anchor="end" font-family="DejaVu Sans, Liberation Sans, sans-serif" >800</text>
<line x1="1094.9" x2="1098.5" y1="556.00" y2="556.00" stroke="#000" stroke-width="0.9"/>
<text transform="translate(1092.50,565.10) scale(1,1.04)" font-size="23.8" text-anchor="end" font-family="DejaVu Sans, Liberation Sans, sans-serif" >600</text>
<line x1="1094.9" x2="1098.5" y1="652.80" y2="652.80" stroke="#000" stroke-width="0.9"/>
<text transform="translate(1092.50,661.90) scale(1,1.04)" font-size="23.8" text-anchor="end" font-family="DejaVu Sans, Liberation Sans, sans-serif" >400</text>
<line x1="1094.9" x2="1098.5" y1="749.60" y2="749.60" stroke="#000" stroke-width="0.9"/>
<text transform="translate(1092.50,758.70) scale(1,1.04)" font-size="23.8" text-anchor="end" font-family="DejaVu Sans, Liberation Sans, sans-serif" >200</text>
<line x1="1094.9" x2="1098.5" y1="846.40" y2="846.40" stroke="#000" stroke-width="0.9"/>
<text transform="translate(1092.50,855.50) scale(1,1.04)" font-size="23.8" text-anchor="end" font-family="DejaVu Sans, Liberation Sans, sans-serif" >0</text>
<g clip-path="url(#cf)">
<path d="M1093.20,846.40L1093.20,844.95L1106.60,844.95L1106.60,844.22L1120.00,844.22L1120.00,842.92L1133.40,842.92L1133.40,843.40L1146.80,843.40L1146.80,841.71L1160.20,841.71L1160.20,842.92L1173.60,842.92L1173.60,841.22L1187.00,841.22L1187.00,837.49L1200.40,837.49L1200.40,839.19L1213.80,839.19L1213.80,835.03L1227.20,835.03L1227.20,832.51L1240.60,832.51L1240.60,830.52L1254.00,830.52L1254.00,827.52L1267.40,827.52L1267.40,816.83L1280.80,816.83L1280.80,805.55L1294.20,805.55L1294.20,789.34L1307.60,789.34L1307.60,763.15L1321.00,763.15L1321.00,750.76L1334.40,750.76L1334.40,712.09L1347.80,712.09L1347.80,669.74L1361.20,669.74L1361.20,630.78L1374.60,630.78L1374.60,616.02L1388.00,616.02L1388.00,575.51L1401.40,575.51L1401.40,565.34L1414.80,565.34L1414.80,513.80L1428.20,513.80L1428.20,519.55L1441.60,519.55L1441.60,522.85L1455.00,522.85L1455.00,507.89L1468.40,507.89L1468.40,531.07L1481.80,531.07L1481.80,574.00L1495.20,574.00L1495.20,610.60L1508.60,610.60L1508.60,641.38L1522.00,641.38L1522.00,672.55L1535.40,672.55L1535.40,695.54L1548.80,695.54L1548.80,744.37L1562.20,744.37L1562.20,754.39L1575.60,754.39L1575.60,773.36L1589.00,773.36L1589.00,792.34L1602.40,792.34L1602.40,807.24L1615.80,807.24L1615.80,818.81L1629.20,818.81L1629.20,824.33L1642.60,824.33L1642.60,831.59L1656.00,831.59L1656.00,835.12L1669.40,835.12L1669.40,837.78L1682.80,837.78L1682.80,840.59L1696.20,840.59L1696.20,842.53L1709.60,842.53L1709.60,843.98L1723.00,843.98L1723.00,844.95L1736.40,844.95L1736.40,844.95L1749.80,844.95L1749.80,845.43L1763.20,845.43L1763.20,845.92L1776.60,845.92L1776.60,845.43L1790.00,845.43L1790.00,845.43L1803.40,845.43L1803.40,846.40L1816.80,846.40L1816.80,846.40L1830.20,846.40L1830.20,846.40L1843.60,846.40L1843.60,846.40L1857.00,846.40L1857.00,846.40L1870.40,846.40L1870.40,846.40L1883.80,846.40L1883.80,846.40L1897.20,846.40L1897.20,846.40L1910.60,846.40L1910.60,846.40L1924.00,846.40L1924.00,845.43L1937.40,845.43L1937.40,846.40L1950.80,846.40L1950.80,846.40L1964.20,846.40L1964.20,846.40L1977.60,846.40L1977.60,846.40L1991.00,846.40L1991.00,846.40Z" fill="none" stroke="#0000ff" stroke-width="3.0" stroke-linejoin="miter"/>
<path d="M1102.60,846.40L1102.60,844.22L1116.90,844.22L1116.90,844.22L1131.20,844.22L1131.20,841.71L1145.50,841.71L1145.50,843.40L1159.80,843.40L1159.80,841.22L1174.10,841.22L1174.10,843.40L1188.40,843.40L1188.40,839.19L1202.70,839.19L1202.70,838.03L1217.00,838.03L1217.00,835.46L1231.30,835.46L1231.30,836.72L1245.60,836.72L1245.60,831.01L1259.90,831.01L1259.90,818.81L1274.20,818.81L1274.20,815.04L1288.50,815.04L1288.50,805.55L1302.80,805.55L1302.80,780.14L1317.10,780.14L1317.10,747.47L1331.40,747.47L1331.40,718.29L1345.70,718.29L1345.70,683.44L1360.00,683.44L1360.00,608.42L1374.30,608.42L1374.30,581.99L1388.60,581.99L1388.60,541.04L1402.90,541.04L1402.90,491.63L1417.20,491.63L1417.20,490.32L1431.50,490.32L1431.50,462.35L1445.80,462.35L1445.80,469.32L1460.10,469.32L1460.10,529.96L1474.40,529.96L1474.40,550.14L1488.70,550.14L1488.70,582.62L1503.00,582.62L1503.00,600.43L1517.30,600.43L1517.30,656.82L1531.60,656.82L1531.60,685.28L1545.90,685.28L1545.90,726.17L1560.20,726.17L1560.20,750.86L1574.50,750.86L1574.50,776.07L1588.80,776.07L1588.80,799.06L1603.10,799.06L1603.10,808.55L1617.40,808.55L1617.40,814.55L1631.70,814.55L1631.70,830.82L1646.00,830.82L1646.00,833.53L1660.30,833.53L1660.30,836.24L1674.60,836.24L1674.60,839.72L1688.90,839.72L1688.90,841.90L1703.20,841.90L1703.20,843.25L1717.50,843.25L1717.50,844.46L1731.80,844.46L1731.80,844.95L1746.10,844.95L1746.10,844.95L1760.40,844.95L1760.40,845.43L1774.70,845.43L1774.70,845.92L1789.00,845.92L1789.00,845.92L1803.30,845.92L1803.30,845.92L1817.60,845.92L1817.60,845.43L1831.90,845.43L1831.90,845.92L1846.20,845.92L1846.20,846.40L1860.50,846.40L1860.50,846.40L1874.80,846.40L1874.80,846.40L1889.10,846.40L1889.10,846.40L1903.40,846.40L1903.40,845.92L1917.70,845.92L1917.70,846.40L1932.00,846.40L1932.00,846.40L1946.30,846.40L1946.30,846.40L1960.60,846.40L1960.60,846.40L1974.90,846.40L1974.90,846.40L1989.20,846.40L1989.20,846.40Z" fill="none" stroke="#ff0000" stroke-width="3.0" stroke-linejoin="miter"/>
<line x1="1098.5" x2="1985.5" y1="846.50" y2="846.50" stroke="#000" stroke-width="1.5"/>
</g>
<line x1="1727.33" x2="1727.33" y1="731.80" y2="815.30" stroke="#0000ff" stroke-width="2.4"/>
<polygon points="1721.63,814.30 1733.03,814.30 1727.33,828.90" fill="#0000ff"/>
<line x1="1739.43" x2="1739.43" y1="731.80" y2="815.30" stroke="#0000ff" stroke-width="2.4"/>
<polygon points="1733.73,814.30 1745.13,814.30 1739.43,828.90" fill="#0000ff"/>
<line x1="1759.95" x2="1759.95" y1="731.80" y2="815.30" stroke="#0000ff" stroke-width="2.4"/>
<polygon points="1754.25,814.30 1765.65,814.30 1759.95,828.90" fill="#0000ff"/>
<line x1="1764.42" x2="1764.42" y1="731.80" y2="815.30" stroke="#0000ff" stroke-width="2.4"/>
<polygon points="1758.72,814.30 1770.12,814.30 1764.42,828.90" fill="#0000ff"/>
<line x1="1775.46" x2="1775.46" y1="731.80" y2="815.30" stroke="#0000ff" stroke-width="2.4"/>
<polygon points="1769.76,814.30 1781.16,814.30 1775.46,828.90" fill="#0000ff"/>
<line x1="1867.78" x2="1867.78" y1="731.80" y2="815.30" stroke="#0000ff" stroke-width="2.4"/>
<polygon points="1862.08,814.30 1873.48,814.30 1867.78,828.90" fill="#0000ff"/>
<line x1="1871.06" x2="1871.06" y1="731.80" y2="815.30" stroke="#0000ff" stroke-width="2.4"/>
<polygon points="1865.36,814.30 1876.76,814.30 1871.06,828.90" fill="#0000ff"/>
<line x1="1890.39" x2="1890.39" y1="731.80" y2="815.30" stroke="#0000ff" stroke-width="2.4"/>
<polygon points="1884.69,814.30 1896.09,814.30 1890.39,828.90" fill="#0000ff"/>
<line x1="1936.42" x2="1936.42" y1="731.80" y2="815.30" stroke="#0000ff" stroke-width="2.4"/>
<polygon points="1930.72,814.30 1942.12,814.30 1936.42,828.90" fill="#0000ff"/>
<line x1="1968.77" x2="1968.77" y1="731.80" y2="815.30" stroke="#0000ff" stroke-width="2.4"/>
<polygon points="1963.07,814.30 1974.47,814.30 1968.77,828.90" fill="#0000ff"/>
<polygon points="1968.77,830.90 1972.14,841.26 1983.03,841.26 1974.22,847.67 1977.58,858.04 1968.77,851.63 1959.95,858.04 1963.32,847.67 1954.50,841.26 1965.40,841.26" fill="#eebc1d" stroke="#000" stroke-width="0.9" stroke-linejoin="miter"/>
<path d="M1966.57,843.10L1970.97,847.50M1966.57,847.50L1970.97,843.10" stroke="#000" stroke-width="1.2" fill="none"/>
<polygon points="1936.42,830.90 1939.79,841.26 1950.68,841.26 1941.87,847.67 1945.24,858.04 1936.42,851.63 1927.60,858.04 1930.97,847.67 1922.15,841.26 1933.05,841.26" fill="#eebc1d" stroke="#000" stroke-width="0.9" stroke-linejoin="miter"/>
<path d="M1934.22,843.10L1938.62,847.50M1934.22,847.50L1938.62,843.10" stroke="#000" stroke-width="1.2" fill="none"/>
<polygon points="1890.39,830.90 1893.76,841.26 1904.66,841.26 1895.84,847.67 1899.21,858.04 1890.39,851.63 1881.58,858.04 1884.95,847.67 1876.13,841.26 1887.03,841.26" fill="#eebc1d" stroke="#000" stroke-width="0.9" stroke-linejoin="miter"/>
<path d="M1888.19,843.10L1892.59,847.50M1888.19,847.50L1892.59,843.10" stroke="#000" stroke-width="1.2" fill="none"/>
<polygon points="1871.06,830.90 1874.43,841.26 1885.33,841.26 1876.51,847.67 1879.88,858.04 1871.06,851.63 1862.25,858.04 1865.61,847.67 1856.80,841.26 1867.70,841.26" fill="#eebc1d" stroke="#000" stroke-width="0.9" stroke-linejoin="miter"/>
<path d="M1868.86,843.10L1873.26,847.50M1868.86,847.50L1873.26,843.10" stroke="#000" stroke-width="1.2" fill="none"/>
<polygon points="1867.78,830.90 1871.14,841.26 1882.04,841.26 1873.23,847.67 1876.59,858.04 1867.78,851.63 1858.96,858.04 1862.33,847.67 1853.51,841.26 1864.41,841.26" fill="#eebc1d" stroke="#000" stroke-width="0.9" stroke-linejoin="miter"/>
<path d="M1865.58,843.10L1869.98,847.50M1865.58,847.50L1869.98,843.10" stroke="#000" stroke-width="1.2" fill="none"/>
<polygon points="1775.46,830.90 1778.83,841.26 1789.73,841.26 1780.91,847.67 1784.28,858.04 1775.46,851.63 1766.65,858.04 1770.01,847.67 1761.20,841.26 1772.10,841.26" fill="#eebc1d" stroke="#000" stroke-width="0.9" stroke-linejoin="miter"/>
<path d="M1773.26,843.10L1777.66,847.50M1773.26,847.50L1777.66,843.10" stroke="#000" stroke-width="1.2" fill="none"/>
<polygon points="1764.42,830.90 1767.78,841.26 1778.68,841.26 1769.87,847.67 1773.23,858.04 1764.42,851.63 1755.60,858.04 1758.97,847.67 1750.15,841.26 1761.05,841.26" fill="#eebc1d" stroke="#000" stroke-width="0.9" stroke-linejoin="miter"/>
<path d="M1762.22,843.10L1766.62,847.50M1762.22,847.50L1766.62,843.10" stroke="#000" stroke-width="1.2" fill="none"/>
<polygon points="1759.95,830.90 1763.31,841.26 1774.21,841.26 1765.40,847.67 1768.76,858.04 1759.95,851.63 1751.13,858.04 1754.50,847.67 1745.68,841.26 1756.58,841.26" fill="#eebc1d" stroke="#000" stroke-width="0.9" stroke-linejoin="miter"/>
<path d="M1757.75,843.10L1762.15,847.50M1757.75,847.50L1762.15,843.10" stroke="#000" stroke-width="1.2" fill="none"/>
<polygon points="1739.43,830.90 1742.80,841.26 1753.70,841.26 1744.88,847.67 1748.25,858.04 1739.43,851.63 1730.62,858.04 1733.98,847.67 1725.17,841.26 1736.06,841.26" fill="#eebc1d" stroke="#000" stroke-width="0.9" stroke-linejoin="miter"/>
<path d="M1737.23,843.10L1741.63,847.50M1737.23,847.50L1741.63,843.10" stroke="#000" stroke-width="1.2" fill="none"/>
<polygon points="1727.33,830.90 1730.70,841.26 1741.60,841.26 1732.78,847.67 1736.15,858.04 1727.33,851.63 1718.52,858.04 1721.89,847.67 1713.07,841.26 1723.97,841.26" fill="#eebc1d" stroke="#000" stroke-width="0.9" stroke-linejoin="miter"/>
<path d="M1725.13,843.10L1729.53,847.50M1725.13,847.50L1729.53,843.10" stroke="#000" stroke-width="1.2" fill="none"/>
<rect x="1098.5" y="424.5" width="887.0" height="441.0" fill="none" stroke="#000" stroke-width="1" stroke-opacity="0.8"/>
<rect x="1110.7" y="436.9" width="109.0" height="80.5" rx="3.5" fill="#fff" fill-opacity="0.97" stroke="#d4d4d4" stroke-width="1.3"/>
<rect x="1120.9" y="448.3" width="50" height="17.4" fill="none" stroke="#0000ff" stroke-width="2.6"/>
<text transform="translate(1190.70,465.90) scale(1,1.04)" font-size="24.3" text-anchor="start" font-family="DejaVu Sans, Liberation Sans, sans-serif" >I</text>
<rect x="1120.9" y="485.1" width="50" height="17.4" fill="none" stroke="#ff0000" stroke-width="2.6"/>
<text transform="translate(1190.70,502.70) scale(1,1.04)" font-size="24.3" text-anchor="start" font-family="DejaVu Sans, Liberation Sans, sans-serif" >D</text>
<text transform="translate(1542.00,915.60) scale(1,1.015)" font-size="27.0" text-anchor="middle" font-family="DejaVu Sans, Liberation Sans, sans-serif" >Slopes distributions</text>
<text x="1047.80" y="424.20" font-size="32.5" text-anchor="start" font-family="Liberation Sans, sans-serif" font-weight="bold">(f)</text>
<text x="1847.50" y="454.30" font-size="18.67" text-anchor="middle" font-family="Liberation Sans, sans-serif" font-style="italic">Experimental slopes</text>
<text x="1850.00" y="477.30" font-size="18.67" text-anchor="middle" font-family="Liberation Sans, sans-serif" font-style="italic">region</text>
</svg>
</body></html>
